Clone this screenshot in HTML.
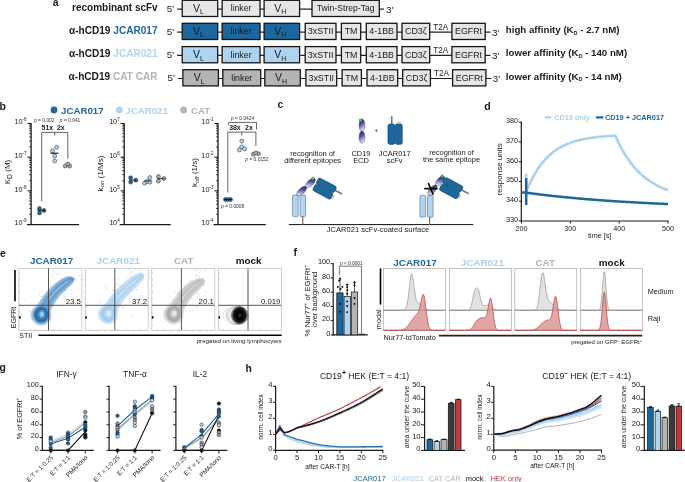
<!DOCTYPE html>
<html><head><meta charset="utf-8"><style>
html,body{margin:0;padding:0;background:#fff;overflow:hidden;}
svg{display:block;will-change:transform;filter:blur(0.3px);}
text{font-family:"Liberation Sans", sans-serif;}
</style></head><body>
<svg width="685" height="482" viewBox="0 0 685 482">
<defs>
<linearGradient id="pg" x1="0" y1="0" x2="0.35" y2="1"><stop offset="0" stop-color="#25276e"/><stop offset="0.45" stop-color="#4a4c98"/><stop offset="1" stop-color="#e6e6f4"/></linearGradient>
</defs>
<rect width="685" height="482" fill="#fff"/>
<text x="52.8" y="6.4" font-size="10.4" text-anchor="start" font-weight="bold" fill="#1a1a1a" >a</text>
<text x="157.7" y="10.6" font-size="10.0" text-anchor="end" font-weight="bold" fill="#1a1a1a" >recombinant scFv</text>
<text x="166.8" y="12" font-size="9.9" text-anchor="start" fill="#1a1a1a" >5'</text>
<line x1="177.2" y1="9.1" x2="384" y2="9.1" stroke="#222" stroke-width="1.2" />
<rect x="182.2" y="0.3" width="35.5" height="16.2" fill="#e6e6e6" stroke="#151515" stroke-width="1.3" rx="0" />
<text x="198.45" y="12" font-size="10.5" text-anchor="middle" fill="#1a1a1a">V<tspan font-size="7" dy="2.2">L</tspan></text>
<rect x="222.1" y="0.3" width="37.9" height="16.2" fill="#e6e6e6" stroke="#151515" stroke-width="1.3" rx="0" />
<text x="241.05" y="11.4" font-size="8.65" text-anchor="middle" fill="#1a1a1a" >linker</text>
<rect x="264.1" y="0.3" width="35.5" height="16.2" fill="#e6e6e6" stroke="#151515" stroke-width="1.3" rx="0" />
<text x="280.35" y="12" font-size="10.5" text-anchor="middle" fill="#1a1a1a">V<tspan font-size="7" dy="2.2">H</tspan></text>
<rect x="312" y="0.3" width="67.3" height="16.2" fill="#e6e6e6" stroke="#151515" stroke-width="1.3" rx="0" />
<text x="345.65" y="11.4" font-size="8.65" text-anchor="middle" fill="#1a1a1a" >Twin-Strep-Tag</text>
<text x="386" y="12.8" font-size="9.9" text-anchor="start" fill="#1a1a1a" >3'</text>
<text x="157.6" y="33.7" font-size="10.1" text-anchor="end" font-weight="bold" fill="#1a1a1a">α-hCD19 <tspan fill="#1b679e">JCAR017</tspan></text>
<text x="166.8" y="35" font-size="9.9" text-anchor="start" fill="#1a1a1a" >5'</text>
<line x1="177.2" y1="32.1" x2="490.5" y2="32.1" stroke="#222" stroke-width="1.2" />
<rect x="182.2" y="23.3" width="35.5" height="16.2" fill="#1b679e" stroke="#151515" stroke-width="1.3" rx="0" />
<text x="198.45" y="35" font-size="10.5" text-anchor="middle" fill="#1a1a1a">V<tspan font-size="7" dy="2.2">L</tspan></text>
<rect x="222.1" y="23.3" width="37.9" height="16.2" fill="#1b679e" stroke="#151515" stroke-width="1.3" rx="0" />
<text x="241.05" y="34.4" font-size="8.85" text-anchor="middle" fill="#1a1a1a" >linker</text>
<rect x="264.1" y="23.3" width="35.5" height="16.2" fill="#1b679e" stroke="#151515" stroke-width="1.3" rx="0" />
<text x="280.35" y="35" font-size="10.5" text-anchor="middle" fill="#1a1a1a">V<tspan font-size="7" dy="2.2">H</tspan></text>
<rect x="305.2" y="23.3" width="30.8" height="16.2" fill="#e6e6e6" stroke="#151515" stroke-width="1.3" rx="0" />
<text x="320.6" y="34.4" font-size="8.85" text-anchor="middle" fill="#1a1a1a" >3xSTII</text>
<rect x="341.4" y="23.3" width="19.3" height="16.2" fill="#e6e6e6" stroke="#151515" stroke-width="1.3" rx="0" />
<text x="351.05" y="34.4" font-size="8.85" text-anchor="middle" fill="#1a1a1a" >TM</text>
<rect x="366.3" y="23.3" width="30.7" height="16.2" fill="#e6e6e6" stroke="#151515" stroke-width="1.3" rx="0" />
<text x="381.65" y="34.4" font-size="8.85" text-anchor="middle" fill="#1a1a1a" >4-1BB</text>
<rect x="402" y="23.3" width="27.7" height="16.2" fill="#e6e6e6" stroke="#151515" stroke-width="1.3" rx="0" />
<text x="415.85" y="34.4" font-size="8.85" text-anchor="middle" fill="#1a1a1a" >CD3ζ</text>
<rect x="451.9" y="23.3" width="33.3" height="16.2" fill="#e6e6e6" stroke="#151515" stroke-width="1.3" rx="0" />
<text x="468.55" y="34.4" font-size="8.85" text-anchor="middle" fill="#1a1a1a" >EGFRt</text>
<text x="440.8" y="29.8" font-size="8.2" text-anchor="middle" fill="#1a1a1a" >T2A</text>
<text x="492" y="35.8" font-size="9.9" text-anchor="start" fill="#1a1a1a" >3'</text>
<text x="157.6" y="57" font-size="10.1" text-anchor="end" font-weight="bold" fill="#1a1a1a">α-hCD19 <tspan fill="#aed4ef">JCAR021</tspan></text>
<text x="166.8" y="58.3" font-size="9.9" text-anchor="start" fill="#1a1a1a" >5'</text>
<line x1="177.2" y1="55.4" x2="490.5" y2="55.4" stroke="#222" stroke-width="1.2" />
<rect x="182.2" y="46.6" width="35.5" height="16.2" fill="#aed4ef" stroke="#151515" stroke-width="1.3" rx="0" />
<text x="198.45" y="58.3" font-size="10.5" text-anchor="middle" fill="#1a1a1a">V<tspan font-size="7" dy="2.2">L</tspan></text>
<rect x="222.1" y="46.6" width="37.9" height="16.2" fill="#aed4ef" stroke="#151515" stroke-width="1.3" rx="0" />
<text x="241.05" y="57.7" font-size="8.85" text-anchor="middle" fill="#1a1a1a" >linker</text>
<rect x="264.1" y="46.6" width="35.5" height="16.2" fill="#aed4ef" stroke="#151515" stroke-width="1.3" rx="0" />
<text x="280.35" y="58.3" font-size="10.5" text-anchor="middle" fill="#1a1a1a">V<tspan font-size="7" dy="2.2">H</tspan></text>
<rect x="305.2" y="46.6" width="30.8" height="16.2" fill="#e6e6e6" stroke="#151515" stroke-width="1.3" rx="0" />
<text x="320.6" y="57.7" font-size="8.85" text-anchor="middle" fill="#1a1a1a" >3xSTII</text>
<rect x="341.4" y="46.6" width="19.3" height="16.2" fill="#e6e6e6" stroke="#151515" stroke-width="1.3" rx="0" />
<text x="351.05" y="57.7" font-size="8.85" text-anchor="middle" fill="#1a1a1a" >TM</text>
<rect x="366.3" y="46.6" width="30.7" height="16.2" fill="#e6e6e6" stroke="#151515" stroke-width="1.3" rx="0" />
<text x="381.65" y="57.7" font-size="8.85" text-anchor="middle" fill="#1a1a1a" >4-1BB</text>
<rect x="402" y="46.6" width="27.7" height="16.2" fill="#e6e6e6" stroke="#151515" stroke-width="1.3" rx="0" />
<text x="415.85" y="57.7" font-size="8.85" text-anchor="middle" fill="#1a1a1a" >CD3ζ</text>
<rect x="451.9" y="46.6" width="33.3" height="16.2" fill="#e6e6e6" stroke="#151515" stroke-width="1.3" rx="0" />
<text x="468.55" y="57.7" font-size="8.85" text-anchor="middle" fill="#1a1a1a" >EGFRt</text>
<text x="440.8" y="53.1" font-size="8.2" text-anchor="middle" fill="#1a1a1a" >T2A</text>
<text x="492" y="59.1" font-size="9.9" text-anchor="start" fill="#1a1a1a" >3'</text>
<text x="157.6" y="80.1" font-size="10.1" text-anchor="end" font-weight="bold" fill="#1a1a1a">α-hCD19 <tspan fill="#b4b4b4">CAT CAR</tspan></text>
<text x="167.5" y="81.4" font-size="9.9" text-anchor="start" fill="#1a1a1a" >5'</text>
<line x1="177.9" y1="78.5" x2="491.2" y2="78.5" stroke="#222" stroke-width="1.2" />
<rect x="182.9" y="69.7" width="35.5" height="16.2" fill="#b4b4b4" stroke="#151515" stroke-width="1.3" rx="0" />
<text x="199.15" y="81.4" font-size="10.5" text-anchor="middle" fill="#1a1a1a">V<tspan font-size="7" dy="2.2">L</tspan></text>
<rect x="222.8" y="69.7" width="37.9" height="16.2" fill="#b4b4b4" stroke="#151515" stroke-width="1.3" rx="0" />
<text x="241.75" y="80.8" font-size="8.85" text-anchor="middle" fill="#1a1a1a" >linker</text>
<rect x="264.8" y="69.7" width="35.5" height="16.2" fill="#b4b4b4" stroke="#151515" stroke-width="1.3" rx="0" />
<text x="281.05" y="81.4" font-size="10.5" text-anchor="middle" fill="#1a1a1a">V<tspan font-size="7" dy="2.2">H</tspan></text>
<rect x="305.9" y="69.7" width="30.8" height="16.2" fill="#e6e6e6" stroke="#151515" stroke-width="1.3" rx="0" />
<text x="321.3" y="80.8" font-size="8.85" text-anchor="middle" fill="#1a1a1a" >3xSTII</text>
<rect x="342.1" y="69.7" width="19.3" height="16.2" fill="#e6e6e6" stroke="#151515" stroke-width="1.3" rx="0" />
<text x="351.75" y="80.8" font-size="8.85" text-anchor="middle" fill="#1a1a1a" >TM</text>
<rect x="367" y="69.7" width="30.7" height="16.2" fill="#e6e6e6" stroke="#151515" stroke-width="1.3" rx="0" />
<text x="382.35" y="80.8" font-size="8.85" text-anchor="middle" fill="#1a1a1a" >4-1BB</text>
<rect x="402.7" y="69.7" width="27.7" height="16.2" fill="#e6e6e6" stroke="#151515" stroke-width="1.3" rx="0" />
<text x="416.55" y="80.8" font-size="8.85" text-anchor="middle" fill="#1a1a1a" >CD3ζ</text>
<rect x="452.6" y="69.7" width="33.3" height="16.2" fill="#e6e6e6" stroke="#151515" stroke-width="1.3" rx="0" />
<text x="469.25" y="80.8" font-size="8.85" text-anchor="middle" fill="#1a1a1a" >EGFRt</text>
<text x="441.5" y="76.2" font-size="8.2" text-anchor="middle" fill="#1a1a1a" >T2A</text>
<text x="492.7" y="82.2" font-size="9.9" text-anchor="start" fill="#1a1a1a" >3'</text>
<text x="505.8" y="33.1" font-size="9.7" font-weight="bold" fill="#1a1a1a">high affinity (K<tspan font-size="5.5" dy="1.8">D</tspan><tspan dy="-1.8"> - 2.7 nM)</tspan></text>
<text x="505.8" y="56.4" font-size="9.7" font-weight="bold" fill="#1a1a1a">lower affinity (K<tspan font-size="5.5" dy="1.8">D</tspan><tspan dy="-1.8"> - 140 nM)</tspan></text>
<text x="505.8" y="79.5" font-size="9.7" font-weight="bold" fill="#1a1a1a">lower affinity (K<tspan font-size="5.5" dy="1.8">D</tspan><tspan dy="-1.8"> - 14 nM)</tspan></text>
<text x="-0.6" y="109.9" font-size="10.5" text-anchor="start" font-weight="bold" fill="#1a1a1a" >b</text>
<circle cx="54" cy="110" r="3.4" fill="#1b679e" stroke="none" stroke-width="0.6"/>
<text x="61" y="113.8" font-size="9.7" text-anchor="start" font-weight="bold" fill="#1b679e" >JCAR017</text>
<circle cx="119.4" cy="110" r="3.4" fill="#aed4ef" stroke="none" stroke-width="0.6"/>
<text x="125.3" y="113.8" font-size="9.7" text-anchor="start" font-weight="bold" fill="#aed4ef" >JCAR021</text>
<circle cx="183.6" cy="110" r="3.4" fill="#b4b4b4" stroke="none" stroke-width="0.6"/>
<text x="191" y="113.8" font-size="9.7" text-anchor="start" font-weight="bold" fill="#b4b4b4" >CAT</text>
<line x1="31.1" y1="123" x2="31.1" y2="224.9" stroke="#1a1a1a" stroke-width="1.3" />
<line x1="27.5" y1="123.5" x2="31.1" y2="123.5" stroke="#1a1a1a" stroke-width="1.1" />
<text x="26.6" y="124.3" font-size="7.2" text-anchor="end" fill="#1a1a1a">10<tspan font-size="4.6" dy="-3">-6</tspan></text>
<line x1="27.5" y1="157.17" x2="31.1" y2="157.17" stroke="#1a1a1a" stroke-width="1.1" />
<text x="26.6" y="157.97" font-size="7.2" text-anchor="end" fill="#1a1a1a">10<tspan font-size="4.6" dy="-3">-7</tspan></text>
<line x1="27.5" y1="190.84" x2="31.1" y2="190.84" stroke="#1a1a1a" stroke-width="1.1" />
<text x="26.6" y="191.64" font-size="7.2" text-anchor="end" fill="#1a1a1a">10<tspan font-size="4.6" dy="-3">-8</tspan></text>
<line x1="27.5" y1="224.51" x2="31.1" y2="224.51" stroke="#1a1a1a" stroke-width="1.1" />
<text x="26.6" y="225.31" font-size="7.2" text-anchor="end" fill="#1a1a1a">10<tspan font-size="4.6" dy="-3">-9</tspan></text>
<line x1="29.1" y1="147.03" x2="31.1" y2="147.03" stroke="#1a1a1a" stroke-width="0.8" />
<line x1="29.1" y1="141.11" x2="31.1" y2="141.11" stroke="#1a1a1a" stroke-width="0.8" />
<line x1="29.1" y1="136.9" x2="31.1" y2="136.9" stroke="#1a1a1a" stroke-width="0.8" />
<line x1="29.1" y1="133.64" x2="31.1" y2="133.64" stroke="#1a1a1a" stroke-width="0.8" />
<line x1="29.1" y1="130.97" x2="31.1" y2="130.97" stroke="#1a1a1a" stroke-width="0.8" />
<line x1="29.1" y1="128.72" x2="31.1" y2="128.72" stroke="#1a1a1a" stroke-width="0.8" />
<line x1="29.1" y1="126.76" x2="31.1" y2="126.76" stroke="#1a1a1a" stroke-width="0.8" />
<line x1="29.1" y1="125.04" x2="31.1" y2="125.04" stroke="#1a1a1a" stroke-width="0.8" />
<line x1="29.1" y1="180.7" x2="31.1" y2="180.7" stroke="#1a1a1a" stroke-width="0.8" />
<line x1="29.1" y1="174.78" x2="31.1" y2="174.78" stroke="#1a1a1a" stroke-width="0.8" />
<line x1="29.1" y1="170.57" x2="31.1" y2="170.57" stroke="#1a1a1a" stroke-width="0.8" />
<line x1="29.1" y1="167.31" x2="31.1" y2="167.31" stroke="#1a1a1a" stroke-width="0.8" />
<line x1="29.1" y1="164.64" x2="31.1" y2="164.64" stroke="#1a1a1a" stroke-width="0.8" />
<line x1="29.1" y1="162.39" x2="31.1" y2="162.39" stroke="#1a1a1a" stroke-width="0.8" />
<line x1="29.1" y1="160.43" x2="31.1" y2="160.43" stroke="#1a1a1a" stroke-width="0.8" />
<line x1="29.1" y1="158.71" x2="31.1" y2="158.71" stroke="#1a1a1a" stroke-width="0.8" />
<line x1="29.1" y1="214.37" x2="31.1" y2="214.37" stroke="#1a1a1a" stroke-width="0.8" />
<line x1="29.1" y1="208.45" x2="31.1" y2="208.45" stroke="#1a1a1a" stroke-width="0.8" />
<line x1="29.1" y1="204.24" x2="31.1" y2="204.24" stroke="#1a1a1a" stroke-width="0.8" />
<line x1="29.1" y1="200.98" x2="31.1" y2="200.98" stroke="#1a1a1a" stroke-width="0.8" />
<line x1="29.1" y1="198.31" x2="31.1" y2="198.31" stroke="#1a1a1a" stroke-width="0.8" />
<line x1="29.1" y1="196.06" x2="31.1" y2="196.06" stroke="#1a1a1a" stroke-width="0.8" />
<line x1="29.1" y1="194.1" x2="31.1" y2="194.1" stroke="#1a1a1a" stroke-width="0.8" />
<line x1="29.1" y1="192.38" x2="31.1" y2="192.38" stroke="#1a1a1a" stroke-width="0.8" />
<line x1="26.9" y1="224.6" x2="79.1" y2="224.6" stroke="#1a1a1a" stroke-width="1.3" />
<text transform="translate(10.3,172) rotate(-90)" font-size="8" text-anchor="middle" fill="#1a1a1a">K<tspan font-size="6.8" dy="1.3">D</tspan><tspan dy="-1.3"> (M)</tspan></text>
<path d="M41.7,201.3 L41.7,132.4 L67.8,132.4 L67.8,158.5" fill="none" stroke="#555" stroke-width="0.9" />
<line x1="54.7" y1="132.4" x2="54.7" y2="135.5" stroke="#555" stroke-width="0.9" />
<text x="41.6" y="129.9" font-size="6.9" text-anchor="start" font-weight="bold" fill="#1a1a1a" >51x</text>
<text x="57" y="129.9" font-size="6.9" text-anchor="start" font-weight="bold" fill="#1a1a1a" >2x</text>
<text x="34" y="122.2" font-size="4.9" fill="#333"><tspan font-style="italic">p</tspan> = 0.002</text>
<text x="59.8" y="122.2" font-size="4.9" fill="#333"><tspan font-style="italic">p</tspan> = 0.041</text>
<circle cx="39.5" cy="208.5" r="2.0" fill="#1b679e" stroke="#333" stroke-width="0.55"/>
<circle cx="39.5" cy="212.9" r="2.0" fill="#1b679e" stroke="#333" stroke-width="0.55"/>
<circle cx="44" cy="210.4" r="2.0" fill="#1b679e" stroke="#333" stroke-width="0.55"/>
<line x1="37.5" y1="210.6" x2="45" y2="210.6" stroke="#111" stroke-width="0.9" />
<circle cx="56.6" cy="147.3" r="2.0" fill="#aed4ef" stroke="#333" stroke-width="0.55"/>
<circle cx="52.5" cy="151" r="2.0" fill="#aed4ef" stroke="#333" stroke-width="0.55"/>
<circle cx="54.7" cy="156" r="2.0" fill="#aed4ef" stroke="#333" stroke-width="0.55"/>
<circle cx="54.7" cy="161" r="2.0" fill="#aed4ef" stroke="#333" stroke-width="0.55"/>
<line x1="50.4" y1="153.2" x2="58.5" y2="153.2" stroke="#111" stroke-width="1.1" />
<circle cx="65.3" cy="166" r="2.0" fill="#aaa" stroke="#333" stroke-width="0.55"/>
<circle cx="69.7" cy="166" r="2.0" fill="#aaa" stroke="#333" stroke-width="0.55"/>
<circle cx="67.8" cy="164.1" r="2.0" fill="#aaa" stroke="#333" stroke-width="0.55"/>
<line x1="124.2" y1="123" x2="124.2" y2="224.9" stroke="#1a1a1a" stroke-width="1.3" />
<line x1="120.6" y1="123.5" x2="124.2" y2="123.5" stroke="#1a1a1a" stroke-width="1.1" />
<text x="119.7" y="124.3" font-size="7.2" text-anchor="end" fill="#1a1a1a">10<tspan font-size="4.6" dy="-3">7</tspan></text>
<line x1="120.6" y1="157.17" x2="124.2" y2="157.17" stroke="#1a1a1a" stroke-width="1.1" />
<text x="119.7" y="157.97" font-size="7.2" text-anchor="end" fill="#1a1a1a">10<tspan font-size="4.6" dy="-3">6</tspan></text>
<line x1="120.6" y1="190.84" x2="124.2" y2="190.84" stroke="#1a1a1a" stroke-width="1.1" />
<text x="119.7" y="191.64" font-size="7.2" text-anchor="end" fill="#1a1a1a">10<tspan font-size="4.6" dy="-3">5</tspan></text>
<line x1="120.6" y1="224.51" x2="124.2" y2="224.51" stroke="#1a1a1a" stroke-width="1.1" />
<text x="119.7" y="225.31" font-size="7.2" text-anchor="end" fill="#1a1a1a">10<tspan font-size="4.6" dy="-3">4</tspan></text>
<line x1="122.2" y1="147.03" x2="124.2" y2="147.03" stroke="#1a1a1a" stroke-width="0.8" />
<line x1="122.2" y1="141.11" x2="124.2" y2="141.11" stroke="#1a1a1a" stroke-width="0.8" />
<line x1="122.2" y1="136.9" x2="124.2" y2="136.9" stroke="#1a1a1a" stroke-width="0.8" />
<line x1="122.2" y1="133.64" x2="124.2" y2="133.64" stroke="#1a1a1a" stroke-width="0.8" />
<line x1="122.2" y1="130.97" x2="124.2" y2="130.97" stroke="#1a1a1a" stroke-width="0.8" />
<line x1="122.2" y1="128.72" x2="124.2" y2="128.72" stroke="#1a1a1a" stroke-width="0.8" />
<line x1="122.2" y1="126.76" x2="124.2" y2="126.76" stroke="#1a1a1a" stroke-width="0.8" />
<line x1="122.2" y1="125.04" x2="124.2" y2="125.04" stroke="#1a1a1a" stroke-width="0.8" />
<line x1="122.2" y1="180.7" x2="124.2" y2="180.7" stroke="#1a1a1a" stroke-width="0.8" />
<line x1="122.2" y1="174.78" x2="124.2" y2="174.78" stroke="#1a1a1a" stroke-width="0.8" />
<line x1="122.2" y1="170.57" x2="124.2" y2="170.57" stroke="#1a1a1a" stroke-width="0.8" />
<line x1="122.2" y1="167.31" x2="124.2" y2="167.31" stroke="#1a1a1a" stroke-width="0.8" />
<line x1="122.2" y1="164.64" x2="124.2" y2="164.64" stroke="#1a1a1a" stroke-width="0.8" />
<line x1="122.2" y1="162.39" x2="124.2" y2="162.39" stroke="#1a1a1a" stroke-width="0.8" />
<line x1="122.2" y1="160.43" x2="124.2" y2="160.43" stroke="#1a1a1a" stroke-width="0.8" />
<line x1="122.2" y1="158.71" x2="124.2" y2="158.71" stroke="#1a1a1a" stroke-width="0.8" />
<line x1="122.2" y1="214.37" x2="124.2" y2="214.37" stroke="#1a1a1a" stroke-width="0.8" />
<line x1="122.2" y1="208.45" x2="124.2" y2="208.45" stroke="#1a1a1a" stroke-width="0.8" />
<line x1="122.2" y1="204.24" x2="124.2" y2="204.24" stroke="#1a1a1a" stroke-width="0.8" />
<line x1="122.2" y1="200.98" x2="124.2" y2="200.98" stroke="#1a1a1a" stroke-width="0.8" />
<line x1="122.2" y1="198.31" x2="124.2" y2="198.31" stroke="#1a1a1a" stroke-width="0.8" />
<line x1="122.2" y1="196.06" x2="124.2" y2="196.06" stroke="#1a1a1a" stroke-width="0.8" />
<line x1="122.2" y1="194.1" x2="124.2" y2="194.1" stroke="#1a1a1a" stroke-width="0.8" />
<line x1="122.2" y1="192.38" x2="124.2" y2="192.38" stroke="#1a1a1a" stroke-width="0.8" />
<line x1="119.7" y1="224.6" x2="170.8" y2="224.6" stroke="#1a1a1a" stroke-width="1.3" />
<text transform="translate(102.5,173.5) rotate(-90)" font-size="8" text-anchor="middle" fill="#1a1a1a">k<tspan font-size="6.2" dy="1.5">on</tspan><tspan dy="-1.5"> (1/Ms)</tspan></text>
<circle cx="130.6" cy="177.8" r="2.0" fill="#1b679e" stroke="#333" stroke-width="0.55"/>
<circle cx="130.6" cy="182.1" r="2.0" fill="#1b679e" stroke="#333" stroke-width="0.55"/>
<circle cx="135.9" cy="180.2" r="2.0" fill="#1b679e" stroke="#333" stroke-width="0.55"/>
<line x1="129.5" y1="180" x2="136" y2="180" stroke="#111" stroke-width="0.8" />
<circle cx="144.6" cy="183.1" r="2.0" fill="#aed4ef" stroke="#333" stroke-width="0.55"/>
<circle cx="147.2" cy="181.3" r="2.0" fill="#aed4ef" stroke="#333" stroke-width="0.55"/>
<circle cx="149.9" cy="177.6" r="2.0" fill="#aed4ef" stroke="#333" stroke-width="0.55"/>
<circle cx="149.9" cy="182.1" r="2.0" fill="#aed4ef" stroke="#333" stroke-width="0.55"/>
<line x1="144" y1="181" x2="151" y2="181" stroke="#111" stroke-width="0.8" />
<circle cx="158.4" cy="176.6" r="2.0" fill="#aaa" stroke="#333" stroke-width="0.55"/>
<circle cx="158.4" cy="181" r="2.0" fill="#aaa" stroke="#333" stroke-width="0.55"/>
<circle cx="163.9" cy="178.5" r="2.0" fill="#aaa" stroke="#333" stroke-width="0.55"/>
<line x1="157.5" y1="178.7" x2="164.5" y2="178.7" stroke="#111" stroke-width="0.8" />
<line x1="218" y1="123" x2="218" y2="224.9" stroke="#1a1a1a" stroke-width="1.3" />
<line x1="214.4" y1="123.5" x2="218" y2="123.5" stroke="#1a1a1a" stroke-width="1.1" />
<text x="213.5" y="124.3" font-size="7.2" text-anchor="end" fill="#1a1a1a">10<tspan font-size="4.6" dy="-3">-1</tspan></text>
<line x1="214.4" y1="157.17" x2="218" y2="157.17" stroke="#1a1a1a" stroke-width="1.1" />
<text x="213.5" y="157.97" font-size="7.2" text-anchor="end" fill="#1a1a1a">10<tspan font-size="4.6" dy="-3">-2</tspan></text>
<line x1="214.4" y1="190.84" x2="218" y2="190.84" stroke="#1a1a1a" stroke-width="1.1" />
<text x="213.5" y="191.64" font-size="7.2" text-anchor="end" fill="#1a1a1a">10<tspan font-size="4.6" dy="-3">-3</tspan></text>
<line x1="214.4" y1="224.51" x2="218" y2="224.51" stroke="#1a1a1a" stroke-width="1.1" />
<text x="213.5" y="225.31" font-size="7.2" text-anchor="end" fill="#1a1a1a">10<tspan font-size="4.6" dy="-3">-4</tspan></text>
<line x1="216" y1="147.03" x2="218" y2="147.03" stroke="#1a1a1a" stroke-width="0.8" />
<line x1="216" y1="141.11" x2="218" y2="141.11" stroke="#1a1a1a" stroke-width="0.8" />
<line x1="216" y1="136.9" x2="218" y2="136.9" stroke="#1a1a1a" stroke-width="0.8" />
<line x1="216" y1="133.64" x2="218" y2="133.64" stroke="#1a1a1a" stroke-width="0.8" />
<line x1="216" y1="130.97" x2="218" y2="130.97" stroke="#1a1a1a" stroke-width="0.8" />
<line x1="216" y1="128.72" x2="218" y2="128.72" stroke="#1a1a1a" stroke-width="0.8" />
<line x1="216" y1="126.76" x2="218" y2="126.76" stroke="#1a1a1a" stroke-width="0.8" />
<line x1="216" y1="125.04" x2="218" y2="125.04" stroke="#1a1a1a" stroke-width="0.8" />
<line x1="216" y1="180.7" x2="218" y2="180.7" stroke="#1a1a1a" stroke-width="0.8" />
<line x1="216" y1="174.78" x2="218" y2="174.78" stroke="#1a1a1a" stroke-width="0.8" />
<line x1="216" y1="170.57" x2="218" y2="170.57" stroke="#1a1a1a" stroke-width="0.8" />
<line x1="216" y1="167.31" x2="218" y2="167.31" stroke="#1a1a1a" stroke-width="0.8" />
<line x1="216" y1="164.64" x2="218" y2="164.64" stroke="#1a1a1a" stroke-width="0.8" />
<line x1="216" y1="162.39" x2="218" y2="162.39" stroke="#1a1a1a" stroke-width="0.8" />
<line x1="216" y1="160.43" x2="218" y2="160.43" stroke="#1a1a1a" stroke-width="0.8" />
<line x1="216" y1="158.71" x2="218" y2="158.71" stroke="#1a1a1a" stroke-width="0.8" />
<line x1="216" y1="214.37" x2="218" y2="214.37" stroke="#1a1a1a" stroke-width="0.8" />
<line x1="216" y1="208.45" x2="218" y2="208.45" stroke="#1a1a1a" stroke-width="0.8" />
<line x1="216" y1="204.24" x2="218" y2="204.24" stroke="#1a1a1a" stroke-width="0.8" />
<line x1="216" y1="200.98" x2="218" y2="200.98" stroke="#1a1a1a" stroke-width="0.8" />
<line x1="216" y1="198.31" x2="218" y2="198.31" stroke="#1a1a1a" stroke-width="0.8" />
<line x1="216" y1="196.06" x2="218" y2="196.06" stroke="#1a1a1a" stroke-width="0.8" />
<line x1="216" y1="194.1" x2="218" y2="194.1" stroke="#1a1a1a" stroke-width="0.8" />
<line x1="216" y1="192.38" x2="218" y2="192.38" stroke="#1a1a1a" stroke-width="0.8" />
<line x1="213.5" y1="224.6" x2="265.8" y2="224.6" stroke="#1a1a1a" stroke-width="1.3" />
<text transform="translate(197.3,172.6) rotate(-90)" font-size="8" text-anchor="middle" fill="#1a1a1a">k<tspan font-size="6.2" dy="1.5">off</tspan><tspan dy="-1.5"> (1/s)</tspan></text>
<path d="M227.8,192.6 L227.8,132.1 L255.9,132.1 L255.9,146" fill="none" stroke="#555" stroke-width="0.9" />
<line x1="241.8" y1="132.1" x2="241.8" y2="135.5" stroke="#555" stroke-width="0.9" />
<path d="M228.5,124.8 L228.5,122.4 L256.5,122.4 L256.5,129.5" fill="none" stroke="#555" stroke-width="0.9" />
<text x="229.2" y="130.1" font-size="6.9" text-anchor="start" font-weight="bold" fill="#1a1a1a" >38x</text>
<text x="245.1" y="130.1" font-size="6.9" text-anchor="start" font-weight="bold" fill="#1a1a1a" >2x</text>
<text x="231" y="120" font-size="4.9" fill="#333"><tspan font-style="italic">p</tspan> = 0.0424</text>
<text x="245.3" y="161" font-size="4.9" fill="#333"><tspan font-style="italic">p</tspan> = 0.0152</text>
<text x="221" y="207.8" font-size="4.9" fill="#333"><tspan font-style="italic">p</tspan> = 0.0008</text>
<circle cx="241.8" cy="141.1" r="2.0" fill="#aed4ef" stroke="#333" stroke-width="0.55"/>
<circle cx="241.6" cy="146.9" r="2.0" fill="#aed4ef" stroke="#333" stroke-width="0.55"/>
<circle cx="239.4" cy="150" r="2.0" fill="#aed4ef" stroke="#333" stroke-width="0.55"/>
<circle cx="244.7" cy="148.9" r="2.0" fill="#aed4ef" stroke="#333" stroke-width="0.55"/>
<circle cx="253.4" cy="154.2" r="2.0" fill="#aaa" stroke="#333" stroke-width="0.55"/>
<circle cx="258.4" cy="153.8" r="2.0" fill="#aaa" stroke="#333" stroke-width="0.55"/>
<circle cx="255.9" cy="152.9" r="2.0" fill="#aaa" stroke="#333" stroke-width="0.55"/>
<circle cx="225.5" cy="199.5" r="2.0" fill="#1b679e" stroke="#333" stroke-width="0.55"/>
<circle cx="228" cy="199.5" r="2.0" fill="#1b679e" stroke="#333" stroke-width="0.55"/>
<circle cx="230.5" cy="199.5" r="2.0" fill="#1b679e" stroke="#333" stroke-width="0.55"/>
<line x1="224" y1="199.5" x2="232" y2="199.5" stroke="#111" stroke-width="0.8" />
<text x="277.4" y="107.9" font-size="10.3" text-anchor="start" font-weight="bold" fill="#1a1a1a" >c</text>
<g transform="translate(362,131.2) rotate(0) scale(1.0)"><ellipse cx="0" cy="-6" rx="2.9" ry="6.2" fill="url(#pg)" stroke="#2a2c6a" stroke-width="0.4"/><ellipse cx="0" cy="6" rx="2.9" ry="6.2" fill="url(#pg)" stroke="#2a2c6a" stroke-width="0.4"/><circle cx="-1.6" cy="-11" r="1.35" fill="#3ee03e" stroke="#1a7a1a" stroke-width="0.3"/></g>
<text x="376.3" y="132.3" font-size="6" text-anchor="middle" fill="#1a1a1a" >+</text>
<g transform="translate(395.1,134.2) rotate(0)"><line x1="-3.4" y1="-10" x2="-3.4" y2="-18" stroke="#7a7a7a" stroke-width="1.7"/><path d="M1.6,-10 A2,2 0 0 1 5.6,-10" fill="#f4f4f4" stroke="#666" stroke-width="0.4"/><rect x="-7.2" y="-10.2" width="7" height="20.4" rx="2" fill="#1b679e" stroke="#0b3350" stroke-width="0.5"/><rect x="0.2" y="-10.2" width="7" height="20.4" rx="2" fill="#1b679e" stroke="#0b3350" stroke-width="0.5"/></g>
<text x="312.6" y="156" font-size="7.45" text-anchor="middle" fill="#1a1a1a" >recognition of</text>
<text x="312.6" y="163.3" font-size="7.45" text-anchor="middle" fill="#1a1a1a" >different epitopes</text>
<text x="361" y="155.7" font-size="7.45" text-anchor="middle" fill="#1a1a1a" >CD19</text>
<text x="361" y="162.8" font-size="7.45" text-anchor="middle" fill="#1a1a1a" >ECD</text>
<text x="394.7" y="155.6" font-size="7.45" text-anchor="middle" fill="#1a1a1a" >JCAR017</text>
<text x="394.7" y="163.1" font-size="7.45" text-anchor="middle" fill="#1a1a1a" >scFv</text>
<text x="451.5" y="154.5" font-size="7.45" text-anchor="middle" fill="#1a1a1a" >recognition of</text>
<text x="451.5" y="161.6" font-size="7.45" text-anchor="middle" fill="#1a1a1a" >the same epitope</text>
<line x1="288.8" y1="224.6" x2="473.2" y2="224.6" stroke="#111" stroke-width="1" />
<text x="378" y="231.6" font-size="7.55" text-anchor="middle" fill="#1a1a1a" >JCAR021 scFv-coated surface</text>
<line x1="302.7" y1="215.6" x2="302.7" y2="224.6" stroke="#777" stroke-width="1.3" />
<rect x="292.4" y="195" width="5.8" height="21.6" fill="#aed4ef" stroke="#556" stroke-width="0.5" rx="1" />
<rect x="300" y="195" width="5.6" height="21.6" fill="#aed4ef" stroke="#556" stroke-width="0.5" rx="1" />
<g transform="translate(306,187) rotate(47) scale(1.0)"><ellipse cx="0" cy="-6" rx="2.9" ry="6.2" fill="url(#pg)" stroke="#2a2c6a" stroke-width="0.4"/><ellipse cx="0" cy="6" rx="2.9" ry="6.2" fill="url(#pg)" stroke="#2a2c6a" stroke-width="0.4"/><circle cx="-1.6" cy="-11" r="1.35" fill="#3ee03e" stroke="#1a7a1a" stroke-width="0.3"/></g>
<g transform="translate(324.6,188.6) rotate(118)"><line x1="-3.4" y1="-10" x2="-3.4" y2="-18" stroke="#7a7a7a" stroke-width="1.7"/><path d="M1.6,-10 A2,2 0 0 1 5.6,-10" fill="#f4f4f4" stroke="#666" stroke-width="0.4"/><rect x="-7.2" y="-10.2" width="7" height="20.4" rx="2" fill="#1b679e" stroke="#0b3350" stroke-width="0.5"/><rect x="0.2" y="-10.2" width="7" height="20.4" rx="2" fill="#1b679e" stroke="#0b3350" stroke-width="0.5"/></g>
<line x1="429.6" y1="216.2" x2="429.6" y2="224.6" stroke="#777" stroke-width="1.3" />
<rect x="419.9" y="195.4" width="5.8" height="21.8" fill="#aed4ef" stroke="#556" stroke-width="0.5" rx="1" />
<rect x="427.5" y="195.4" width="5.6" height="21.8" fill="#aed4ef" stroke="#556" stroke-width="0.5" rx="1" />
<g transform="translate(436.2,185.5) rotate(40) scale(1.0)"><ellipse cx="0" cy="-6" rx="2.9" ry="6.2" fill="url(#pg)" stroke="#2a2c6a" stroke-width="0.4"/><ellipse cx="0" cy="6" rx="2.9" ry="6.2" fill="url(#pg)" stroke="#2a2c6a" stroke-width="0.4"/><circle cx="-1.6" cy="-11" r="1.35" fill="#3ee03e" stroke="#1a7a1a" stroke-width="0.3"/></g>
<g transform="translate(451.2,188.2) rotate(118)"><line x1="-3.4" y1="-10" x2="-3.4" y2="-18" stroke="#7a7a7a" stroke-width="1.7"/><path d="M1.6,-10 A2,2 0 0 1 5.6,-10" fill="#f4f4f4" stroke="#666" stroke-width="0.4"/><rect x="-7.2" y="-10.2" width="7" height="20.4" rx="2" fill="#1b679e" stroke="#0b3350" stroke-width="0.5"/><rect x="0.2" y="-10.2" width="7" height="20.4" rx="2" fill="#1b679e" stroke="#0b3350" stroke-width="0.5"/></g>
<line x1="428.2" y1="183" x2="433.4" y2="194.7" stroke="#000" stroke-width="1.6" />
<line x1="424.2" y1="188.6" x2="437.6" y2="188.6" stroke="#000" stroke-width="1.6" />
<text x="484.3" y="110.1" font-size="10.5" text-anchor="start" font-weight="bold" fill="#1a1a1a" >d</text>
<line x1="521.3" y1="121.6" x2="521.3" y2="221.5" stroke="#1a1a1a" stroke-width="1.2" />
<line x1="520.7" y1="221" x2="668.6" y2="221" stroke="#1a1a1a" stroke-width="1.2" />
<line x1="518.8" y1="220.95" x2="521.3" y2="220.95" stroke="#1a1a1a" stroke-width="1" />
<text x="518.2" y="221.75" font-size="7.3" text-anchor="end" fill="#1a1a1a" >330</text>
<line x1="518.8" y1="201.2" x2="521.3" y2="201.2" stroke="#1a1a1a" stroke-width="1" />
<text x="518.2" y="202" font-size="7.3" text-anchor="end" fill="#1a1a1a" >340</text>
<line x1="518.8" y1="181.45" x2="521.3" y2="181.45" stroke="#1a1a1a" stroke-width="1" />
<text x="518.2" y="182.25" font-size="7.3" text-anchor="end" fill="#1a1a1a" >350</text>
<line x1="518.8" y1="161.7" x2="521.3" y2="161.7" stroke="#1a1a1a" stroke-width="1" />
<text x="518.2" y="162.5" font-size="7.3" text-anchor="end" fill="#1a1a1a" >360</text>
<line x1="518.8" y1="141.95" x2="521.3" y2="141.95" stroke="#1a1a1a" stroke-width="1" />
<text x="518.2" y="142.75" font-size="7.3" text-anchor="end" fill="#1a1a1a" >370</text>
<line x1="518.8" y1="122.2" x2="521.3" y2="122.2" stroke="#1a1a1a" stroke-width="1" />
<text x="518.2" y="123" font-size="7.3" text-anchor="end" fill="#1a1a1a" >380</text>
<line x1="521.5" y1="221" x2="521.5" y2="223.5" stroke="#1a1a1a" stroke-width="1" />
<text x="521.5" y="231" font-size="7.2" text-anchor="middle" fill="#1a1a1a" >200</text>
<line x1="570.33" y1="221" x2="570.33" y2="223.5" stroke="#1a1a1a" stroke-width="1" />
<text x="570.33" y="231" font-size="7.2" text-anchor="middle" fill="#1a1a1a" >300</text>
<line x1="619.16" y1="221" x2="619.16" y2="223.5" stroke="#1a1a1a" stroke-width="1" />
<text x="619.16" y="231" font-size="7.2" text-anchor="middle" fill="#1a1a1a" >400</text>
<line x1="667.99" y1="221" x2="667.99" y2="223.5" stroke="#1a1a1a" stroke-width="1" />
<text x="667.99" y="231" font-size="7.2" text-anchor="middle" fill="#1a1a1a" >500</text>
<text transform="translate(502.2,169.3) rotate(-90)" font-size="8.0" text-anchor="middle" fill="#1a1a1a">response units</text>
<text x="599.8" y="238" font-size="7.3" text-anchor="middle" fill="#1a1a1a" >time [s]</text>
<line x1="544.7" y1="117.4" x2="551.3" y2="117.4" stroke="#a9d1ee" stroke-width="2.2" />
<text x="554.2" y="119.8" font-size="7.3" text-anchor="start" font-weight="bold" fill="#a9d1ee" >CD19 only</text>
<line x1="595.9" y1="117.4" x2="603.4" y2="117.4" stroke="#1b679e" stroke-width="2.2" />
<text x="605" y="119.8" font-size="7.3" text-anchor="start" font-weight="bold" fill="#1b679e" >CD19 + JCAR017</text>
<path d="M526.38,191.32 L526.87,190.13 L527.36,188.96 L527.85,187.81 L528.34,186.68 L528.82,185.58 L529.31,184.51 L529.8,183.45 L530.29,182.42 L530.78,181.41 L531.27,180.42 L531.75,179.46 L532.24,178.51 L532.73,177.58 L533.22,176.67 L533.71,175.78 L534.2,174.91 L534.68,174.06 L535.17,173.23 L535.66,172.41 L536.15,171.61 L536.64,170.83 L537.13,170.06 L537.61,169.31 L538.1,168.58 L538.59,167.86 L539.08,167.16 L539.57,166.47 L540.06,165.79 L540.54,165.13 L541.03,164.49 L541.52,163.86 L542.01,163.24 L542.5,162.63 L542.99,162.04 L543.47,161.46 L543.96,160.89 L544.45,160.33 L544.94,159.79 L545.43,159.25 L545.91,158.73 L546.4,158.22 L546.89,157.72 L547.38,157.23 L547.87,156.75 L548.36,156.28 L548.84,155.82 L549.33,155.37 L549.82,154.93 L550.31,154.5 L550.8,154.08 L551.29,153.66 L551.77,153.26 L552.26,152.86 L552.75,152.47 L553.24,152.09 L553.73,151.72 L554.22,151.36 L554.7,151 L555.19,150.65 L555.68,150.31 L556.17,149.98 L556.66,149.65 L557.15,149.33 L557.63,149.02 L558.12,148.71 L558.61,148.41 L559.1,148.12 L559.59,147.83 L560.08,147.55 L560.56,147.27 L561.05,147 L561.54,146.74 L562.03,146.48 L562.52,146.23 L563.01,145.98 L563.49,145.74 L563.98,145.5 L564.47,145.26 L564.96,145.04 L565.45,144.81 L565.94,144.6 L566.42,144.38 L566.91,144.17 L567.4,143.97 L567.89,143.77 L568.38,143.57 L568.87,143.38 L569.35,143.19 L569.84,143.01 L570.33,142.83 L570.82,142.65 L571.31,142.48 L571.79,142.31 L572.28,142.14 L572.77,141.98 L573.26,141.82 L573.75,141.67 L574.24,141.51 L574.72,141.37 L575.21,141.22 L575.7,141.08 L576.19,140.94 L576.68,140.8 L577.17,140.67 L577.65,140.54 L578.14,140.41 L578.63,140.28 L579.12,140.16 L579.61,140.04 L580.1,139.92 L580.58,139.81 L581.07,139.69 L581.56,139.58 L582.05,139.47 L582.54,139.37 L583.03,139.27 L583.51,139.16 L584,139.06 L584.49,138.97 L584.98,138.87 L585.47,138.78 L585.96,138.69 L586.44,138.6 L586.93,138.51 L587.42,138.43 L587.91,138.34 L588.4,138.26 L588.89,138.18 L589.37,138.1 L589.86,138.02 L590.35,137.95 L590.84,137.87 L591.33,137.8 L591.82,137.73 L592.3,137.66 L592.79,137.59 L593.28,137.53 L593.77,137.46 L594.26,137.4 L594.75,137.34 L595.23,137.28 L595.72,137.22 L596.21,137.16 L596.7,137.1 L597.19,137.05 L597.67,136.99 L598.16,136.94 L598.65,136.89 L599.14,136.83 L599.63,136.78 L600.12,136.73 L600.6,136.69 L601.09,136.64 L601.58,136.59 L602.07,136.55 L602.56,136.5 L603.05,136.46 L603.53,136.42 L604.02,136.38 L604.51,136.34 L605,136.3 L605.49,136.26 L605.98,136.22 L606.46,136.18 L606.95,136.14 L607.44,136.11 L607.93,136.07 L608.42,136.04 L608.91,136.01 L609.39,135.97 L609.88,135.94 L610.37,135.91 L610.86,135.88 L611.35,135.85 L611.84,135.82 L612.32,135.79 L612.81,135.76 L613.3,135.73 L613.79,135.71 L614.28,135.68 L614.77,135.65 L615.25,135.63 L615.74,136.73 L616.23,137.82 L616.72,138.88 L617.21,139.93 L617.7,140.96 L618.18,141.98 L618.67,142.97 L619.16,143.95 L619.65,144.91 L620.14,145.86 L620.62,146.79 L621.11,147.7 L621.6,148.6 L622.09,149.48 L622.58,150.35 L623.07,151.2 L623.55,152.04 L624.04,152.86 L624.53,153.67 L625.02,154.47 L625.51,155.25 L626,156.02 L626.48,156.77 L626.97,157.51 L627.46,158.24 L627.95,158.96 L628.44,159.67 L628.93,160.36 L629.41,161.04 L629.9,161.71 L630.39,162.37 L630.88,163.02 L631.37,163.65 L631.86,164.28 L632.34,164.89 L632.83,165.49 L633.32,166.09 L633.81,166.67 L634.3,167.24 L634.79,167.81 L635.27,168.36 L635.76,168.91 L636.25,169.44 L636.74,169.97 L637.23,170.48 L637.72,170.99 L638.2,171.49 L638.69,171.98 L639.18,172.47 L639.67,172.94 L640.16,173.41 L640.65,173.86 L641.13,174.31 L641.62,174.76 L642.11,175.19 L642.6,175.62 L643.09,176.04 L643.58,176.45 L644.06,176.86 L644.55,177.26 L645.04,177.65 L645.53,178.04 L646.02,178.42 L646.5,178.79 L646.99,179.15 L647.48,179.51 L647.97,179.87 L648.46,180.22 L648.95,180.56 L649.43,180.89 L649.92,181.22 L650.41,181.55 L650.9,181.87 L651.39,182.18 L651.88,182.49 L652.36,182.79 L652.85,183.09 L653.34,183.38 L653.83,183.67 L654.32,183.95 L654.81,184.23 L655.29,184.5 L655.78,184.77 L656.27,185.04 L656.76,185.3 L657.25,185.55 L657.74,185.8 L658.22,186.05 L658.71,186.29 L659.2,186.53 L659.69,186.76 L660.18,186.99 L660.67,187.22 L661.15,187.44 L661.64,187.66 L662.13,187.87 L662.62,188.08 L663.11,188.29 L663.6,188.5 L664.08,188.7 L664.57,188.89 L665.06,189.09 L665.55,189.28 L666.04,189.46 L666.53,189.65 L667.01,189.83 L667.5,190 L667.99,190.18" fill="none" stroke="#a9d1ee" stroke-width="2.6" stroke-linejoin="round"/>
<line x1="526.19" y1="173.5" x2="526.19" y2="190" stroke="#a9d1ee" stroke-width="2.4" />
<path d="M521.5,192.51 L521.99,192.51 L522.48,192.51 L522.96,192.51 L523.45,192.51 L523.94,192.51 L524.43,192.51 L524.92,192.51 L525.41,192.51 L525.89,192.51 L526.38,192.71 L526.87,192.77 L527.36,192.84 L527.85,192.91 L528.34,192.97 L528.82,193.04 L529.31,193.1 L529.8,193.17 L530.29,193.23 L530.78,193.29 L531.27,193.36 L531.75,193.42 L532.24,193.48 L532.73,193.55 L533.22,193.61 L533.71,193.67 L534.2,193.74 L534.68,193.8 L535.17,193.86 L535.66,193.92 L536.15,193.98 L536.64,194.04 L537.13,194.1 L537.61,194.17 L538.1,194.23 L538.59,194.29 L539.08,194.35 L539.57,194.4 L540.06,194.46 L540.54,194.52 L541.03,194.58 L541.52,194.64 L542.01,194.7 L542.5,194.76 L542.99,194.82 L543.47,194.87 L543.96,194.93 L544.45,194.99 L544.94,195.05 L545.43,195.1 L545.91,195.16 L546.4,195.21 L546.89,195.27 L547.38,195.33 L547.87,195.38 L548.36,195.44 L548.84,195.49 L549.33,195.55 L549.82,195.6 L550.31,195.66 L550.8,195.71 L551.29,195.77 L551.77,195.82 L552.26,195.87 L552.75,195.93 L553.24,195.98 L553.73,196.03 L554.22,196.09 L554.7,196.14 L555.19,196.19 L555.68,196.24 L556.17,196.29 L556.66,196.35 L557.15,196.4 L557.63,196.45 L558.12,196.5 L558.61,196.55 L559.1,196.6 L559.59,196.65 L560.08,196.7 L560.56,196.75 L561.05,196.8 L561.54,196.85 L562.03,196.9 L562.52,196.95 L563.01,197 L563.49,197.05 L563.98,197.1 L564.47,197.15 L564.96,197.19 L565.45,197.24 L565.94,197.29 L566.42,197.34 L566.91,197.39 L567.4,197.43 L567.89,197.48 L568.38,197.53 L568.87,197.57 L569.35,197.62 L569.84,197.67 L570.33,197.71 L570.82,197.76 L571.31,197.81 L571.79,197.85 L572.28,197.9 L572.77,197.94 L573.26,197.99 L573.75,198.03 L574.24,198.08 L574.72,198.12 L575.21,198.17 L575.7,198.21 L576.19,198.25 L576.68,198.3 L577.17,198.34 L577.65,198.38 L578.14,198.43 L578.63,198.47 L579.12,198.51 L579.61,198.56 L580.1,198.6 L580.58,198.64 L581.07,198.68 L581.56,198.73 L582.05,198.77 L582.54,198.81 L583.03,198.85 L583.51,198.89 L584,198.93 L584.49,198.97 L584.98,199.02 L585.47,199.06 L585.96,199.1 L586.44,199.14 L586.93,199.18 L587.42,199.22 L587.91,199.26 L588.4,199.3 L588.89,199.34 L589.37,199.38 L589.86,199.42 L590.35,199.45 L590.84,199.49 L591.33,199.53 L591.82,199.57 L592.3,199.61 L592.79,199.65 L593.28,199.69 L593.77,199.72 L594.26,199.76 L594.75,199.8 L595.23,199.84 L595.72,199.87 L596.21,199.91 L596.7,199.95 L597.19,199.99 L597.67,200.02 L598.16,200.06 L598.65,200.1 L599.14,200.13 L599.63,200.17 L600.12,200.21 L600.6,200.24 L601.09,200.28 L601.58,200.31 L602.07,200.35 L602.56,200.38 L603.05,200.42 L603.53,200.45 L604.02,200.49 L604.51,200.52 L605,200.56 L605.49,200.59 L605.98,200.63 L606.46,200.66 L606.95,200.7 L607.44,200.73 L607.93,200.76 L608.42,200.8 L608.91,200.83 L609.39,200.86 L609.88,200.9 L610.37,200.93 L610.86,200.96 L611.35,201 L611.84,201.03 L612.32,201.06 L612.81,201.09 L613.3,201.13 L613.79,201.16 L614.28,201.19 L614.77,201.22 L615.25,201.25 L615.74,201.29 L616.23,201.32 L616.72,201.35 L617.21,201.38 L617.7,201.41 L618.18,201.44 L618.67,201.47 L619.16,201.5 L619.65,201.53 L620.14,201.57 L620.62,201.6 L621.11,201.63 L621.6,201.66 L622.09,201.69 L622.58,201.72 L623.07,201.75 L623.55,201.78 L624.04,201.81 L624.53,201.84 L625.02,201.86 L625.51,201.89 L626,201.92 L626.48,201.95 L626.97,201.98 L627.46,202.01 L627.95,202.04 L628.44,202.07 L628.93,202.1 L629.41,202.12 L629.9,202.15 L630.39,202.18 L630.88,202.21 L631.37,202.24 L631.86,202.26 L632.34,202.29 L632.83,202.32 L633.32,202.35 L633.81,202.37 L634.3,202.4 L634.79,202.43 L635.27,202.45 L635.76,202.48 L636.25,202.51 L636.74,202.53 L637.23,202.56 L637.72,202.59 L638.2,202.61 L638.69,202.64 L639.18,202.67 L639.67,202.69 L640.16,202.72 L640.65,202.74 L641.13,202.77 L641.62,202.79 L642.11,202.82 L642.6,202.85 L643.09,202.87 L643.58,202.9 L644.06,202.92 L644.55,202.95 L645.04,202.97 L645.53,203 L646.02,203.02 L646.5,203.05 L646.99,203.07 L647.48,203.09 L647.97,203.12 L648.46,203.14 L648.95,203.17 L649.43,203.19 L649.92,203.21 L650.41,203.24 L650.9,203.26 L651.39,203.29 L651.88,203.31 L652.36,203.33 L652.85,203.36 L653.34,203.38 L653.83,203.4 L654.32,203.42 L654.81,203.45 L655.29,203.47 L655.78,203.49 L656.27,203.52 L656.76,203.54 L657.25,203.56 L657.74,203.58 L658.22,203.61 L658.71,203.63 L659.2,203.65 L659.69,203.67 L660.18,203.69 L660.67,203.72 L661.15,203.74 L661.64,203.76 L662.13,203.78 L662.62,203.8 L663.11,203.82 L663.6,203.85 L664.08,203.87 L664.57,203.89 L665.06,203.91 L665.55,203.93 L666.04,203.95 L666.53,203.97 L667.01,203.99 L667.5,204.01 L667.99,204.03" fill="none" stroke="#1b679e" stroke-width="2.5" stroke-linejoin="round"/>
<line x1="526.19" y1="178.2" x2="526.19" y2="205" stroke="#1b679e" stroke-width="2.5" />
<text x="0" y="257.1" font-size="10.4" text-anchor="start" font-weight="bold" fill="#1a1a1a" >e</text>
<rect x="18.9" y="268.4" width="63" height="62" fill="#fff" stroke="#bbb" stroke-width="0.7" rx="0" />
<line x1="18.9" y1="272.4" x2="20.1" y2="272.4" stroke="#999" stroke-width="0.5" />
<line x1="18.9" y1="279" x2="20.1" y2="279" stroke="#999" stroke-width="0.5" />
<line x1="18.9" y1="285.6" x2="20.1" y2="285.6" stroke="#999" stroke-width="0.5" />
<line x1="18.9" y1="292.2" x2="20.1" y2="292.2" stroke="#999" stroke-width="0.5" />
<line x1="18.9" y1="298.8" x2="20.1" y2="298.8" stroke="#999" stroke-width="0.5" />
<line x1="18.9" y1="305.4" x2="20.1" y2="305.4" stroke="#999" stroke-width="0.5" />
<line x1="18.9" y1="312" x2="20.1" y2="312" stroke="#999" stroke-width="0.5" />
<line x1="18.9" y1="318.6" x2="20.1" y2="318.6" stroke="#999" stroke-width="0.5" />
<line x1="18.9" y1="325.2" x2="20.1" y2="325.2" stroke="#999" stroke-width="0.5" />
<line x1="23.9" y1="330.4" x2="23.9" y2="329.2" stroke="#999" stroke-width="0.5" />
<line x1="31.1" y1="330.4" x2="31.1" y2="329.2" stroke="#999" stroke-width="0.5" />
<line x1="38.3" y1="330.4" x2="38.3" y2="329.2" stroke="#999" stroke-width="0.5" />
<line x1="45.5" y1="330.4" x2="45.5" y2="329.2" stroke="#999" stroke-width="0.5" />
<line x1="52.7" y1="330.4" x2="52.7" y2="329.2" stroke="#999" stroke-width="0.5" />
<line x1="59.9" y1="330.4" x2="59.9" y2="329.2" stroke="#999" stroke-width="0.5" />
<line x1="67.1" y1="330.4" x2="67.1" y2="329.2" stroke="#999" stroke-width="0.5" />
<line x1="74.3" y1="330.4" x2="74.3" y2="329.2" stroke="#999" stroke-width="0.5" />
<rect x="85.2" y="268.4" width="63" height="62" fill="#fff" stroke="#bbb" stroke-width="0.7" rx="0" />
<line x1="85.2" y1="272.4" x2="86.4" y2="272.4" stroke="#999" stroke-width="0.5" />
<line x1="85.2" y1="279" x2="86.4" y2="279" stroke="#999" stroke-width="0.5" />
<line x1="85.2" y1="285.6" x2="86.4" y2="285.6" stroke="#999" stroke-width="0.5" />
<line x1="85.2" y1="292.2" x2="86.4" y2="292.2" stroke="#999" stroke-width="0.5" />
<line x1="85.2" y1="298.8" x2="86.4" y2="298.8" stroke="#999" stroke-width="0.5" />
<line x1="85.2" y1="305.4" x2="86.4" y2="305.4" stroke="#999" stroke-width="0.5" />
<line x1="85.2" y1="312" x2="86.4" y2="312" stroke="#999" stroke-width="0.5" />
<line x1="85.2" y1="318.6" x2="86.4" y2="318.6" stroke="#999" stroke-width="0.5" />
<line x1="85.2" y1="325.2" x2="86.4" y2="325.2" stroke="#999" stroke-width="0.5" />
<line x1="90.2" y1="330.4" x2="90.2" y2="329.2" stroke="#999" stroke-width="0.5" />
<line x1="97.4" y1="330.4" x2="97.4" y2="329.2" stroke="#999" stroke-width="0.5" />
<line x1="104.6" y1="330.4" x2="104.6" y2="329.2" stroke="#999" stroke-width="0.5" />
<line x1="111.8" y1="330.4" x2="111.8" y2="329.2" stroke="#999" stroke-width="0.5" />
<line x1="119" y1="330.4" x2="119" y2="329.2" stroke="#999" stroke-width="0.5" />
<line x1="126.2" y1="330.4" x2="126.2" y2="329.2" stroke="#999" stroke-width="0.5" />
<line x1="133.4" y1="330.4" x2="133.4" y2="329.2" stroke="#999" stroke-width="0.5" />
<line x1="140.6" y1="330.4" x2="140.6" y2="329.2" stroke="#999" stroke-width="0.5" />
<rect x="151.8" y="268.4" width="63" height="62" fill="#fff" stroke="#bbb" stroke-width="0.7" rx="0" />
<line x1="151.8" y1="272.4" x2="153" y2="272.4" stroke="#999" stroke-width="0.5" />
<line x1="151.8" y1="279" x2="153" y2="279" stroke="#999" stroke-width="0.5" />
<line x1="151.8" y1="285.6" x2="153" y2="285.6" stroke="#999" stroke-width="0.5" />
<line x1="151.8" y1="292.2" x2="153" y2="292.2" stroke="#999" stroke-width="0.5" />
<line x1="151.8" y1="298.8" x2="153" y2="298.8" stroke="#999" stroke-width="0.5" />
<line x1="151.8" y1="305.4" x2="153" y2="305.4" stroke="#999" stroke-width="0.5" />
<line x1="151.8" y1="312" x2="153" y2="312" stroke="#999" stroke-width="0.5" />
<line x1="151.8" y1="318.6" x2="153" y2="318.6" stroke="#999" stroke-width="0.5" />
<line x1="151.8" y1="325.2" x2="153" y2="325.2" stroke="#999" stroke-width="0.5" />
<line x1="156.8" y1="330.4" x2="156.8" y2="329.2" stroke="#999" stroke-width="0.5" />
<line x1="164" y1="330.4" x2="164" y2="329.2" stroke="#999" stroke-width="0.5" />
<line x1="171.2" y1="330.4" x2="171.2" y2="329.2" stroke="#999" stroke-width="0.5" />
<line x1="178.4" y1="330.4" x2="178.4" y2="329.2" stroke="#999" stroke-width="0.5" />
<line x1="185.6" y1="330.4" x2="185.6" y2="329.2" stroke="#999" stroke-width="0.5" />
<line x1="192.8" y1="330.4" x2="192.8" y2="329.2" stroke="#999" stroke-width="0.5" />
<line x1="200" y1="330.4" x2="200" y2="329.2" stroke="#999" stroke-width="0.5" />
<line x1="207.2" y1="330.4" x2="207.2" y2="329.2" stroke="#999" stroke-width="0.5" />
<rect x="218.4" y="268.4" width="63" height="62" fill="#fff" stroke="#bbb" stroke-width="0.7" rx="0" />
<line x1="218.4" y1="272.4" x2="219.6" y2="272.4" stroke="#999" stroke-width="0.5" />
<line x1="218.4" y1="279" x2="219.6" y2="279" stroke="#999" stroke-width="0.5" />
<line x1="218.4" y1="285.6" x2="219.6" y2="285.6" stroke="#999" stroke-width="0.5" />
<line x1="218.4" y1="292.2" x2="219.6" y2="292.2" stroke="#999" stroke-width="0.5" />
<line x1="218.4" y1="298.8" x2="219.6" y2="298.8" stroke="#999" stroke-width="0.5" />
<line x1="218.4" y1="305.4" x2="219.6" y2="305.4" stroke="#999" stroke-width="0.5" />
<line x1="218.4" y1="312" x2="219.6" y2="312" stroke="#999" stroke-width="0.5" />
<line x1="218.4" y1="318.6" x2="219.6" y2="318.6" stroke="#999" stroke-width="0.5" />
<line x1="218.4" y1="325.2" x2="219.6" y2="325.2" stroke="#999" stroke-width="0.5" />
<line x1="223.4" y1="330.4" x2="223.4" y2="329.2" stroke="#999" stroke-width="0.5" />
<line x1="230.6" y1="330.4" x2="230.6" y2="329.2" stroke="#999" stroke-width="0.5" />
<line x1="237.8" y1="330.4" x2="237.8" y2="329.2" stroke="#999" stroke-width="0.5" />
<line x1="245" y1="330.4" x2="245" y2="329.2" stroke="#999" stroke-width="0.5" />
<line x1="252.2" y1="330.4" x2="252.2" y2="329.2" stroke="#999" stroke-width="0.5" />
<line x1="259.4" y1="330.4" x2="259.4" y2="329.2" stroke="#999" stroke-width="0.5" />
<line x1="266.6" y1="330.4" x2="266.6" y2="329.2" stroke="#999" stroke-width="0.5" />
<line x1="273.8" y1="330.4" x2="273.8" y2="329.2" stroke="#999" stroke-width="0.5" />
<text x="51.6" y="264.3" font-size="9.9" text-anchor="middle" font-weight="bold" fill="#1b679e" >JCAR017</text>
<text x="118.3" y="264.3" font-size="9.9" text-anchor="middle" font-weight="bold" fill="#a9d1ee" >JCAR021</text>
<text x="183.75" y="264.3" font-size="9.9" text-anchor="middle" font-weight="bold" fill="#b4b4b4" >CAT</text>
<text x="248.55" y="264.3" font-size="9.9" text-anchor="middle" font-weight="bold" fill="#111" >mock</text>
<circle cx="37.68" cy="313.11" r="0.35" fill="#888" stroke="none" stroke-width="0.6"/>
<circle cx="70.07" cy="293.79" r="0.35" fill="#888" stroke="none" stroke-width="0.6"/>
<circle cx="40.28" cy="335.72" r="0.35" fill="#888" stroke="none" stroke-width="0.6"/>
<circle cx="28.34" cy="307.36" r="0.35" fill="#888" stroke="none" stroke-width="0.6"/>
<circle cx="61.16" cy="274.57" r="0.35" fill="#888" stroke="none" stroke-width="0.6"/>
<circle cx="56.61" cy="294.18" r="0.35" fill="#888" stroke="none" stroke-width="0.6"/>
<circle cx="48.84" cy="279.47" r="0.35" fill="#888" stroke="none" stroke-width="0.6"/>
<circle cx="25.39" cy="300.7" r="0.35" fill="#888" stroke="none" stroke-width="0.6"/>
<circle cx="52.45" cy="296.08" r="0.35" fill="#888" stroke="none" stroke-width="0.6"/>
<circle cx="63.76" cy="283.96" r="0.35" fill="#888" stroke="none" stroke-width="0.6"/>
<circle cx="50.61" cy="294.57" r="0.35" fill="#888" stroke="none" stroke-width="0.6"/>
<circle cx="75.29" cy="278.7" r="0.35" fill="#888" stroke="none" stroke-width="0.6"/>
<circle cx="72.07" cy="285.52" r="0.35" fill="#888" stroke="none" stroke-width="0.6"/>
<circle cx="29.35" cy="311.74" r="0.35" fill="#888" stroke="none" stroke-width="0.6"/>
<circle cx="50.51" cy="287.53" r="0.35" fill="#888" stroke="none" stroke-width="0.6"/>
<circle cx="42.3" cy="292.3" r="0.35" fill="#888" stroke="none" stroke-width="0.6"/>
<circle cx="51.29" cy="275.21" r="0.35" fill="#888" stroke="none" stroke-width="0.6"/>
<circle cx="82.62" cy="279.8" r="0.35" fill="#888" stroke="none" stroke-width="0.6"/>
<circle cx="65.75" cy="280.87" r="0.35" fill="#888" stroke="none" stroke-width="0.6"/>
<circle cx="58.33" cy="274.39" r="0.35" fill="#888" stroke="none" stroke-width="0.6"/>
<circle cx="66.49" cy="278.48" r="0.35" fill="#888" stroke="none" stroke-width="0.6"/>
<circle cx="65.44" cy="293.25" r="0.35" fill="#888" stroke="none" stroke-width="0.6"/>
<circle cx="79.79" cy="289.08" r="0.35" fill="#888" stroke="none" stroke-width="0.6"/>
<circle cx="71.64" cy="290.71" r="0.35" fill="#888" stroke="none" stroke-width="0.6"/>
<circle cx="58.76" cy="290.14" r="0.35" fill="#888" stroke="none" stroke-width="0.6"/>
<circle cx="59.49" cy="317.69" r="0.35" fill="#888" stroke="none" stroke-width="0.6"/>
<circle cx="69.47" cy="278.93" r="0.35" fill="#888" stroke="none" stroke-width="0.6"/>
<circle cx="80.64" cy="279.76" r="0.35" fill="#888" stroke="none" stroke-width="0.6"/>
<circle cx="42.64" cy="296.42" r="0.35" fill="#888" stroke="none" stroke-width="0.6"/>
<circle cx="32.44" cy="319.43" r="0.35" fill="#888" stroke="none" stroke-width="0.6"/>
<circle cx="65.87" cy="290.45" r="0.35" fill="#888" stroke="none" stroke-width="0.6"/>
<circle cx="75.56" cy="279.34" r="0.35" fill="#888" stroke="none" stroke-width="0.6"/>
<circle cx="60.6" cy="283.04" r="0.35" fill="#888" stroke="none" stroke-width="0.6"/>
<circle cx="44.75" cy="284.56" r="0.35" fill="#888" stroke="none" stroke-width="0.6"/>
<circle cx="68.45" cy="285.81" r="0.35" fill="#888" stroke="none" stroke-width="0.6"/>
<circle cx="52.85" cy="282.04" r="0.35" fill="#888" stroke="none" stroke-width="0.6"/>
<circle cx="56.13" cy="302.44" r="0.35" fill="#888" stroke="none" stroke-width="0.6"/>
<circle cx="66.99" cy="292.58" r="0.35" fill="#888" stroke="none" stroke-width="0.6"/>
<circle cx="64.04" cy="297.62" r="0.35" fill="#888" stroke="none" stroke-width="0.6"/>
<circle cx="70.76" cy="292.99" r="0.35" fill="#888" stroke="none" stroke-width="0.6"/>
<circle cx="54.83" cy="278.18" r="0.35" fill="#888" stroke="none" stroke-width="0.6"/>
<circle cx="48.59" cy="284.83" r="0.35" fill="#888" stroke="none" stroke-width="0.6"/>
<circle cx="37.65" cy="305.56" r="0.35" fill="#888" stroke="none" stroke-width="0.6"/>
<circle cx="63.59" cy="282.04" r="0.35" fill="#888" stroke="none" stroke-width="0.6"/>
<circle cx="52.11" cy="296.07" r="0.35" fill="#888" stroke="none" stroke-width="0.6"/>
<circle cx="39.67" cy="294.42" r="0.35" fill="#888" stroke="none" stroke-width="0.6"/>
<circle cx="49.61" cy="290.35" r="0.35" fill="#888" stroke="none" stroke-width="0.6"/>
<circle cx="40.2" cy="296.21" r="0.35" fill="#888" stroke="none" stroke-width="0.6"/>
<circle cx="51.3" cy="292.21" r="0.35" fill="#888" stroke="none" stroke-width="0.6"/>
<circle cx="38.72" cy="307.09" r="0.35" fill="#888" stroke="none" stroke-width="0.6"/>
<circle cx="59.31" cy="291.46" r="0.35" fill="#888" stroke="none" stroke-width="0.6"/>
<circle cx="34.79" cy="305.28" r="0.35" fill="#888" stroke="none" stroke-width="0.6"/>
<circle cx="64.36" cy="287" r="0.35" fill="#888" stroke="none" stroke-width="0.6"/>
<circle cx="45.63" cy="291.77" r="0.35" fill="#888" stroke="none" stroke-width="0.6"/>
<circle cx="38.61" cy="302.97" r="0.35" fill="#888" stroke="none" stroke-width="0.6"/>
<circle cx="53.59" cy="292.33" r="0.35" fill="#888" stroke="none" stroke-width="0.6"/>
<circle cx="48.31" cy="297.32" r="0.35" fill="#888" stroke="none" stroke-width="0.6"/>
<circle cx="51.82" cy="299.43" r="0.35" fill="#888" stroke="none" stroke-width="0.6"/>
<circle cx="47.28" cy="296.36" r="0.35" fill="#888" stroke="none" stroke-width="0.6"/>
<circle cx="38.34" cy="307.46" r="0.35" fill="#888" stroke="none" stroke-width="0.6"/>
<circle cx="61.05" cy="290.86" r="0.35" fill="#888" stroke="none" stroke-width="0.6"/>
<circle cx="51.96" cy="304.64" r="0.35" fill="#888" stroke="none" stroke-width="0.6"/>
<circle cx="55.25" cy="286.91" r="0.35" fill="#888" stroke="none" stroke-width="0.6"/>
<circle cx="72.58" cy="293.75" r="0.35" fill="#888" stroke="none" stroke-width="0.6"/>
<circle cx="56.38" cy="271.95" r="0.35" fill="#888" stroke="none" stroke-width="0.6"/>
<circle cx="50.47" cy="299.22" r="0.35" fill="#888" stroke="none" stroke-width="0.6"/>
<circle cx="40.24" cy="300.59" r="0.35" fill="#888" stroke="none" stroke-width="0.6"/>
<circle cx="63.15" cy="306.07" r="0.35" fill="#888" stroke="none" stroke-width="0.6"/>
<circle cx="79.13" cy="275.59" r="0.35" fill="#888" stroke="none" stroke-width="0.6"/>
<circle cx="56.87" cy="274.72" r="0.35" fill="#888" stroke="none" stroke-width="0.6"/>
<path d="M51,318.73 C51.21,316.92 50.35,312.83 50.92,310.25 C51.5,307.67 53.07,305.49 54.43,303.25 C55.8,301 57.39,298.8 59.13,296.77 C60.87,294.74 63.1,292.87 64.88,291.07 C66.67,289.27 68.49,287.38 69.85,285.98 C71.2,284.57 72.29,283.93 73.02,282.64 C73.75,281.35 74.74,279.25 74.24,278.23 C73.73,277.22 71.63,276.66 69.98,276.56 C68.33,276.46 66.5,276.73 64.35,277.62 C62.21,278.52 59.53,280.16 57.12,281.93 C54.7,283.69 52.13,285.92 49.87,288.23 C47.61,290.53 45.53,293.17 43.57,295.75 C41.6,298.34 40.07,301.26 38.08,303.75 C36.08,306.23 32.8,309.08 31.6,310.67 C30.41,312.27 31.01,312.42 30.89,313.32 C30.77,314.22 30.77,315.16 30.89,316.06 C31.01,316.96 31.25,317.87 31.59,318.71 C31.94,319.54 32.41,320.36 32.96,321.08 C33.51,321.8 34.18,322.47 34.9,323.02 C35.62,323.58 36.43,324.05 37.27,324.4 C38.11,324.74 39.02,324.99 39.92,325.11 C40.82,325.23 41.76,325.23 42.66,325.11 C43.56,324.99 44.47,324.75 45.31,324.41 C46.14,324.06 46.96,323.59 47.68,323.04 C48.4,322.49 49.07,321.82 49.62,321.1 C50.18,320.38 50.78,320.54 51,318.73Z" fill="#5b9ad0" stroke="#2a6aa8" stroke-width="0.3" fill-opacity="0.3" stroke-opacity="0.7"/>
<path d="M49.84,318.25 C50.09,316.5 49.45,312.42 50.1,309.84 C50.75,307.26 52.32,305.03 53.73,302.76 C55.13,300.49 56.75,298.26 58.52,296.21 C60.29,294.16 62.54,292.27 64.37,290.46 C66.19,288.66 68.06,286.78 69.46,285.39 C70.86,284.01 72.06,283.32 72.78,282.16 C73.5,281 74.23,279.3 73.8,278.45 C73.38,277.6 71.73,277.08 70.22,277.04 C68.71,277 66.84,277.29 64.74,278.21 C62.64,279.12 60.01,280.77 57.63,282.54 C55.26,284.3 52.71,286.51 50.48,288.79 C48.25,291.07 46.21,293.68 44.27,296.24 C42.34,298.8 40.82,301.68 38.9,304.16 C36.98,306.65 33.89,309.6 32.76,311.15 C31.63,312.7 32.24,312.69 32.13,313.48 C32.03,314.27 32.02,315.11 32.13,315.9 C32.23,316.69 32.45,317.49 32.75,318.23 C33.05,318.97 33.47,319.69 33.95,320.32 C34.44,320.96 35.03,321.55 35.66,322.03 C36.29,322.52 37.01,322.94 37.75,323.24 C38.49,323.55 39.29,323.76 40.08,323.87 C40.87,323.97 41.71,323.98 42.5,323.87 C43.29,323.77 44.09,323.55 44.83,323.25 C45.57,322.95 46.29,322.53 46.92,322.05 C47.56,321.56 48.15,320.97 48.63,320.34 C49.12,319.71 49.6,320 49.84,318.25Z" fill="#5b9ad0" stroke="#2a6aa8" stroke-width="0.3" fill-opacity="0.25" stroke-opacity="0.7"/>
<path d="M48.69,317.77 C48.96,316.08 48.56,312.01 49.28,309.42 C50,306.84 51.58,304.57 53.02,302.27 C54.46,299.97 56.1,297.72 57.91,295.65 C59.71,293.58 61.99,291.66 63.85,289.85 C65.71,288.05 67.63,286.17 69.08,284.81 C70.53,283.45 71.82,282.7 72.54,281.68 C73.25,280.65 73.71,279.36 73.37,278.67 C73.02,277.97 71.84,277.5 70.46,277.52 C69.09,277.55 67.17,277.85 65.12,278.79 C63.07,279.73 60.49,281.39 58.15,283.15 C55.81,284.91 53.29,287.09 51.09,289.35 C48.9,291.62 46.88,294.19 44.98,296.73 C43.09,299.27 41.56,302.09 39.72,304.58 C37.87,307.06 34.97,310.12 33.91,311.63 C32.85,313.14 33.46,312.96 33.37,313.65 C33.28,314.33 33.28,315.05 33.37,315.73 C33.46,316.42 33.64,317.11 33.91,317.75 C34.17,318.39 34.53,319.01 34.95,319.56 C35.37,320.11 35.88,320.62 36.42,321.04 C36.97,321.46 37.59,321.82 38.23,322.09 C38.87,322.35 39.56,322.54 40.25,322.63 C40.93,322.72 41.65,322.72 42.33,322.63 C43.02,322.54 43.71,322.36 44.35,322.09 C44.99,321.83 45.61,321.47 46.16,321.05 C46.71,320.63 47.22,320.12 47.64,319.58 C48.06,319.03 48.41,319.46 48.69,317.77Z" fill="#5b9ad0" stroke="#2a6aa8" stroke-width="0.3" fill-opacity="0.25" stroke-opacity="0.7"/>
<path d="M47.53,317.29 C47.83,315.66 47.66,311.59 48.46,309.01 C49.26,306.42 50.84,304.1 52.31,301.78 C53.78,299.46 55.46,297.17 57.3,295.08 C59.14,292.99 61.43,291.05 63.33,289.24 C65.23,287.43 67.2,285.57 68.69,284.22 C70.19,282.88 71.59,282.08 72.3,281.19 C73,280.3 73.2,279.41 72.93,278.88 C72.67,278.35 71.94,277.93 70.7,278.01 C69.47,278.09 67.51,278.42 65.51,279.38 C63.5,280.33 60.97,282 58.67,283.76 C56.37,285.51 53.86,287.67 51.7,289.92 C49.54,292.16 47.55,294.7 45.69,297.22 C43.83,299.73 42.31,302.51 40.54,304.99 C38.77,307.48 36.06,310.64 35.07,312.11 C34.08,313.58 34.69,313.23 34.61,313.81 C34.53,314.39 34.53,315 34.61,315.57 C34.68,316.15 34.84,316.74 35.06,317.28 C35.28,317.81 35.59,318.34 35.94,318.8 C36.29,319.27 36.72,319.7 37.18,320.05 C37.65,320.41 38.17,320.71 38.71,320.93 C39.25,321.16 39.83,321.31 40.41,321.39 C40.99,321.47 41.6,321.47 42.17,321.39 C42.75,321.32 43.34,321.16 43.88,320.94 C44.41,320.72 44.94,320.41 45.4,320.06 C45.87,319.71 46.3,319.28 46.65,318.82 C47.01,318.35 47.23,318.93 47.53,317.29Z" fill="#5b9ad0" stroke="#2a6aa8" stroke-width="0.3" fill-opacity="0.25" stroke-opacity="0.7"/>
<path d="M46.38,316.81 C46.71,315.23 46.77,311.18 47.64,308.59 C48.51,306 50.09,303.64 51.6,301.29 C53.11,298.95 54.82,296.63 56.69,294.52 C58.56,292.41 60.88,290.45 62.81,288.63 C64.75,286.82 66.77,284.96 68.31,283.64 C69.85,282.32 71.36,281.47 72.05,280.71 C72.75,279.95 72.68,279.47 72.5,279.1 C72.31,278.73 72.05,278.35 70.95,278.49 C69.84,278.63 67.85,278.98 65.89,279.96 C63.93,280.94 61.45,282.61 59.19,284.37 C56.92,286.12 54.44,288.26 52.31,290.48 C50.18,292.7 48.22,295.22 46.4,297.71 C44.57,300.19 43.06,302.93 41.36,305.41 C39.66,307.89 37.14,311.16 36.22,312.59 C35.3,314.02 35.91,313.51 35.85,313.98 C35.79,314.45 35.78,314.94 35.85,315.41 C35.91,315.88 36.04,316.36 36.22,316.8 C36.4,317.24 36.64,317.67 36.93,318.04 C37.22,318.42 37.57,318.77 37.95,319.06 C38.32,319.35 38.75,319.6 39.19,319.78 C39.63,319.96 40.11,320.09 40.58,320.15 C41.05,320.21 41.54,320.22 42.01,320.15 C42.48,320.09 42.96,319.96 43.4,319.78 C43.84,319.6 44.27,319.36 44.64,319.07 C45.02,318.78 45.37,318.43 45.66,318.05 C45.95,317.68 46.05,318.39 46.38,316.81Z" fill="#5b9ad0" stroke="#2a6aa8" stroke-width="0.3" fill-opacity="0.25" stroke-opacity="0.7"/>
<path d="M45.22,316.33 C45.58,314.81 45.87,310.76 46.82,308.17 C47.76,305.59 49.35,303.18 50.89,300.81 C52.44,298.44 54.18,296.09 56.08,293.96 C57.98,291.83 60.32,289.84 62.29,288.02 C64.27,286.21 66.34,284.35 67.92,283.05 C69.51,281.75 71.12,280.85 71.81,280.23 C72.5,279.6 72.17,279.53 72.06,279.32 C71.96,279.11 72.15,278.77 71.19,278.97 C70.22,279.18 68.19,279.55 66.28,280.55 C64.36,281.55 61.93,283.23 59.71,284.98 C57.48,286.72 55.02,288.84 52.92,291.04 C50.82,293.24 48.9,295.73 47.11,298.19 C45.32,300.66 43.8,303.35 42.18,305.83 C40.56,308.3 38.22,311.68 37.38,313.07 C36.53,314.45 37.14,313.78 37.09,314.14 C37.04,314.5 37.04,314.89 37.09,315.25 C37.13,315.61 37.23,315.98 37.37,316.32 C37.51,316.66 37.7,316.99 37.93,317.28 C38.15,317.57 38.42,317.85 38.71,318.07 C39,318.29 39.33,318.48 39.67,318.62 C40.01,318.77 40.38,318.86 40.74,318.91 C41.1,318.96 41.49,318.96 41.85,318.91 C42.21,318.87 42.58,318.77 42.92,318.63 C43.26,318.49 43.59,318.3 43.88,318.07 C44.17,317.85 44.45,317.58 44.67,317.29 C44.89,317 44.87,317.85 45.22,316.33Z" fill="#5b9ad0" stroke="#2a6aa8" stroke-width="0.3" fill-opacity="0.2" stroke-opacity="0.7"/>
<path d="M44.07,315.85 C44.46,314.39 44.98,310.35 46,307.76 C47.02,305.17 48.61,302.71 50.19,300.32 C51.76,297.92 53.54,295.55 55.47,293.4 C57.4,291.24 59.77,289.24 61.78,287.41 C63.79,285.59 66.56,283.48 67.54,282.47 C68.52,281.46 67.82,281.58 67.67,281.36 C67.52,281.14 67.9,280.43 66.66,281.13 C65.42,281.84 62.41,283.84 60.22,285.59 C58.03,287.33 55.6,289.42 53.53,291.6 C51.46,293.79 49.57,296.24 47.81,298.68 C46.06,301.12 44.55,303.76 43,306.24 C41.45,308.72 39.31,312.2 38.53,313.55 C37.75,314.89 38.36,314.05 38.33,314.3 C38.29,314.56 38.29,314.83 38.33,315.09 C38.36,315.34 38.43,315.61 38.53,315.84 C38.63,316.08 38.76,316.32 38.92,316.52 C39.08,316.73 39.27,316.92 39.47,317.08 C39.68,317.24 39.91,317.37 40.15,317.47 C40.39,317.57 40.65,317.64 40.9,317.67 C41.16,317.71 41.43,317.71 41.69,317.67 C41.94,317.64 42.21,317.57 42.44,317.47 C42.68,317.37 42.92,317.24 43.12,317.08 C43.33,316.92 43.52,316.73 43.68,316.53 C43.84,316.32 43.68,317.31 44.07,315.85Z" fill="#5b9ad0" stroke="#2a6aa8" stroke-width="0.3" fill-opacity="0.2" stroke-opacity="0.7"/>
<path d="M49,299.5 L54.5,292.5 L61,286.5 L67.1,281.8" fill="none" stroke="#ffffff" stroke-width="0.8" stroke-opacity="0.55" stroke-linecap="round" stroke-linejoin="round"/>
<ellipse cx="41.3" cy="314.7" rx="8.6" ry="9" fill="#3f86c2" fill-opacity="0.45"/>
<ellipse cx="41.3" cy="314.7" rx="7.0" ry="7.8" fill="#2368a3" fill-opacity="0.85"/>
<ellipse cx="41.6" cy="314.4" rx="4.6" ry="5.3" fill="#3f86c2" fill-opacity="0.9" stroke="#2368a3" stroke-width="0.4"/>
<ellipse cx="41.8" cy="314.2" rx="2.3" ry="2.9" fill="#9cc5e8" fill-opacity="0.9"/>
<circle cx="42" cy="314.1" r="0.6" fill="#fff" stroke="none" stroke-width="0.6"/>
<circle cx="132.2" cy="273.45" r="0.35" fill="#888" stroke="none" stroke-width="0.6"/>
<circle cx="149.99" cy="271.89" r="0.35" fill="#888" stroke="none" stroke-width="0.6"/>
<circle cx="122.85" cy="307.34" r="0.35" fill="#888" stroke="none" stroke-width="0.6"/>
<circle cx="141.17" cy="295.69" r="0.35" fill="#888" stroke="none" stroke-width="0.6"/>
<circle cx="113.9" cy="290.39" r="0.35" fill="#888" stroke="none" stroke-width="0.6"/>
<circle cx="127.48" cy="294.06" r="0.35" fill="#888" stroke="none" stroke-width="0.6"/>
<circle cx="117.26" cy="283.91" r="0.35" fill="#888" stroke="none" stroke-width="0.6"/>
<circle cx="125.04" cy="321.73" r="0.35" fill="#888" stroke="none" stroke-width="0.6"/>
<circle cx="135.05" cy="286.9" r="0.35" fill="#888" stroke="none" stroke-width="0.6"/>
<circle cx="138.81" cy="285.71" r="0.35" fill="#888" stroke="none" stroke-width="0.6"/>
<circle cx="137.45" cy="289.37" r="0.35" fill="#888" stroke="none" stroke-width="0.6"/>
<circle cx="135.67" cy="268.09" r="0.35" fill="#888" stroke="none" stroke-width="0.6"/>
<circle cx="107.04" cy="288.08" r="0.35" fill="#888" stroke="none" stroke-width="0.6"/>
<circle cx="136.16" cy="289.7" r="0.35" fill="#888" stroke="none" stroke-width="0.6"/>
<circle cx="122.83" cy="303.25" r="0.35" fill="#888" stroke="none" stroke-width="0.6"/>
<circle cx="99.67" cy="303.29" r="0.35" fill="#888" stroke="none" stroke-width="0.6"/>
<circle cx="98.45" cy="329.48" r="0.35" fill="#888" stroke="none" stroke-width="0.6"/>
<circle cx="100.79" cy="301.36" r="0.35" fill="#888" stroke="none" stroke-width="0.6"/>
<circle cx="113.36" cy="287.89" r="0.35" fill="#888" stroke="none" stroke-width="0.6"/>
<circle cx="132.21" cy="314.52" r="0.35" fill="#888" stroke="none" stroke-width="0.6"/>
<circle cx="147.3" cy="284.01" r="0.35" fill="#888" stroke="none" stroke-width="0.6"/>
<circle cx="126.5" cy="276.94" r="0.35" fill="#888" stroke="none" stroke-width="0.6"/>
<circle cx="111.82" cy="321.3" r="0.35" fill="#888" stroke="none" stroke-width="0.6"/>
<circle cx="140.1" cy="270.51" r="0.35" fill="#888" stroke="none" stroke-width="0.6"/>
<circle cx="131.35" cy="289.24" r="0.35" fill="#888" stroke="none" stroke-width="0.6"/>
<circle cx="119.84" cy="285.97" r="0.35" fill="#888" stroke="none" stroke-width="0.6"/>
<circle cx="116.41" cy="290.12" r="0.35" fill="#888" stroke="none" stroke-width="0.6"/>
<circle cx="141.85" cy="277.59" r="0.35" fill="#888" stroke="none" stroke-width="0.6"/>
<circle cx="100.23" cy="301.16" r="0.35" fill="#888" stroke="none" stroke-width="0.6"/>
<circle cx="145.91" cy="274.32" r="0.35" fill="#888" stroke="none" stroke-width="0.6"/>
<circle cx="121.44" cy="297.83" r="0.35" fill="#888" stroke="none" stroke-width="0.6"/>
<circle cx="116.64" cy="311" r="0.35" fill="#888" stroke="none" stroke-width="0.6"/>
<circle cx="139.35" cy="297.65" r="0.35" fill="#888" stroke="none" stroke-width="0.6"/>
<circle cx="86.54" cy="306.79" r="0.35" fill="#888" stroke="none" stroke-width="0.6"/>
<circle cx="112.83" cy="290.67" r="0.35" fill="#888" stroke="none" stroke-width="0.6"/>
<circle cx="127.05" cy="284.88" r="0.35" fill="#888" stroke="none" stroke-width="0.6"/>
<circle cx="131.03" cy="315.8" r="0.35" fill="#888" stroke="none" stroke-width="0.6"/>
<circle cx="133.37" cy="302.83" r="0.35" fill="#888" stroke="none" stroke-width="0.6"/>
<circle cx="122.09" cy="271.76" r="0.35" fill="#888" stroke="none" stroke-width="0.6"/>
<circle cx="128.7" cy="283.82" r="0.35" fill="#888" stroke="none" stroke-width="0.6"/>
<circle cx="105.93" cy="326.9" r="0.35" fill="#888" stroke="none" stroke-width="0.6"/>
<circle cx="131.75" cy="279.68" r="0.35" fill="#888" stroke="none" stroke-width="0.6"/>
<circle cx="131.35" cy="277.41" r="0.35" fill="#888" stroke="none" stroke-width="0.6"/>
<circle cx="129.83" cy="293.01" r="0.35" fill="#888" stroke="none" stroke-width="0.6"/>
<circle cx="114.46" cy="300.59" r="0.35" fill="#888" stroke="none" stroke-width="0.6"/>
<circle cx="131.06" cy="266.43" r="0.35" fill="#888" stroke="none" stroke-width="0.6"/>
<circle cx="131.27" cy="296.51" r="0.35" fill="#888" stroke="none" stroke-width="0.6"/>
<circle cx="125.71" cy="289.76" r="0.35" fill="#888" stroke="none" stroke-width="0.6"/>
<circle cx="120.49" cy="282.74" r="0.35" fill="#888" stroke="none" stroke-width="0.6"/>
<circle cx="131.95" cy="271.79" r="0.35" fill="#888" stroke="none" stroke-width="0.6"/>
<circle cx="115.64" cy="310.61" r="0.35" fill="#888" stroke="none" stroke-width="0.6"/>
<circle cx="117.43" cy="278.51" r="0.35" fill="#888" stroke="none" stroke-width="0.6"/>
<circle cx="105.79" cy="286.16" r="0.35" fill="#888" stroke="none" stroke-width="0.6"/>
<circle cx="121.18" cy="286.61" r="0.35" fill="#888" stroke="none" stroke-width="0.6"/>
<circle cx="101.04" cy="305.36" r="0.35" fill="#888" stroke="none" stroke-width="0.6"/>
<circle cx="139.17" cy="268.82" r="0.35" fill="#888" stroke="none" stroke-width="0.6"/>
<circle cx="116.73" cy="284.78" r="0.35" fill="#888" stroke="none" stroke-width="0.6"/>
<circle cx="140.96" cy="272.56" r="0.35" fill="#888" stroke="none" stroke-width="0.6"/>
<circle cx="148.58" cy="277.38" r="0.35" fill="#888" stroke="none" stroke-width="0.6"/>
<circle cx="130.29" cy="275.37" r="0.35" fill="#888" stroke="none" stroke-width="0.6"/>
<circle cx="131.44" cy="297.93" r="0.35" fill="#888" stroke="none" stroke-width="0.6"/>
<circle cx="119.81" cy="279.02" r="0.35" fill="#888" stroke="none" stroke-width="0.6"/>
<circle cx="133.84" cy="276.02" r="0.35" fill="#888" stroke="none" stroke-width="0.6"/>
<circle cx="115.29" cy="294.39" r="0.35" fill="#888" stroke="none" stroke-width="0.6"/>
<circle cx="119.21" cy="275.91" r="0.35" fill="#888" stroke="none" stroke-width="0.6"/>
<circle cx="135.12" cy="287.99" r="0.35" fill="#888" stroke="none" stroke-width="0.6"/>
<circle cx="123.61" cy="306.74" r="0.35" fill="#888" stroke="none" stroke-width="0.6"/>
<circle cx="142.43" cy="287.43" r="0.35" fill="#888" stroke="none" stroke-width="0.6"/>
<circle cx="129.98" cy="295.36" r="0.35" fill="#888" stroke="none" stroke-width="0.6"/>
<circle cx="116.68" cy="319.1" r="0.35" fill="#888" stroke="none" stroke-width="0.6"/>
<path d="M116.88,318.6 C117.35,316.72 117.31,312.17 118.23,309.46 C119.15,306.74 120.81,304.62 122.38,302.33 C123.95,300.04 125.72,297.88 127.67,295.7 C129.61,293.52 132.1,291.22 134.04,289.24 C135.98,287.26 137.76,285.53 139.3,283.82 C140.84,282.12 142.54,280.6 143.28,279.01 C144.02,277.43 144.43,275.26 143.73,274.33 C143.04,273.39 140.89,273.11 139.12,273.39 C137.35,273.66 135.23,274.78 133.1,275.98 C130.97,277.17 128.75,278.7 126.36,280.56 C123.96,282.41 121.12,284.78 118.73,287.1 C116.34,289.42 114.12,291.93 112.02,294.47 C109.93,297.01 108.32,299.86 106.17,302.34 C104.02,304.83 100.45,307.81 99.12,309.4 C97.8,310.98 98.42,311.01 98.23,311.85 C98.05,312.69 97.97,313.59 98.01,314.45 C98.05,315.31 98.21,316.2 98.47,317.02 C98.73,317.84 99.11,318.66 99.57,319.39 C100.04,320.11 100.62,320.8 101.26,321.38 C101.89,321.97 102.63,322.48 103.4,322.88 C104.16,323.27 105.01,323.58 105.85,323.77 C106.69,323.95 107.59,324.03 108.45,323.99 C109.31,323.95 110.2,323.79 111.02,323.53 C111.84,323.27 112.66,322.89 113.39,322.43 C114.11,321.96 114.8,321.38 115.38,320.74 C115.97,320.11 116.4,320.48 116.88,318.6Z" fill="#b3d7f3" stroke="#8cc0ea" stroke-width="0.3" fill-opacity="0.4" stroke-opacity="0.7"/>
<path d="M115.81,318.05 C116.31,316.23 116.47,311.7 117.45,309 C118.44,306.29 120.1,304.13 121.7,301.81 C123.3,299.5 125.1,297.32 127.08,295.13 C129.05,292.94 131.56,290.64 133.53,288.66 C135.49,286.68 137.3,284.95 138.87,283.27 C140.44,281.59 142.21,280.01 142.95,278.57 C143.7,277.13 143.92,275.41 143.33,274.62 C142.75,273.83 141.08,273.51 139.45,273.83 C137.81,274.15 135.63,275.31 133.53,276.53 C131.44,277.75 129.24,279.28 126.87,281.14 C124.51,283 121.69,285.36 119.32,287.67 C116.96,289.98 114.76,292.46 112.7,294.99 C110.64,297.51 109.03,300.31 106.95,302.8 C104.86,305.3 101.44,308.4 100.19,309.95 C98.93,311.5 99.57,311.37 99.41,312.11 C99.24,312.85 99.17,313.64 99.21,314.4 C99.24,315.16 99.38,315.94 99.61,316.66 C99.84,317.38 100.18,318.1 100.59,318.74 C100.99,319.38 101.5,319.99 102.07,320.5 C102.63,321.01 103.28,321.46 103.95,321.81 C104.62,322.16 105.37,322.43 106.11,322.59 C106.85,322.76 107.64,322.83 108.4,322.79 C109.16,322.76 109.94,322.62 110.66,322.39 C111.38,322.16 112.1,321.82 112.74,321.41 C113.38,321.01 113.99,320.5 114.5,319.93 C115.01,319.37 115.32,319.87 115.81,318.05Z" fill="#b3d7f3" stroke="#8cc0ea" stroke-width="0.3" fill-opacity="0.3" stroke-opacity="0.7"/>
<path d="M114.75,317.5 C115.26,315.73 115.63,311.24 116.68,308.54 C117.73,305.84 119.39,303.63 121.02,301.3 C122.66,298.97 124.49,296.77 126.48,294.56 C128.48,292.36 131.02,290.05 133.01,288.08 C135,286.1 136.83,284.38 138.43,282.72 C140.04,281.07 141.88,279.43 142.63,278.13 C143.38,276.83 143.41,275.56 142.94,274.92 C142.46,274.27 141.27,273.91 139.77,274.27 C138.28,274.63 136.03,275.83 133.97,277.08 C131.9,278.32 129.73,279.86 127.39,281.72 C125.05,283.58 122.25,285.94 119.92,288.24 C117.58,290.53 115.41,293 113.38,295.5 C111.34,298 109.74,300.76 107.72,303.26 C105.7,305.76 102.44,308.98 101.25,310.5 C100.06,312.02 100.72,311.73 100.58,312.37 C100.44,313.01 100.38,313.69 100.41,314.34 C100.44,315 100.56,315.67 100.76,316.3 C100.95,316.92 101.24,317.54 101.6,318.09 C101.95,318.65 102.39,319.17 102.87,319.61 C103.36,320.05 103.92,320.45 104.5,320.75 C105.08,321.05 105.73,321.28 106.37,321.42 C107.01,321.56 107.69,321.62 108.34,321.59 C109,321.56 109.67,321.44 110.3,321.24 C110.92,321.05 111.54,320.76 112.09,320.4 C112.65,320.05 113.17,319.61 113.61,319.13 C114.05,318.64 114.24,319.26 114.75,317.5Z" fill="#b3d7f3" stroke="#8cc0ea" stroke-width="0.3" fill-opacity="0.3" stroke-opacity="0.7"/>
<path d="M113.68,316.95 C114.21,315.24 114.79,310.78 115.9,308.08 C117.01,305.39 118.68,303.14 120.35,300.79 C122.01,298.44 123.87,296.21 125.89,293.99 C127.92,291.78 130.48,289.46 132.49,287.49 C134.51,285.52 136.36,283.81 138,282.17 C139.63,280.54 141.54,278.85 142.3,277.69 C143.06,276.53 142.91,275.71 142.54,275.21 C142.17,274.71 141.46,274.31 140.1,274.71 C138.74,275.12 136.43,276.36 134.4,277.63 C132.37,278.89 130.22,280.45 127.91,282.31 C125.59,284.17 122.82,286.52 120.51,288.81 C118.2,291.09 116.05,293.53 114.05,296.01 C112.05,298.5 110.45,301.21 108.5,303.72 C106.54,306.22 103.44,309.57 102.32,311.05 C101.19,312.54 101.87,312.09 101.75,312.62 C101.63,313.16 101.58,313.74 101.61,314.29 C101.63,314.84 101.73,315.41 101.9,315.93 C102.07,316.46 102.31,316.98 102.61,317.45 C102.91,317.91 103.28,318.35 103.68,318.73 C104.09,319.1 104.56,319.43 105.05,319.68 C105.54,319.94 106.09,320.13 106.62,320.25 C107.16,320.37 107.74,320.42 108.29,320.39 C108.84,320.37 109.41,320.27 109.93,320.1 C110.46,319.93 110.98,319.69 111.45,319.39 C111.91,319.09 112.35,318.72 112.73,318.32 C113.1,317.91 113.15,318.65 113.68,316.95Z" fill="#b3d7f3" stroke="#8cc0ea" stroke-width="0.3" fill-opacity="0.3" stroke-opacity="0.7"/>
<path d="M112.62,316.39 C113.16,314.75 113.95,310.31 115.13,307.63 C116.3,304.94 117.97,302.64 119.67,300.27 C121.37,297.91 123.25,295.65 125.3,293.43 C127.35,291.2 129.93,288.87 131.98,286.91 C134.02,284.94 135.9,283.24 137.56,281.63 C139.23,280.02 141.21,278.27 141.97,277.24 C142.74,276.22 142.4,275.85 142.14,275.5 C141.88,275.16 141.64,274.71 140.43,275.16 C139.21,275.6 136.84,276.88 134.84,278.17 C132.83,279.46 130.71,281.03 128.42,282.89 C126.13,284.76 123.38,287.1 121.1,289.37 C118.81,291.65 116.7,294.06 114.73,296.53 C112.76,298.99 111.16,301.66 109.27,304.17 C107.38,306.69 104.44,310.15 103.38,311.61 C102.33,313.06 103.02,312.44 102.92,312.88 C102.83,313.32 102.79,313.79 102.81,314.24 C102.83,314.68 102.91,315.14 103.04,315.57 C103.18,316 103.38,316.42 103.62,316.8 C103.86,317.18 104.16,317.54 104.49,317.84 C104.82,318.14 105.21,318.41 105.61,318.62 C106,318.82 106.44,318.98 106.88,319.08 C107.32,319.17 107.79,319.21 108.24,319.19 C108.68,319.17 109.14,319.09 109.57,318.96 C110,318.82 110.42,318.62 110.8,318.38 C111.18,318.14 111.54,317.84 111.84,317.51 C112.14,317.18 112.07,318.04 112.62,316.39Z" fill="#b3d7f3" stroke="#8cc0ea" stroke-width="0.3" fill-opacity="0.3" stroke-opacity="0.7"/>
<path d="M111.55,315.84 C112.12,314.25 113.11,309.85 114.35,307.17 C115.59,304.49 117.27,302.15 118.99,299.76 C120.72,297.37 122.63,295.1 124.71,292.86 C126.79,290.62 129.39,288.29 131.46,286.32 C133.53,284.36 135.43,282.66 137.13,281.08 C138.83,279.49 140.88,277.68 141.65,276.8 C142.41,275.92 141.89,276 141.74,275.8 C141.59,275.6 141.83,275.11 140.75,275.6 C139.68,276.08 137.24,277.41 135.27,278.72 C133.3,280.04 131.2,281.61 128.94,283.48 C126.68,285.35 123.94,287.68 121.69,289.94 C119.43,292.2 117.35,294.59 115.41,297.04 C113.47,299.49 111.87,302.11 110.05,304.63 C108.22,307.15 105.44,310.74 104.45,312.16 C103.46,313.58 104.17,312.8 104.09,313.14 C104.02,313.48 103.99,313.84 104,314.18 C104.02,314.53 104.08,314.88 104.19,315.21 C104.29,315.54 104.44,315.86 104.63,316.15 C104.82,316.45 105.05,316.72 105.3,316.95 C105.56,317.19 105.85,317.39 106.16,317.55 C106.47,317.71 106.8,317.83 107.14,317.91 C107.48,317.98 107.84,318.01 108.18,318 C108.53,317.98 108.88,317.92 109.21,317.81 C109.54,317.71 109.86,317.56 110.15,317.37 C110.45,317.18 110.72,316.95 110.95,316.7 C111.19,316.44 110.98,317.43 111.55,315.84Z" fill="#b3d7f3" stroke="#8cc0ea" stroke-width="0.3" fill-opacity="0.25" stroke-opacity="0.7"/>
<path d="M110.49,315.29 C111.07,313.76 112.27,309.39 113.58,306.71 C114.88,304.04 116.56,301.65 118.32,299.25 C120.07,296.84 122.02,294.54 124.12,292.29 C126.23,290.04 128.85,287.7 130.94,285.74 C133.04,283.78 135.73,281.58 136.7,280.53 C137.66,279.48 136.92,279.65 136.75,279.44 C136.59,279.23 136.92,278.5 135.7,279.27 C134.49,280.04 131.7,282.19 129.46,284.06 C127.22,285.93 124.51,288.26 122.28,290.51 C120.05,292.76 117.99,295.12 116.08,297.55 C114.18,299.98 112.58,302.56 110.82,305.09 C109.06,307.61 106.44,311.33 105.51,312.71 C104.59,314.1 105.32,313.16 105.27,313.4 C105.21,313.63 105.19,313.89 105.2,314.13 C105.21,314.37 105.26,314.62 105.33,314.85 C105.4,315.08 105.51,315.3 105.64,315.51 C105.77,315.71 105.93,315.9 106.11,316.07 C106.29,316.23 106.5,316.37 106.71,316.49 C106.93,316.6 107.16,316.68 107.4,316.73 C107.63,316.79 107.89,316.81 108.13,316.8 C108.37,316.79 108.62,316.74 108.85,316.67 C109.08,316.6 109.3,316.49 109.51,316.36 C109.71,316.23 109.9,316.07 110.07,315.89 C110.23,315.71 109.9,316.82 110.49,315.29Z" fill="#b3d7f3" stroke="#8cc0ea" stroke-width="0.3" fill-opacity="0.25" stroke-opacity="0.7"/>
<path d="M117.2,298.4 L123.2,291.4 L130.2,284.9 L136.2,279.9" fill="none" stroke="#ffffff" stroke-width="0.8" stroke-opacity="0.55" stroke-linecap="round" stroke-linejoin="round"/>
<ellipse cx="108" cy="314" rx="8.6" ry="9" fill="#b5d8f3" fill-opacity="0.45"/>
<ellipse cx="108" cy="314" rx="7.0" ry="7.8" fill="#9ccaee" fill-opacity="0.85"/>
<ellipse cx="108.3" cy="313.7" rx="4.6" ry="5.3" fill="#b5d8f3" fill-opacity="0.9" stroke="#9ccaee" stroke-width="0.4"/>
<ellipse cx="108.5" cy="313.5" rx="2.3" ry="2.9" fill="#e2f0fb" fill-opacity="0.9"/>
<circle cx="108.7" cy="313.4" r="0.6" fill="#fff" stroke="none" stroke-width="0.6"/>
<circle cx="177.35" cy="292.76" r="0.35" fill="#888" stroke="none" stroke-width="0.6"/>
<circle cx="164.69" cy="322.56" r="0.35" fill="#888" stroke="none" stroke-width="0.6"/>
<circle cx="190.34" cy="314.85" r="0.35" fill="#888" stroke="none" stroke-width="0.6"/>
<circle cx="191.01" cy="298.64" r="0.35" fill="#888" stroke="none" stroke-width="0.6"/>
<circle cx="196.27" cy="306.41" r="0.35" fill="#888" stroke="none" stroke-width="0.6"/>
<circle cx="192.52" cy="299.03" r="0.35" fill="#888" stroke="none" stroke-width="0.6"/>
<circle cx="199.95" cy="288.57" r="0.35" fill="#888" stroke="none" stroke-width="0.6"/>
<circle cx="169.56" cy="332.28" r="0.35" fill="#888" stroke="none" stroke-width="0.6"/>
<circle cx="173.77" cy="315.98" r="0.35" fill="#888" stroke="none" stroke-width="0.6"/>
<circle cx="190.88" cy="280.66" r="0.35" fill="#888" stroke="none" stroke-width="0.6"/>
<circle cx="182.38" cy="285.29" r="0.35" fill="#888" stroke="none" stroke-width="0.6"/>
<circle cx="177.57" cy="319.35" r="0.35" fill="#888" stroke="none" stroke-width="0.6"/>
<circle cx="189.28" cy="296.33" r="0.35" fill="#888" stroke="none" stroke-width="0.6"/>
<circle cx="186.78" cy="300.17" r="0.35" fill="#888" stroke="none" stroke-width="0.6"/>
<circle cx="197.11" cy="297.66" r="0.35" fill="#888" stroke="none" stroke-width="0.6"/>
<circle cx="198.03" cy="281.91" r="0.35" fill="#888" stroke="none" stroke-width="0.6"/>
<circle cx="203.13" cy="285.02" r="0.35" fill="#888" stroke="none" stroke-width="0.6"/>
<circle cx="177.22" cy="293.95" r="0.35" fill="#888" stroke="none" stroke-width="0.6"/>
<circle cx="192.39" cy="310.38" r="0.35" fill="#888" stroke="none" stroke-width="0.6"/>
<circle cx="180.6" cy="281.32" r="0.35" fill="#888" stroke="none" stroke-width="0.6"/>
<circle cx="196.18" cy="275.91" r="0.35" fill="#888" stroke="none" stroke-width="0.6"/>
<circle cx="178.57" cy="292.91" r="0.35" fill="#888" stroke="none" stroke-width="0.6"/>
<circle cx="184.27" cy="286.05" r="0.35" fill="#888" stroke="none" stroke-width="0.6"/>
<circle cx="190.8" cy="281.38" r="0.35" fill="#888" stroke="none" stroke-width="0.6"/>
<circle cx="199.59" cy="272.67" r="0.35" fill="#888" stroke="none" stroke-width="0.6"/>
<circle cx="175.63" cy="291.4" r="0.35" fill="#888" stroke="none" stroke-width="0.6"/>
<circle cx="181.56" cy="325.96" r="0.35" fill="#888" stroke="none" stroke-width="0.6"/>
<circle cx="177.55" cy="299.65" r="0.35" fill="#888" stroke="none" stroke-width="0.6"/>
<circle cx="167.83" cy="315.1" r="0.35" fill="#888" stroke="none" stroke-width="0.6"/>
<circle cx="193.42" cy="285.08" r="0.35" fill="#888" stroke="none" stroke-width="0.6"/>
<circle cx="195.58" cy="276.62" r="0.35" fill="#888" stroke="none" stroke-width="0.6"/>
<circle cx="192.1" cy="287.23" r="0.35" fill="#888" stroke="none" stroke-width="0.6"/>
<circle cx="198.93" cy="293.59" r="0.35" fill="#888" stroke="none" stroke-width="0.6"/>
<circle cx="178.6" cy="317.15" r="0.35" fill="#888" stroke="none" stroke-width="0.6"/>
<circle cx="169.28" cy="296.63" r="0.35" fill="#888" stroke="none" stroke-width="0.6"/>
<circle cx="174.95" cy="304.9" r="0.35" fill="#888" stroke="none" stroke-width="0.6"/>
<circle cx="195.5" cy="293.82" r="0.35" fill="#888" stroke="none" stroke-width="0.6"/>
<circle cx="185.41" cy="279.51" r="0.35" fill="#888" stroke="none" stroke-width="0.6"/>
<circle cx="197.92" cy="283.67" r="0.35" fill="#888" stroke="none" stroke-width="0.6"/>
<circle cx="200.6" cy="270.84" r="0.35" fill="#888" stroke="none" stroke-width="0.6"/>
<circle cx="192.57" cy="303.06" r="0.35" fill="#888" stroke="none" stroke-width="0.6"/>
<circle cx="197.58" cy="291" r="0.35" fill="#888" stroke="none" stroke-width="0.6"/>
<circle cx="174.55" cy="311.04" r="0.35" fill="#888" stroke="none" stroke-width="0.6"/>
<circle cx="179.46" cy="317.79" r="0.35" fill="#888" stroke="none" stroke-width="0.6"/>
<circle cx="189.46" cy="311.22" r="0.35" fill="#888" stroke="none" stroke-width="0.6"/>
<circle cx="205.15" cy="291.88" r="0.35" fill="#888" stroke="none" stroke-width="0.6"/>
<circle cx="173.23" cy="310.2" r="0.35" fill="#888" stroke="none" stroke-width="0.6"/>
<circle cx="197.72" cy="307.11" r="0.35" fill="#888" stroke="none" stroke-width="0.6"/>
<circle cx="196.31" cy="299.73" r="0.35" fill="#888" stroke="none" stroke-width="0.6"/>
<circle cx="174.96" cy="322.12" r="0.35" fill="#888" stroke="none" stroke-width="0.6"/>
<circle cx="204.73" cy="285.03" r="0.35" fill="#888" stroke="none" stroke-width="0.6"/>
<circle cx="206.6" cy="290" r="0.35" fill="#888" stroke="none" stroke-width="0.6"/>
<circle cx="182.81" cy="290.05" r="0.35" fill="#888" stroke="none" stroke-width="0.6"/>
<circle cx="196.94" cy="269.38" r="0.35" fill="#888" stroke="none" stroke-width="0.6"/>
<circle cx="185.68" cy="311.22" r="0.35" fill="#888" stroke="none" stroke-width="0.6"/>
<circle cx="197.98" cy="274.22" r="0.35" fill="#888" stroke="none" stroke-width="0.6"/>
<circle cx="185.57" cy="290.78" r="0.35" fill="#888" stroke="none" stroke-width="0.6"/>
<circle cx="205.92" cy="269.44" r="0.35" fill="#888" stroke="none" stroke-width="0.6"/>
<circle cx="199.3" cy="297.46" r="0.35" fill="#888" stroke="none" stroke-width="0.6"/>
<circle cx="197.47" cy="293.64" r="0.35" fill="#888" stroke="none" stroke-width="0.6"/>
<circle cx="173.6" cy="324.78" r="0.35" fill="#888" stroke="none" stroke-width="0.6"/>
<circle cx="178.7" cy="291.98" r="0.35" fill="#888" stroke="none" stroke-width="0.6"/>
<circle cx="214.01" cy="278.36" r="0.35" fill="#888" stroke="none" stroke-width="0.6"/>
<circle cx="184.48" cy="306.15" r="0.35" fill="#888" stroke="none" stroke-width="0.6"/>
<circle cx="172.42" cy="298.52" r="0.35" fill="#888" stroke="none" stroke-width="0.6"/>
<circle cx="186.65" cy="284.55" r="0.35" fill="#888" stroke="none" stroke-width="0.6"/>
<circle cx="205.11" cy="295.33" r="0.35" fill="#888" stroke="none" stroke-width="0.6"/>
<circle cx="195.84" cy="271.84" r="0.35" fill="#888" stroke="none" stroke-width="0.6"/>
<circle cx="199.89" cy="295.16" r="0.35" fill="#888" stroke="none" stroke-width="0.6"/>
<circle cx="199.3" cy="276.29" r="0.35" fill="#888" stroke="none" stroke-width="0.6"/>
<path d="M182.48,318.6 C183,316.74 183.21,312.17 184.13,309.54 C185.04,306.92 186.61,305 187.94,302.87 C189.27,300.74 190.66,298.58 192.1,296.78 C193.54,294.98 195.16,293.52 196.58,292.06 C197.99,290.61 199.38,289.33 200.57,288.06 C201.76,286.79 203.05,285.85 203.71,284.45 C204.37,283.06 205.18,280.7 204.55,279.68 C203.91,278.67 201.48,278.34 199.89,278.35 C198.31,278.36 196.84,279.01 195.03,279.74 C193.22,280.47 191.11,281.36 189.02,282.74 C186.94,284.12 184.56,285.99 182.5,288.02 C180.44,290.05 178.49,292.56 176.66,294.93 C174.82,297.3 173.46,299.84 171.47,302.26 C169.49,304.67 166,307.8 164.72,309.4 C163.45,311 164.02,311.01 163.83,311.85 C163.65,312.69 163.57,313.59 163.61,314.45 C163.65,315.31 163.81,316.2 164.07,317.02 C164.33,317.84 164.71,318.66 165.17,319.39 C165.64,320.11 166.22,320.8 166.86,321.38 C167.49,321.97 168.23,322.48 169,322.88 C169.76,323.27 170.61,323.58 171.45,323.77 C172.29,323.95 173.19,324.03 174.05,323.99 C174.91,323.95 175.8,323.79 176.62,323.53 C177.44,323.27 178.26,322.89 178.99,322.43 C179.71,321.96 180.4,321.38 180.98,320.74 C181.57,320.11 181.95,320.47 182.48,318.6Z" fill="#c4c4c4" stroke="#a8a8a8" stroke-width="0.3" fill-opacity="0.4" stroke-opacity="0.7"/>
<path d="M181.41,318.05 C181.95,316.24 182.35,311.7 183.32,309.08 C184.29,306.46 185.86,304.5 187.22,302.36 C188.57,300.21 190,298.03 191.47,296.21 C192.95,294.39 194.62,292.9 196.07,291.44 C197.52,289.99 198.96,288.72 200.19,287.48 C201.41,286.23 202.76,285.23 203.41,283.98 C204.07,282.72 204.66,280.81 204.12,279.95 C203.58,279.09 201.64,278.76 200.19,278.82 C198.74,278.88 197.19,279.57 195.41,280.32 C193.64,281.08 191.58,281.98 189.53,283.36 C187.48,284.74 185.15,286.58 183.13,288.59 C181.1,290.6 179.19,293.09 177.38,295.44 C175.58,297.8 174.21,300.3 172.28,302.72 C170.35,305.14 167,308.38 165.79,309.95 C164.58,311.51 165.17,311.37 165.01,312.11 C164.84,312.85 164.77,313.64 164.81,314.4 C164.84,315.16 164.98,315.94 165.21,316.66 C165.44,317.38 165.78,318.1 166.19,318.74 C166.59,319.38 167.1,319.99 167.67,320.5 C168.23,321.01 168.88,321.46 169.55,321.81 C170.22,322.16 170.97,322.43 171.71,322.59 C172.45,322.76 173.24,322.83 174,322.79 C174.76,322.76 175.54,322.62 176.26,322.39 C176.98,322.16 177.7,321.82 178.34,321.41 C178.98,321.01 179.59,320.5 180.1,319.93 C180.61,319.37 180.88,319.86 181.41,318.05Z" fill="#c4c4c4" stroke="#a8a8a8" stroke-width="0.3" fill-opacity="0.32" stroke-opacity="0.7"/>
<path d="M180.35,317.5 C180.9,315.75 181.49,311.22 182.51,308.62 C183.54,306.01 185.1,304.01 186.49,301.85 C187.88,299.68 189.33,297.47 190.84,295.64 C192.36,293.8 194.08,292.28 195.57,290.82 C197.06,289.36 198.54,288.11 199.8,286.9 C201.05,285.68 202.47,284.62 203.11,283.5 C203.76,282.39 204.13,280.92 203.69,280.22 C203.25,279.52 201.8,279.18 200.49,279.3 C199.17,279.41 197.55,280.12 195.8,280.9 C194.06,281.69 192.04,282.6 190.03,283.98 C188.02,285.36 185.74,287.17 183.76,289.16 C181.77,291.16 179.89,293.62 178.11,295.95 C176.33,298.29 174.96,300.76 173.09,303.18 C171.21,305.61 168,308.97 166.85,310.5 C165.7,312.03 166.32,311.73 166.18,312.37 C166.04,313.01 165.98,313.69 166.01,314.34 C166.04,315 166.16,315.67 166.36,316.3 C166.55,316.92 166.84,317.54 167.2,318.09 C167.55,318.65 167.99,319.17 168.47,319.61 C168.96,320.05 169.52,320.45 170.1,320.75 C170.68,321.05 171.33,321.28 171.97,321.42 C172.61,321.56 173.29,321.62 173.94,321.59 C174.6,321.56 175.27,321.44 175.9,321.24 C176.52,321.05 177.14,320.76 177.69,320.4 C178.25,320.05 178.77,319.61 179.21,319.13 C179.65,318.64 179.8,319.25 180.35,317.5Z" fill="#c4c4c4" stroke="#a8a8a8" stroke-width="0.3" fill-opacity="0.32" stroke-opacity="0.7"/>
<path d="M179.28,316.95 C179.85,315.25 180.63,310.75 181.71,308.15 C182.79,305.55 184.34,303.52 185.76,301.33 C187.18,299.15 188.67,296.92 190.22,295.06 C191.77,293.21 193.53,291.66 195.07,290.2 C196.6,288.74 198.12,287.51 199.41,286.31 C200.7,285.12 202.17,284 202.82,283.03 C203.46,282.06 203.6,281.03 203.27,280.48 C202.93,279.94 201.96,279.6 200.78,279.77 C199.6,279.94 197.9,280.68 196.19,281.49 C194.48,282.29 192.5,283.23 190.53,284.6 C188.57,285.98 186.33,287.76 184.38,289.74 C182.43,291.71 180.59,294.15 178.84,296.47 C177.09,298.78 175.71,301.22 173.89,303.65 C172.07,306.08 169.01,309.56 167.92,311.05 C166.83,312.55 167.47,312.09 167.35,312.62 C167.23,313.16 167.18,313.74 167.21,314.29 C167.23,314.84 167.33,315.41 167.5,315.93 C167.67,316.46 167.91,316.98 168.21,317.45 C168.51,317.91 168.88,318.35 169.28,318.73 C169.69,319.1 170.16,319.43 170.65,319.68 C171.14,319.94 171.69,320.13 172.22,320.25 C172.76,320.37 173.34,320.42 173.89,320.39 C174.44,320.37 175.01,320.27 175.53,320.1 C176.06,319.93 176.58,319.69 177.05,319.39 C177.51,319.09 177.95,318.72 178.33,318.32 C178.7,317.91 178.72,318.64 179.28,316.95Z" fill="#c4c4c4" stroke="#a8a8a8" stroke-width="0.3" fill-opacity="0.32" stroke-opacity="0.7"/>
<path d="M178.22,316.39 C178.79,314.76 179.77,310.28 180.9,307.69 C182.04,305.09 183.58,303.02 185.03,300.82 C186.48,298.62 188,296.36 189.59,294.49 C191.18,292.62 192.99,291.04 194.56,289.58 C196.13,288.12 197.69,286.9 199.02,285.73 C200.35,284.56 201.88,283.38 202.52,282.55 C203.16,281.72 203.08,281.14 202.84,280.75 C202.6,280.37 202.12,280.03 201.08,280.25 C200.04,280.47 198.25,281.24 196.58,282.07 C194.91,282.9 192.97,283.85 191.04,285.22 C189.11,286.6 186.92,288.35 185.01,290.31 C183.1,292.27 181.29,294.68 179.57,296.98 C177.85,299.28 176.46,301.67 174.7,304.11 C172.93,306.55 170.01,310.14 168.98,311.61 C167.95,313.07 168.62,312.44 168.52,312.88 C168.43,313.32 168.39,313.79 168.41,314.24 C168.43,314.68 168.51,315.14 168.64,315.57 C168.78,316 168.98,316.42 169.22,316.8 C169.46,317.18 169.76,317.54 170.09,317.84 C170.42,318.14 170.81,318.41 171.21,318.62 C171.6,318.82 172.04,318.98 172.48,319.08 C172.92,319.17 173.39,319.21 173.84,319.19 C174.28,319.17 174.74,319.09 175.17,318.96 C175.6,318.82 176.02,318.62 176.4,318.38 C176.78,318.14 177.14,317.84 177.44,317.51 C177.74,317.18 177.64,318.03 178.22,316.39Z" fill="#c4c4c4" stroke="#a8a8a8" stroke-width="0.3" fill-opacity="0.32" stroke-opacity="0.7"/>
<path d="M177.15,315.84 C177.74,314.26 178.9,309.81 180.1,307.22 C181.29,304.63 182.83,302.53 184.3,300.31 C185.78,298.09 187.34,295.81 188.96,293.92 C190.59,292.02 192.45,290.42 194.06,288.95 C195.67,287.49 197.27,286.29 198.63,285.15 C199.99,284 201.59,282.77 202.22,282.08 C202.85,281.39 202.55,281.24 202.41,281.02 C202.27,280.79 202.28,280.45 201.38,280.72 C200.47,280.99 198.61,281.8 196.97,282.65 C195.33,283.51 193.43,284.47 191.54,285.85 C189.65,287.22 187.51,288.94 185.64,290.88 C183.76,292.82 181.99,295.21 180.3,297.49 C178.61,299.77 177.21,302.13 175.5,304.58 C173.8,307.02 171.02,310.73 170.05,312.16 C169.08,313.59 169.77,312.8 169.69,313.14 C169.62,313.48 169.59,313.84 169.6,314.18 C169.62,314.53 169.68,314.88 169.79,315.21 C169.89,315.54 170.04,315.86 170.23,316.15 C170.42,316.45 170.65,316.72 170.9,316.95 C171.16,317.19 171.45,317.39 171.76,317.55 C172.07,317.71 172.4,317.83 172.74,317.91 C173.08,317.98 173.44,318.01 173.78,318 C174.13,317.98 174.48,317.92 174.81,317.81 C175.14,317.71 175.46,317.56 175.75,317.37 C176.05,317.18 176.32,316.95 176.55,316.7 C176.79,316.44 176.56,317.42 177.15,315.84Z" fill="#c4c4c4" stroke="#a8a8a8" stroke-width="0.3" fill-opacity="0.28" stroke-opacity="0.7"/>
<path d="M176.09,315.29 C176.69,313.77 178.04,309.34 179.29,306.76 C180.54,304.18 182.07,302.03 183.58,299.8 C185.08,297.56 186.67,295.25 188.33,293.34 C190,291.43 191.9,289.8 193.56,288.33 C195.21,286.87 197.44,285.37 198.24,284.57 C199.05,283.76 198.54,283.71 198.39,283.49 C198.24,283.27 198.41,282.74 197.36,283.23 C196.3,283.73 193.89,285.1 192.04,286.47 C190.2,287.84 188.1,289.53 186.27,291.46 C184.43,293.38 182.68,295.74 181.02,298 C179.36,300.27 177.96,302.59 176.31,305.04 C174.66,307.49 172.02,311.32 171.11,312.71 C170.21,314.1 170.92,313.16 170.87,313.4 C170.81,313.63 170.79,313.89 170.8,314.13 C170.81,314.37 170.86,314.62 170.93,314.85 C171,315.08 171.11,315.3 171.24,315.51 C171.37,315.71 171.53,315.9 171.71,316.07 C171.89,316.23 172.1,316.37 172.31,316.49 C172.53,316.6 172.76,316.68 173,316.73 C173.23,316.79 173.49,316.81 173.73,316.8 C173.97,316.79 174.22,316.74 174.45,316.67 C174.68,316.6 174.9,316.49 175.11,316.36 C175.31,316.23 175.5,316.07 175.67,315.89 C175.83,315.71 175.48,316.81 176.09,315.29Z" fill="#c4c4c4" stroke="#a8a8a8" stroke-width="0.3" fill-opacity="0.28" stroke-opacity="0.7"/>
<path d="M182.3,298.9 L187.3,292.4 L192.8,287.4 L197.8,283.9" fill="none" stroke="#ffffff" stroke-width="0.8" stroke-opacity="0.55" stroke-linecap="round" stroke-linejoin="round"/>
<ellipse cx="173.6" cy="314" rx="8.6" ry="9" fill="#c0c0c0" fill-opacity="0.45"/>
<ellipse cx="173.6" cy="314" rx="7.0" ry="7.8" fill="#a6a6a6" fill-opacity="0.85"/>
<ellipse cx="173.9" cy="313.7" rx="4.6" ry="5.3" fill="#c0c0c0" fill-opacity="0.9" stroke="#a6a6a6" stroke-width="0.4"/>
<ellipse cx="174.1" cy="313.5" rx="2.3" ry="2.9" fill="#e8e8e8" fill-opacity="0.9"/>
<circle cx="174.3" cy="313.4" r="0.6" fill="#fff" stroke="none" stroke-width="0.6"/>
<ellipse cx="235.9" cy="315.7" rx="13.2" ry="8.6" fill="#000" fill-opacity="0.03" stroke="#000" stroke-width="0.3" stroke-opacity="0.3"/>
<ellipse cx="237.4" cy="315.5" rx="10.8" ry="9.2" fill="#000" fill-opacity="0.06" stroke="#000" stroke-width="0.35" stroke-opacity="0.5"/>
<ellipse cx="239.4" cy="315.2" rx="8.3" ry="9.2" fill="#111" fill-opacity="0.55"/>
<ellipse cx="239.6" cy="315.2" rx="6.8" ry="7.8" fill="#000" fill-opacity="0.8"/>
<ellipse cx="239.7" cy="315.2" rx="4.5" ry="5.5" fill="#000" fill-opacity="0.9"/>
<ellipse cx="239.8" cy="315.2" rx="1.6" ry="2" fill="#333" fill-opacity="0.9"/>
<line x1="48.5" y1="268.4" x2="48.5" y2="330.4" stroke="#444" stroke-width="0.9" />
<line x1="18.9" y1="305.3" x2="81.9" y2="305.3" stroke="#444" stroke-width="0.9" />
<ellipse cx="19.8" cy="317.4" rx="0.9" ry="1.4" fill="#111"/>
<text x="80.9" y="304" font-size="7.8" text-anchor="end" fill="#1a1a1a" >23.5</text>
<line x1="114.8" y1="268.4" x2="114.8" y2="330.4" stroke="#444" stroke-width="0.9" />
<line x1="85.2" y1="305.3" x2="148.2" y2="305.3" stroke="#444" stroke-width="0.9" />
<ellipse cx="86.1" cy="317.4" rx="0.9" ry="1.4" fill="#111"/>
<text x="147.2" y="304" font-size="7.8" text-anchor="end" fill="#1a1a1a" >37.2</text>
<line x1="181.4" y1="268.4" x2="181.4" y2="330.4" stroke="#444" stroke-width="0.9" />
<line x1="151.8" y1="305.3" x2="214.8" y2="305.3" stroke="#444" stroke-width="0.9" />
<ellipse cx="152.7" cy="317.4" rx="0.9" ry="1.4" fill="#111"/>
<text x="213.8" y="304" font-size="7.8" text-anchor="end" fill="#1a1a1a" >20.1</text>
<line x1="248" y1="268.4" x2="248" y2="330.4" stroke="#444" stroke-width="0.9" />
<line x1="218.4" y1="305.3" x2="281.4" y2="305.3" stroke="#444" stroke-width="0.9" />
<ellipse cx="219.3" cy="317.4" rx="0.9" ry="1.4" fill="#111"/>
<text x="280.4" y="304" font-size="7.8" text-anchor="end" fill="#1a1a1a" >0.019</text>
<line x1="15" y1="270" x2="15" y2="301.2" stroke="#000" stroke-width="1.6" />
<text transform="translate(15.8,317.5) rotate(-90)" font-size="7" text-anchor="middle" fill="#1a1a1a">EGFRt</text>
<text x="19.3" y="337.7" font-size="7" text-anchor="start" fill="#1a1a1a" >STII</text>
<line x1="38.4" y1="335.3" x2="281.6" y2="335.3" stroke="#000" stroke-width="1.6" />
<text x="281.6" y="342.9" font-size="6.2" text-anchor="end" fill="#1a1a1a" >pregated on living lymphocytes</text>
<text x="293.6" y="256.4" font-size="10.4" text-anchor="start" font-weight="bold" fill="#1a1a1a" >f</text>
<line x1="333.2" y1="263.3" x2="333.2" y2="335.4" stroke="#1a1a1a" stroke-width="1.2" />
<line x1="332.6" y1="334.9" x2="367.8" y2="334.9" stroke="#1a1a1a" stroke-width="1.2" />
<line x1="330.6" y1="334.9" x2="333.2" y2="334.9" stroke="#1a1a1a" stroke-width="1" />
<text x="330.2" y="335.7" font-size="7.3" text-anchor="end" fill="#1a1a1a" >0</text>
<line x1="330.6" y1="320.65" x2="333.2" y2="320.65" stroke="#1a1a1a" stroke-width="1" />
<text x="330.2" y="321.45" font-size="7.3" text-anchor="end" fill="#1a1a1a" >20</text>
<line x1="330.6" y1="306.4" x2="333.2" y2="306.4" stroke="#1a1a1a" stroke-width="1" />
<text x="330.2" y="307.2" font-size="7.3" text-anchor="end" fill="#1a1a1a" >40</text>
<line x1="330.6" y1="292.15" x2="333.2" y2="292.15" stroke="#1a1a1a" stroke-width="1" />
<text x="330.2" y="292.95" font-size="7.3" text-anchor="end" fill="#1a1a1a" >60</text>
<line x1="330.6" y1="277.9" x2="333.2" y2="277.9" stroke="#1a1a1a" stroke-width="1" />
<text x="330.2" y="278.7" font-size="7.3" text-anchor="end" fill="#1a1a1a" >80</text>
<line x1="330.6" y1="263.65" x2="333.2" y2="263.65" stroke="#1a1a1a" stroke-width="1" />
<text x="330.2" y="264.45" font-size="7.3" text-anchor="end" fill="#1a1a1a" >100</text>
<text transform="translate(309.7,300.5) rotate(-90)" font-size="7.85" text-anchor="middle" fill="#1a1a1a">% Nur77<tspan font-size="5.6" dy="-2.8">+</tspan><tspan dy="2.8"> of EGFRt</tspan><tspan font-size="5.6" dy="-2.8">+</tspan></text>
<text transform="translate(316.9,299.5) rotate(-90)" font-size="7.45" text-anchor="middle" fill="#1a1a1a">over background</text>
<line x1="339.95" y1="292.9" x2="339.95" y2="279.8" stroke="#111" stroke-width="0.7" />
<line x1="338.55" y1="279.8" x2="341.35" y2="279.8" stroke="#111" stroke-width="0.7" />
<rect x="336.8" y="292.9" width="6.3" height="42" fill="#1b679e" stroke="#111" stroke-width="0.7" rx="0" />
<line x1="347.25" y1="296.6" x2="347.25" y2="284.4" stroke="#111" stroke-width="0.7" />
<line x1="345.85" y1="284.4" x2="348.65" y2="284.4" stroke="#111" stroke-width="0.7" />
<rect x="344.1" y="296.6" width="6.3" height="38.3" fill="#aed4ef" stroke="#111" stroke-width="0.7" rx="0" />
<line x1="354.5" y1="292" x2="354.5" y2="282.7" stroke="#111" stroke-width="0.7" />
<line x1="353.1" y1="282.7" x2="355.9" y2="282.7" stroke="#111" stroke-width="0.7" />
<rect x="351.3" y="292" width="6.4" height="42.9" fill="#b4b4b4" stroke="#111" stroke-width="0.7" rx="0" />
<circle cx="340" cy="278.4" r="0.95" fill="#000" stroke="none" stroke-width="0.6"/>
<circle cx="339.2" cy="280.6" r="0.95" fill="#000" stroke="none" stroke-width="0.6"/>
<circle cx="337.8" cy="286.9" r="0.95" fill="#000" stroke="none" stroke-width="0.6"/>
<circle cx="342.4" cy="286.9" r="0.95" fill="#000" stroke="none" stroke-width="0.6"/>
<circle cx="340.6" cy="289" r="0.95" fill="#000" stroke="none" stroke-width="0.6"/>
<circle cx="340" cy="303.9" r="0.95" fill="#000" stroke="none" stroke-width="0.6"/>
<circle cx="340" cy="311.6" r="0.95" fill="#000" stroke="none" stroke-width="0.6"/>
<circle cx="347.2" cy="284.7" r="0.95" fill="#000" stroke="none" stroke-width="0.6"/>
<circle cx="347.2" cy="287.3" r="0.95" fill="#000" stroke="none" stroke-width="0.6"/>
<circle cx="347.2" cy="290.3" r="0.95" fill="#000" stroke="none" stroke-width="0.6"/>
<circle cx="347.2" cy="293.7" r="0.95" fill="#000" stroke="none" stroke-width="0.6"/>
<circle cx="347.2" cy="301.4" r="0.95" fill="#000" stroke="none" stroke-width="0.6"/>
<circle cx="347.2" cy="306" r="0.95" fill="#000" stroke="none" stroke-width="0.6"/>
<circle cx="347.2" cy="312.1" r="0.95" fill="#000" stroke="none" stroke-width="0.6"/>
<circle cx="354.5" cy="282.3" r="0.95" fill="#000" stroke="none" stroke-width="0.6"/>
<circle cx="354.5" cy="285.2" r="0.95" fill="#000" stroke="none" stroke-width="0.6"/>
<circle cx="354.5" cy="298" r="0.95" fill="#000" stroke="none" stroke-width="0.6"/>
<circle cx="354.5" cy="303.9" r="0.95" fill="#000" stroke="none" stroke-width="0.6"/>
<line x1="358.9" y1="334.2" x2="364.5" y2="334.2" stroke="#111" stroke-width="1" />
<path d="M339.4,275 L339.4,266.2 L361.5,266.2 L361.5,333" fill="none" stroke="#555" stroke-width="0.8" />
<text x="339.9" y="264.5" font-size="4.8" text-anchor="start" fill="#333" >p &lt; 0.0001</text>
<rect x="383.5" y="268.4" width="62" height="61.9" fill="#fff" stroke="#aaa" stroke-width="0.7" rx="0" />
<path d="M383.5,310.3 L383.5,310.3 L384,310.3 L384.5,310.3 L385,310.3 L385.5,310.3 L386,310.3 L386.5,310.3 L387,310.3 L387.5,310.3 L388,310.3 L388.5,310.3 L389,310.3 L389.5,310.3 L390,310.3 L390.5,310.3 L391,310.3 L391.5,310.3 L392,310.3 L392.5,310.3 L393,310.3 L393.5,310.3 L394,310.3 L394.5,310.3 L395,310.3 L395.5,310.3 L396,310.3 L396.5,310.3 L397,310.3 L397.5,310.3 L398,310.3 L398.5,310.3 L399,310.3 L399.5,310.3 L400,310.3 L400.5,310.3 L401,310.3 L401.5,310.29 L402,310.29 L402.5,310.27 L403,310.24 L403.5,310.18 L404,310.06 L404.5,309.84 L405,309.48 L405.5,308.87 L406,307.93 L406.5,306.54 L407,304.57 L407.5,301.94 L408,298.63 L408.5,294.68 L409,290.27 L409.5,285.7 L410,281.36 L410.5,277.66 L411,275.01 L411.5,273.71 L412,273.88 L412.5,275.47 L413,278.24 L413.5,281.82 L414,285.79 L414.5,289.74 L415,293.34 L415.5,296.39 L416,298.78 L416.5,300.54 L417,301.74 L417.5,302.51 L418,302.99 L418.5,303.28 L419,303.49 L419.5,303.69 L420,303.92 L420.5,304.2 L421,304.55 L421.5,304.95 L422,305.39 L422.5,305.87 L423,306.36 L423.5,306.85 L424,307.32 L424.5,307.77 L425,308.19 L425.5,308.56 L426,308.89 L426.5,309.18 L427,309.42 L427.5,309.62 L428,309.78 L428.5,309.91 L429,310.01 L429.5,310.09 L430,310.15 L430.5,310.2 L431,310.23 L431.5,310.25 L432,310.27 L432.5,310.28 L433,310.29 L433.5,310.29 L434,310.29 L434.5,310.3 L435,310.3 L435.5,310.3 L436,310.3 L436.5,310.3 L437,310.3 L437.5,310.3 L438,310.3 L438.5,310.3 L439,310.3 L439.5,310.3 L440,310.3 L440.5,310.3 L441,310.3 L441.5,310.3 L442,310.3 L442.5,310.3 L443,310.3 L443.5,310.3 L444,310.3 L444.5,310.3 L445,310.3 L445.5,310.3 L445.5,310.3 Z" fill="#e2e2e2" stroke="#888" stroke-width="0.6" />
<line x1="383.5" y1="310.3" x2="445.5" y2="310.3" stroke="#888" stroke-width="0.7" />
<path d="M383.5,330.3 L383.5,330.3 L384,330.3 L384.5,330.3 L385,330.3 L385.5,330.3 L386,330.3 L386.5,330.3 L387,330.3 L387.5,330.3 L388,330.3 L388.5,330.3 L389,330.3 L389.5,330.3 L390,330.3 L390.5,330.3 L391,330.3 L391.5,330.3 L392,330.3 L392.5,330.3 L393,330.3 L393.5,330.3 L394,330.3 L394.5,330.3 L395,330.3 L395.5,330.29 L396,330.29 L396.5,330.29 L397,330.28 L397.5,330.27 L398,330.26 L398.5,330.24 L399,330.22 L399.5,330.19 L400,330.15 L400.5,330.1 L401,330.03 L401.5,329.95 L402,329.84 L402.5,329.7 L403,329.54 L403.5,329.34 L404,329.11 L404.5,328.83 L405,328.51 L405.5,328.15 L406,327.74 L406.5,327.29 L407,326.79 L407.5,326.25 L408,325.67 L408.5,325.06 L409,324.41 L409.5,323.74 L410,323.05 L410.5,322.33 L411,321.61 L411.5,320.88 L412,320.14 L412.5,319.4 L413,318.68 L413.5,317.97 L414,317.29 L414.5,316.64 L415,316.04 L415.5,315.48 L416,314.96 L416.5,314.46 L417,313.95 L417.5,313.36 L418,312.64 L418.5,311.68 L419,310.41 L419.5,308.76 L420,306.73 L420.5,304.36 L421,301.78 L421.5,299.21 L422,296.92 L422.5,295.2 L423,294.32 L423.5,294.48 L424,295.75 L424.5,298.09 L425,301.3 L425.5,305.12 L426,309.23 L426.5,313.31 L427,317.11 L427.5,320.43 L428,323.19 L428.5,325.37 L429,327 L429.5,328.17 L430,328.97 L430.5,329.5 L431,329.83 L431.5,330.03 L432,330.15 L432.5,330.22 L433,330.26 L433.5,330.28 L434,330.29 L434.5,330.29 L435,330.3 L435.5,330.3 L436,330.3 L436.5,330.3 L437,330.3 L437.5,330.3 L438,330.3 L438.5,330.3 L439,330.3 L439.5,330.3 L440,330.3 L440.5,330.3 L441,330.3 L441.5,330.3 L442,330.3 L442.5,330.3 L443,330.3 L443.5,330.3 L444,330.3 L444.5,330.3 L445,330.3 L445.5,330.3 L445.5,330.3 Z" fill="#dc9898" stroke="#c03a3a" stroke-width="0.7" fill-opacity="0.85"/>
<line x1="386.5" y1="330.3" x2="386.5" y2="329.3" stroke="#777" stroke-width="0.5" />
<line x1="391.5" y1="330.3" x2="391.5" y2="329.3" stroke="#777" stroke-width="0.5" />
<line x1="396.5" y1="330.3" x2="396.5" y2="329.3" stroke="#777" stroke-width="0.5" />
<line x1="401.5" y1="330.3" x2="401.5" y2="329.3" stroke="#777" stroke-width="0.5" />
<line x1="406.5" y1="330.3" x2="406.5" y2="329.3" stroke="#777" stroke-width="0.5" />
<line x1="411.5" y1="330.3" x2="411.5" y2="329.3" stroke="#777" stroke-width="0.5" />
<line x1="416.5" y1="330.3" x2="416.5" y2="329.3" stroke="#777" stroke-width="0.5" />
<line x1="421.5" y1="330.3" x2="421.5" y2="329.3" stroke="#777" stroke-width="0.5" />
<line x1="426.5" y1="330.3" x2="426.5" y2="329.3" stroke="#777" stroke-width="0.5" />
<line x1="431.5" y1="330.3" x2="431.5" y2="329.3" stroke="#777" stroke-width="0.5" />
<line x1="436.5" y1="330.3" x2="436.5" y2="329.3" stroke="#777" stroke-width="0.5" />
<line x1="441.5" y1="330.3" x2="441.5" y2="329.3" stroke="#777" stroke-width="0.5" />
<text x="415" y="266.3" font-size="9.9" text-anchor="middle" font-weight="bold" fill="#1b679e" >JCAR017</text>
<rect x="449.3" y="268.4" width="62" height="61.9" fill="#fff" stroke="#aaa" stroke-width="0.7" rx="0" />
<path d="M449.3,310.3 L449.3,310.3 L449.8,310.3 L450.3,310.3 L450.8,310.3 L451.3,310.3 L451.8,310.3 L452.3,310.3 L452.8,310.3 L453.3,310.3 L453.8,310.3 L454.3,310.3 L454.8,310.3 L455.3,310.3 L455.8,310.3 L456.3,310.3 L456.8,310.3 L457.3,310.3 L457.8,310.3 L458.3,310.3 L458.8,310.3 L459.3,310.3 L459.8,310.3 L460.3,310.3 L460.8,310.3 L461.3,310.3 L461.8,310.3 L462.3,310.3 L462.8,310.3 L463.3,310.3 L463.8,310.3 L464.3,310.3 L464.8,310.3 L465.3,310.3 L465.8,310.3 L466.3,310.3 L466.8,310.29 L467.3,310.28 L467.8,310.25 L468.3,310.18 L468.8,310.03 L469.3,309.76 L469.8,309.28 L470.3,308.49 L470.8,307.3 L471.3,305.64 L471.8,303.54 L472.3,301.09 L472.8,298.48 L473.3,295.93 L473.8,293.65 L474.3,291.77 L474.8,290.3 L475.3,289.2 L475.8,288.41 L476.3,287.88 L476.8,287.64 L477.3,287.78 L477.8,288.38 L478.3,289.48 L478.8,291.05 L479.3,293.01 L479.8,295.2 L480.3,297.45 L480.8,299.58 L481.3,301.46 L481.8,303.01 L482.3,304.19 L482.8,305.01 L483.3,305.52 L483.8,305.78 L484.3,305.84 L484.8,305.78 L485.3,305.65 L485.8,305.51 L486.3,305.39 L486.8,305.3 L487.3,305.28 L487.8,305.33 L488.3,305.45 L488.8,305.64 L489.3,305.89 L489.8,306.19 L490.3,306.53 L490.8,306.89 L491.3,307.27 L491.8,307.64 L492.3,308.01 L492.8,308.36 L493.3,308.68 L493.8,308.96 L494.3,309.22 L494.8,309.44 L495.3,309.62 L495.8,309.78 L496.3,309.9 L496.8,310 L497.3,310.08 L497.8,310.14 L498.3,310.19 L498.8,310.22 L499.3,310.24 L499.8,310.26 L500.3,310.27 L500.8,310.28 L501.3,310.29 L501.8,310.29 L502.3,310.3 L502.8,310.3 L503.3,310.3 L503.8,310.3 L504.3,310.3 L504.8,310.3 L505.3,310.3 L505.8,310.3 L506.3,310.3 L506.8,310.3 L507.3,310.3 L507.8,310.3 L508.3,310.3 L508.8,310.3 L509.3,310.3 L509.8,310.3 L510.3,310.3 L510.8,310.3 L511.3,310.3 L511.3,310.3 Z" fill="#e2e2e2" stroke="#888" stroke-width="0.6" />
<line x1="449.3" y1="310.3" x2="511.3" y2="310.3" stroke="#888" stroke-width="0.7" />
<path d="M449.3,330.3 L449.3,330.3 L449.8,330.3 L450.3,330.3 L450.8,330.3 L451.3,330.3 L451.8,330.3 L452.3,330.3 L452.8,330.3 L453.3,330.3 L453.8,330.3 L454.3,330.3 L454.8,330.3 L455.3,330.3 L455.8,330.3 L456.3,330.3 L456.8,330.3 L457.3,330.3 L457.8,330.3 L458.3,330.3 L458.8,330.3 L459.3,330.3 L459.8,330.3 L460.3,330.3 L460.8,330.3 L461.3,330.3 L461.8,330.3 L462.3,330.3 L462.8,330.3 L463.3,330.3 L463.8,330.3 L464.3,330.29 L464.8,330.29 L465.3,330.28 L465.8,330.26 L466.3,330.24 L466.8,330.21 L467.3,330.16 L467.8,330.1 L468.3,330 L468.8,329.87 L469.3,329.7 L469.8,329.48 L470.3,329.19 L470.8,328.84 L471.3,328.4 L471.8,327.89 L472.3,327.29 L472.8,326.62 L473.3,325.89 L473.8,325.1 L474.3,324.28 L474.8,323.45 L475.3,322.63 L475.8,321.85 L476.3,321.13 L476.8,320.48 L477.3,319.92 L477.8,319.44 L478.3,319.05 L478.8,318.73 L479.3,318.47 L479.8,318.26 L480.3,318.09 L480.8,317.94 L481.3,317.83 L481.8,317.73 L482.3,317.67 L482.8,317.64 L483.3,317.63 L483.8,317.64 L484.3,317.61 L484.8,317.5 L485.3,317.21 L485.8,316.63 L486.3,315.65 L486.8,314.16 L487.3,312.14 L487.8,309.61 L488.3,306.75 L488.8,303.81 L489.3,301.15 L489.8,299.15 L490.3,298.16 L490.8,298.39 L491.3,299.89 L491.8,302.54 L492.3,306.04 L492.8,310.03 L493.3,314.12 L493.8,317.95 L494.3,321.3 L494.8,324.03 L495.3,326.12 L495.8,327.64 L496.3,328.68 L496.8,329.36 L497.3,329.77 L497.8,330.02 L498.3,330.15 L498.8,330.23 L499.3,330.26 L499.8,330.28 L500.3,330.29 L500.8,330.3 L501.3,330.3 L501.8,330.3 L502.3,330.3 L502.8,330.3 L503.3,330.3 L503.8,330.3 L504.3,330.3 L504.8,330.3 L505.3,330.3 L505.8,330.3 L506.3,330.3 L506.8,330.3 L507.3,330.3 L507.8,330.3 L508.3,330.3 L508.8,330.3 L509.3,330.3 L509.8,330.3 L510.3,330.3 L510.8,330.3 L511.3,330.3 L511.3,330.3 Z" fill="#dc9898" stroke="#c03a3a" stroke-width="0.7" fill-opacity="0.85"/>
<line x1="452.3" y1="330.3" x2="452.3" y2="329.3" stroke="#777" stroke-width="0.5" />
<line x1="457.3" y1="330.3" x2="457.3" y2="329.3" stroke="#777" stroke-width="0.5" />
<line x1="462.3" y1="330.3" x2="462.3" y2="329.3" stroke="#777" stroke-width="0.5" />
<line x1="467.3" y1="330.3" x2="467.3" y2="329.3" stroke="#777" stroke-width="0.5" />
<line x1="472.3" y1="330.3" x2="472.3" y2="329.3" stroke="#777" stroke-width="0.5" />
<line x1="477.3" y1="330.3" x2="477.3" y2="329.3" stroke="#777" stroke-width="0.5" />
<line x1="482.3" y1="330.3" x2="482.3" y2="329.3" stroke="#777" stroke-width="0.5" />
<line x1="487.3" y1="330.3" x2="487.3" y2="329.3" stroke="#777" stroke-width="0.5" />
<line x1="492.3" y1="330.3" x2="492.3" y2="329.3" stroke="#777" stroke-width="0.5" />
<line x1="497.3" y1="330.3" x2="497.3" y2="329.3" stroke="#777" stroke-width="0.5" />
<line x1="502.3" y1="330.3" x2="502.3" y2="329.3" stroke="#777" stroke-width="0.5" />
<line x1="507.3" y1="330.3" x2="507.3" y2="329.3" stroke="#777" stroke-width="0.5" />
<text x="482.35" y="266.3" font-size="9.9" text-anchor="middle" font-weight="bold" fill="#a9d1ee" >JCAR021</text>
<rect x="514.8" y="268.4" width="62" height="61.9" fill="#fff" stroke="#aaa" stroke-width="0.7" rx="0" />
<path d="M514.8,310.3 L514.8,310.3 L515.3,310.3 L515.8,310.3 L516.3,310.3 L516.8,310.3 L517.3,310.3 L517.8,310.3 L518.3,310.3 L518.8,310.3 L519.3,310.3 L519.8,310.3 L520.3,310.3 L520.8,310.3 L521.3,310.3 L521.8,310.3 L522.3,310.3 L522.8,310.3 L523.3,310.3 L523.8,310.3 L524.3,310.3 L524.8,310.3 L525.3,310.3 L525.8,310.3 L526.3,310.3 L526.8,310.3 L527.3,310.3 L527.8,310.3 L528.3,310.3 L528.8,310.3 L529.3,310.3 L529.8,310.3 L530.3,310.3 L530.8,310.3 L531.3,310.3 L531.8,310.29 L532.3,310.29 L532.8,310.27 L533.3,310.25 L533.8,310.21 L534.3,310.13 L534.8,309.99 L535.3,309.74 L535.8,309.35 L536.3,308.71 L536.8,307.76 L537.3,306.37 L537.8,304.45 L538.3,301.92 L538.8,298.75 L539.3,294.98 L539.8,290.75 L540.3,286.29 L540.8,281.95 L541.3,278.08 L541.8,275.05 L542.3,273.17 L542.8,272.59 L543.3,273.36 L543.8,275.32 L544.3,278.21 L544.8,281.68 L545.3,285.38 L545.8,288.96 L546.3,292.19 L546.8,294.91 L547.3,297.07 L547.8,298.71 L548.3,299.89 L548.8,300.73 L549.3,301.34 L549.8,301.8 L550.3,302.19 L550.8,302.57 L551.3,302.97 L551.8,303.4 L552.3,303.88 L552.8,304.38 L553.3,304.91 L553.8,305.45 L554.3,305.98 L554.8,306.51 L555.3,307.01 L555.8,307.48 L556.3,307.91 L556.8,308.31 L557.3,308.65 L557.8,308.96 L558.3,309.22 L558.8,309.44 L559.3,309.62 L559.8,309.77 L560.3,309.9 L560.8,309.99 L561.3,310.07 L561.8,310.13 L562.3,310.18 L562.8,310.21 L563.3,310.24 L563.8,310.26 L564.3,310.27 L564.8,310.28 L565.3,310.29 L565.8,310.29 L566.3,310.29 L566.8,310.3 L567.3,310.3 L567.8,310.3 L568.3,310.3 L568.8,310.3 L569.3,310.3 L569.8,310.3 L570.3,310.3 L570.8,310.3 L571.3,310.3 L571.8,310.3 L572.3,310.3 L572.8,310.3 L573.3,310.3 L573.8,310.3 L574.3,310.3 L574.8,310.3 L575.3,310.3 L575.8,310.3 L576.3,310.3 L576.8,310.3 L576.8,310.3 Z" fill="#e2e2e2" stroke="#888" stroke-width="0.6" />
<line x1="514.8" y1="310.3" x2="576.8" y2="310.3" stroke="#888" stroke-width="0.7" />
<path d="M514.8,330.3 L514.8,330.3 L515.3,330.3 L515.8,330.3 L516.3,330.3 L516.8,330.3 L517.3,330.3 L517.8,330.3 L518.3,330.3 L518.8,330.3 L519.3,330.3 L519.8,330.3 L520.3,330.3 L520.8,330.3 L521.3,330.3 L521.8,330.3 L522.3,330.3 L522.8,330.3 L523.3,330.3 L523.8,330.3 L524.3,330.3 L524.8,330.3 L525.3,330.3 L525.8,330.3 L526.3,330.3 L526.8,330.3 L527.3,330.29 L527.8,330.29 L528.3,330.29 L528.8,330.28 L529.3,330.27 L529.8,330.25 L530.3,330.23 L530.8,330.21 L531.3,330.17 L531.8,330.12 L532.3,330.05 L532.8,329.97 L533.3,329.86 L533.8,329.72 L534.3,329.56 L534.8,329.36 L535.3,329.13 L535.8,328.86 L536.3,328.56 L536.8,328.21 L537.3,327.83 L537.8,327.42 L538.3,326.98 L538.8,326.52 L539.3,326.04 L539.8,325.55 L540.3,325.06 L540.8,324.57 L541.3,324.09 L541.8,323.62 L542.3,323.16 L542.8,322.72 L543.3,322.31 L543.8,321.92 L544.3,321.55 L544.8,321.22 L545.3,320.92 L545.8,320.66 L546.3,320.45 L546.8,320.28 L547.3,320.16 L547.8,320.08 L548.3,320.02 L548.8,319.94 L549.3,319.78 L549.8,319.47 L550.3,318.9 L550.8,317.97 L551.3,316.57 L551.8,314.64 L552.3,312.16 L552.8,309.21 L553.3,305.97 L553.8,302.74 L554.3,299.86 L554.8,297.68 L555.3,296.54 L555.8,296.63 L556.3,298 L556.8,300.53 L557.3,303.96 L557.8,307.94 L558.3,312.09 L558.8,316.08 L559.3,319.64 L559.8,322.64 L560.3,325.02 L560.8,326.8 L561.3,328.07 L561.8,328.94 L562.3,329.49 L562.8,329.84 L563.3,330.04 L563.8,330.16 L564.3,330.23 L564.8,330.26 L565.3,330.28 L565.8,330.29 L566.3,330.29 L566.8,330.3 L567.3,330.3 L567.8,330.3 L568.3,330.3 L568.8,330.3 L569.3,330.3 L569.8,330.3 L570.3,330.3 L570.8,330.3 L571.3,330.3 L571.8,330.3 L572.3,330.3 L572.8,330.3 L573.3,330.3 L573.8,330.3 L574.3,330.3 L574.8,330.3 L575.3,330.3 L575.8,330.3 L576.3,330.3 L576.8,330.3 L576.8,330.3 Z" fill="#dc9898" stroke="#c03a3a" stroke-width="0.7" fill-opacity="0.85"/>
<line x1="517.8" y1="330.3" x2="517.8" y2="329.3" stroke="#777" stroke-width="0.5" />
<line x1="522.8" y1="330.3" x2="522.8" y2="329.3" stroke="#777" stroke-width="0.5" />
<line x1="527.8" y1="330.3" x2="527.8" y2="329.3" stroke="#777" stroke-width="0.5" />
<line x1="532.8" y1="330.3" x2="532.8" y2="329.3" stroke="#777" stroke-width="0.5" />
<line x1="537.8" y1="330.3" x2="537.8" y2="329.3" stroke="#777" stroke-width="0.5" />
<line x1="542.8" y1="330.3" x2="542.8" y2="329.3" stroke="#777" stroke-width="0.5" />
<line x1="547.8" y1="330.3" x2="547.8" y2="329.3" stroke="#777" stroke-width="0.5" />
<line x1="552.8" y1="330.3" x2="552.8" y2="329.3" stroke="#777" stroke-width="0.5" />
<line x1="557.8" y1="330.3" x2="557.8" y2="329.3" stroke="#777" stroke-width="0.5" />
<line x1="562.8" y1="330.3" x2="562.8" y2="329.3" stroke="#777" stroke-width="0.5" />
<line x1="567.8" y1="330.3" x2="567.8" y2="329.3" stroke="#777" stroke-width="0.5" />
<line x1="572.8" y1="330.3" x2="572.8" y2="329.3" stroke="#777" stroke-width="0.5" />
<text x="545.2" y="266.3" font-size="9.9" text-anchor="middle" font-weight="bold" fill="#b4b4b4" >CAT</text>
<rect x="580.4" y="268.4" width="62" height="61.9" fill="#fff" stroke="#aaa" stroke-width="0.7" rx="0" />
<path d="M580.4,310.3 L580.4,310.3 L580.9,310.3 L581.4,310.3 L581.9,310.3 L582.4,310.3 L582.9,310.3 L583.4,310.3 L583.9,310.3 L584.4,310.3 L584.9,310.3 L585.4,310.3 L585.9,310.3 L586.4,310.3 L586.9,310.3 L587.4,310.3 L587.9,310.3 L588.4,310.3 L588.9,310.3 L589.4,310.3 L589.9,310.3 L590.4,310.3 L590.9,310.3 L591.4,310.3 L591.9,310.3 L592.4,310.3 L592.9,310.3 L593.4,310.3 L593.9,310.3 L594.4,310.3 L594.9,310.3 L595.4,310.3 L595.9,310.3 L596.4,310.3 L596.9,310.3 L597.4,310.29 L597.9,310.27 L598.4,310.21 L598.9,310.05 L599.4,309.7 L599.9,308.95 L600.4,307.53 L600.9,305.09 L601.4,301.31 L601.9,296.09 L602.4,289.68 L602.9,282.87 L603.4,276.83 L603.9,272.85 L604.4,271.87 L604.9,274.12 L605.4,279.07 L605.9,285.58 L606.4,292.35 L606.9,298.35 L607.4,303 L607.9,306.21 L608.4,308.2 L608.9,309.31 L609.4,309.87 L609.9,310.13 L610.4,310.24 L610.9,310.28 L611.4,310.29 L611.9,310.3 L612.4,310.3 L612.9,310.3 L613.4,310.3 L613.9,310.3 L614.4,310.3 L614.9,310.3 L615.4,310.3 L615.9,310.3 L616.4,310.3 L616.9,310.3 L617.4,310.3 L617.9,310.3 L618.4,310.3 L618.9,310.3 L619.4,310.3 L619.9,310.3 L620.4,310.3 L620.9,310.3 L621.4,310.3 L621.9,310.3 L622.4,310.3 L622.9,310.3 L623.4,310.3 L623.9,310.3 L624.4,310.3 L624.9,310.3 L625.4,310.3 L625.9,310.3 L626.4,310.3 L626.9,310.3 L627.4,310.3 L627.9,310.3 L628.4,310.3 L628.9,310.3 L629.4,310.3 L629.9,310.3 L630.4,310.3 L630.9,310.3 L631.4,310.3 L631.9,310.3 L632.4,310.3 L632.9,310.3 L633.4,310.3 L633.9,310.3 L634.4,310.3 L634.9,310.3 L635.4,310.3 L635.9,310.3 L636.4,310.3 L636.9,310.3 L637.4,310.3 L637.9,310.3 L638.4,310.3 L638.9,310.3 L639.4,310.3 L639.9,310.3 L640.4,310.3 L640.9,310.3 L641.4,310.3 L641.9,310.3 L642.4,310.3 L642.4,310.3 Z" fill="#e2e2e2" stroke="#888" stroke-width="0.6" />
<line x1="580.4" y1="310.3" x2="642.4" y2="310.3" stroke="#888" stroke-width="0.7" />
<path d="M580.4,330.3 L580.4,330.3 L580.9,330.3 L581.4,330.3 L581.9,330.3 L582.4,330.3 L582.9,330.3 L583.4,330.3 L583.9,330.3 L584.4,330.3 L584.9,330.3 L585.4,330.3 L585.9,330.3 L586.4,330.3 L586.9,330.3 L587.4,330.3 L587.9,330.3 L588.4,330.3 L588.9,330.3 L589.4,330.3 L589.9,330.3 L590.4,330.3 L590.9,330.3 L591.4,330.3 L591.9,330.3 L592.4,330.3 L592.9,330.3 L593.4,330.3 L593.9,330.3 L594.4,330.3 L594.9,330.3 L595.4,330.3 L595.9,330.3 L596.4,330.29 L596.9,330.28 L597.4,330.25 L597.9,330.17 L598.4,329.99 L598.9,329.62 L599.4,328.92 L599.9,327.66 L600.4,325.62 L600.9,322.54 L601.4,318.29 L601.9,312.96 L602.4,306.95 L602.9,300.95 L603.4,295.89 L603.9,292.64 L604.4,291.85 L604.9,293.67 L605.4,297.74 L605.9,303.29 L606.4,309.4 L606.9,315.2 L607.4,320.13 L607.9,323.9 L608.4,326.55 L608.9,328.25 L609.4,329.25 L609.9,329.8 L610.4,330.08 L610.9,330.21 L611.4,330.26 L611.9,330.29 L612.4,330.3 L612.9,330.3 L613.4,330.3 L613.9,330.3 L614.4,330.3 L614.9,330.3 L615.4,330.3 L615.9,330.3 L616.4,330.3 L616.9,330.3 L617.4,330.3 L617.9,330.3 L618.4,330.3 L618.9,330.3 L619.4,330.3 L619.9,330.3 L620.4,330.3 L620.9,330.3 L621.4,330.3 L621.9,330.3 L622.4,330.3 L622.9,330.3 L623.4,330.3 L623.9,330.3 L624.4,330.3 L624.9,330.3 L625.4,330.3 L625.9,330.3 L626.4,330.3 L626.9,330.3 L627.4,330.3 L627.9,330.3 L628.4,330.3 L628.9,330.3 L629.4,330.3 L629.9,330.3 L630.4,330.3 L630.9,330.3 L631.4,330.3 L631.9,330.3 L632.4,330.3 L632.9,330.3 L633.4,330.3 L633.9,330.3 L634.4,330.3 L634.9,330.3 L635.4,330.3 L635.9,330.3 L636.4,330.3 L636.9,330.3 L637.4,330.3 L637.9,330.3 L638.4,330.3 L638.9,330.3 L639.4,330.3 L639.9,330.3 L640.4,330.3 L640.9,330.3 L641.4,330.3 L641.9,330.3 L642.4,330.3 L642.4,330.3 Z" fill="#dc9898" stroke="#c03a3a" stroke-width="0.7" fill-opacity="0.85"/>
<line x1="583.4" y1="330.3" x2="583.4" y2="329.3" stroke="#777" stroke-width="0.5" />
<line x1="588.4" y1="330.3" x2="588.4" y2="329.3" stroke="#777" stroke-width="0.5" />
<line x1="593.4" y1="330.3" x2="593.4" y2="329.3" stroke="#777" stroke-width="0.5" />
<line x1="598.4" y1="330.3" x2="598.4" y2="329.3" stroke="#777" stroke-width="0.5" />
<line x1="603.4" y1="330.3" x2="603.4" y2="329.3" stroke="#777" stroke-width="0.5" />
<line x1="608.4" y1="330.3" x2="608.4" y2="329.3" stroke="#777" stroke-width="0.5" />
<line x1="613.4" y1="330.3" x2="613.4" y2="329.3" stroke="#777" stroke-width="0.5" />
<line x1="618.4" y1="330.3" x2="618.4" y2="329.3" stroke="#777" stroke-width="0.5" />
<line x1="623.4" y1="330.3" x2="623.4" y2="329.3" stroke="#777" stroke-width="0.5" />
<line x1="628.4" y1="330.3" x2="628.4" y2="329.3" stroke="#777" stroke-width="0.5" />
<line x1="633.4" y1="330.3" x2="633.4" y2="329.3" stroke="#777" stroke-width="0.5" />
<line x1="638.4" y1="330.3" x2="638.4" y2="329.3" stroke="#777" stroke-width="0.5" />
<text x="611.75" y="266.3" font-size="9.9" text-anchor="middle" font-weight="bold" fill="#111" >mock</text>
<line x1="380.5" y1="268.4" x2="380.5" y2="304.6" stroke="#000" stroke-width="1.6" />
<text transform="translate(381,319.2) rotate(-90)" font-size="7.3" text-anchor="middle" fill="#1a1a1a">modal</text>
<text x="383.5" y="339.6" font-size="7.3" text-anchor="start" fill="#1a1a1a" >Nur77-tdTomato</text>
<line x1="438.9" y1="335.6" x2="642.2" y2="335.6" stroke="#222" stroke-width="1.6" />
<text x="642" y="344.3" font-size="6" text-anchor="end" fill="#1a1a1a">pregated on GFP<tspan font-size="4" dy="-2.5">+</tspan><tspan dy="2.5"> EGFRt</tspan><tspan font-size="4" dy="-2.5">+</tspan></text>
<text x="647.7" y="294.1" font-size="7.3" text-anchor="start" fill="#1a1a1a" >Medium</text>
<text x="647.7" y="321.2" font-size="7.3" text-anchor="start" fill="#1a1a1a" >Raji</text>
<text x="-0.5" y="371.3" font-size="10.4" text-anchor="start" font-weight="bold" fill="#1a1a1a" >g</text>
<line x1="42.3" y1="385.8" x2="42.3" y2="451" stroke="#1a1a1a" stroke-width="1.2" />
<line x1="41.8" y1="450.4" x2="93.8" y2="450.4" stroke="#1a1a1a" stroke-width="1.2" />
<line x1="39.7" y1="450.4" x2="42.3" y2="450.4" stroke="#1a1a1a" stroke-width="1" />
<text x="38.9" y="451.2" font-size="7.3" text-anchor="end" fill="#1a1a1a" >0</text>
<line x1="39.7" y1="437.58" x2="42.3" y2="437.58" stroke="#1a1a1a" stroke-width="1" />
<text x="38.9" y="438.38" font-size="7.3" text-anchor="end" fill="#1a1a1a" >20</text>
<line x1="39.7" y1="424.76" x2="42.3" y2="424.76" stroke="#1a1a1a" stroke-width="1" />
<text x="38.9" y="425.56" font-size="7.3" text-anchor="end" fill="#1a1a1a" >40</text>
<line x1="39.7" y1="411.94" x2="42.3" y2="411.94" stroke="#1a1a1a" stroke-width="1" />
<text x="38.9" y="412.74" font-size="7.3" text-anchor="end" fill="#1a1a1a" >60</text>
<line x1="39.7" y1="399.12" x2="42.3" y2="399.12" stroke="#1a1a1a" stroke-width="1" />
<text x="38.9" y="399.92" font-size="7.3" text-anchor="end" fill="#1a1a1a" >80</text>
<line x1="39.7" y1="386.3" x2="42.3" y2="386.3" stroke="#1a1a1a" stroke-width="1" />
<text x="38.9" y="387.1" font-size="7.3" text-anchor="end" fill="#1a1a1a" >100</text>
<line x1="50.7" y1="450.4" x2="50.7" y2="453.4" stroke="#1a1a1a" stroke-width="1" />
<text transform="translate(53.4,458) rotate(-45)" font-size="6.3" text-anchor="end" fill="#1a1a1a">E:T = 1:0.25</text>
<line x1="68" y1="450.4" x2="68" y2="453.4" stroke="#1a1a1a" stroke-width="1" />
<text transform="translate(70.7,458) rotate(-45)" font-size="6.3" text-anchor="end" fill="#1a1a1a">E:T = 1:1</text>
<line x1="85.3" y1="450.4" x2="85.3" y2="453.4" stroke="#1a1a1a" stroke-width="1" />
<text transform="translate(88,458) rotate(-45)" font-size="6.3" text-anchor="end" fill="#1a1a1a">PMA/Iono</text>
<text x="66.5" y="377.4" font-size="8.4" text-anchor="middle" fill="#1a1a1a" >IFN-γ</text>
<path d="M50.7,441.43 L68,434.38 L85.3,420.91" fill="none" stroke="#aed4ef" stroke-width="1.1" />
<path d="M50.7,442.71 L68,436.3 L85.3,422.84" fill="none" stroke="#9a9a9a" stroke-width="1.1" />
<path d="M50.7,443.99 L68,438.22 L85.3,427.32" fill="none" stroke="#1b679e" stroke-width="1.1" />
<path d="M50.7,450.4 L68,450.4 L85.3,431.81" fill="none" stroke="#111" stroke-width="1.1" />
<circle cx="50.7" cy="437.58" r="1.75" fill="#1b679e" stroke="#222" stroke-width="0.5"/>
<circle cx="50.7" cy="439.5" r="1.75" fill="#1b679e" stroke="#222" stroke-width="0.5"/>
<circle cx="50.7" cy="441.43" r="1.75" fill="#aed4ef" stroke="#222" stroke-width="0.5"/>
<circle cx="50.7" cy="443.99" r="1.75" fill="#1b679e" stroke="#222" stroke-width="0.5"/>
<circle cx="50.7" cy="447.84" r="1.75" fill="#1b679e" stroke="#222" stroke-width="0.5"/>
<circle cx="50.7" cy="450.4" r="1.75" fill="#111" stroke="#222" stroke-width="0.5"/>
<circle cx="68" cy="432.45" r="1.75" fill="#aed4ef" stroke="#222" stroke-width="0.5"/>
<circle cx="68" cy="433.73" r="1.75" fill="#1b679e" stroke="#222" stroke-width="0.5"/>
<circle cx="68" cy="435.02" r="1.75" fill="#1b679e" stroke="#222" stroke-width="0.5"/>
<circle cx="68" cy="436.94" r="1.75" fill="#1b679e" stroke="#222" stroke-width="0.5"/>
<circle cx="68" cy="438.86" r="1.75" fill="#1b679e" stroke="#222" stroke-width="0.5"/>
<circle cx="68" cy="439.5" r="1.75" fill="#1b679e" stroke="#222" stroke-width="0.5"/>
<circle cx="68" cy="443.35" r="1.75" fill="#1b679e" stroke="#222" stroke-width="0.5"/>
<circle cx="68" cy="450.4" r="1.75" fill="#111" stroke="#222" stroke-width="0.5"/>
<circle cx="85.3" cy="411.94" r="1.75" fill="#999" stroke="#222" stroke-width="0.5"/>
<circle cx="85.3" cy="416.43" r="1.75" fill="#aed4ef" stroke="#222" stroke-width="0.5"/>
<circle cx="85.3" cy="417.71" r="1.75" fill="#aed4ef" stroke="#222" stroke-width="0.5"/>
<circle cx="85.3" cy="422.2" r="1.75" fill="#111" stroke="#222" stroke-width="0.5"/>
<circle cx="85.3" cy="424.76" r="1.75" fill="#1b679e" stroke="#222" stroke-width="0.5"/>
<circle cx="85.3" cy="426.68" r="1.75" fill="#1b679e" stroke="#222" stroke-width="0.5"/>
<circle cx="85.3" cy="428.61" r="1.75" fill="#1b679e" stroke="#222" stroke-width="0.5"/>
<circle cx="85.3" cy="430.53" r="1.75" fill="#111" stroke="#222" stroke-width="0.5"/>
<circle cx="85.3" cy="434.38" r="1.75" fill="#111" stroke="#222" stroke-width="0.5"/>
<circle cx="85.3" cy="436.3" r="1.75" fill="#111" stroke="#222" stroke-width="0.5"/>
<circle cx="85.3" cy="437.58" r="1.75" fill="#111" stroke="#222" stroke-width="0.5"/>
<line x1="109.1" y1="385.8" x2="109.1" y2="451" stroke="#1a1a1a" stroke-width="1.2" />
<line x1="108.6" y1="450.4" x2="160.6" y2="450.4" stroke="#1a1a1a" stroke-width="1.2" />
<line x1="106.5" y1="450.4" x2="109.1" y2="450.4" stroke="#1a1a1a" stroke-width="1" />
<line x1="106.5" y1="437.58" x2="109.1" y2="437.58" stroke="#1a1a1a" stroke-width="1" />
<line x1="106.5" y1="424.76" x2="109.1" y2="424.76" stroke="#1a1a1a" stroke-width="1" />
<line x1="106.5" y1="411.94" x2="109.1" y2="411.94" stroke="#1a1a1a" stroke-width="1" />
<line x1="106.5" y1="399.12" x2="109.1" y2="399.12" stroke="#1a1a1a" stroke-width="1" />
<line x1="106.5" y1="386.3" x2="109.1" y2="386.3" stroke="#1a1a1a" stroke-width="1" />
<line x1="117.5" y1="450.4" x2="117.5" y2="453.4" stroke="#1a1a1a" stroke-width="1" />
<text transform="translate(120.2,458) rotate(-45)" font-size="6.3" text-anchor="end" fill="#1a1a1a">E:T = 1:0.25</text>
<line x1="134.8" y1="450.4" x2="134.8" y2="453.4" stroke="#1a1a1a" stroke-width="1" />
<text transform="translate(137.5,458) rotate(-45)" font-size="6.3" text-anchor="end" fill="#1a1a1a">E:T = 1:1</text>
<line x1="152.1" y1="450.4" x2="152.1" y2="453.4" stroke="#1a1a1a" stroke-width="1" />
<text transform="translate(154.8,458) rotate(-45)" font-size="6.3" text-anchor="end" fill="#1a1a1a">PMA/Iono</text>
<text x="135" y="377.4" font-size="8.4" text-anchor="middle" fill="#1a1a1a" >TNF-α</text>
<path d="M117.5,430.53 L134.8,415.14 L152.1,401.68" fill="none" stroke="#aed4ef" stroke-width="1.1" />
<path d="M117.5,429.25 L134.8,413.86 L152.1,399.76" fill="none" stroke="#9a9a9a" stroke-width="1.1" />
<path d="M117.5,426.04 L134.8,410.02 L152.1,396.56" fill="none" stroke="#1b679e" stroke-width="1.1" />
<path d="M117.5,450.4 L134.8,450.4 L152.1,413.22" fill="none" stroke="#111" stroke-width="1.1" />
<circle cx="117.5" cy="415.79" r="1.75" fill="#1b679e" stroke="#222" stroke-width="0.5"/>
<circle cx="117.5" cy="423.48" r="1.75" fill="#999" stroke="#222" stroke-width="0.5"/>
<circle cx="117.5" cy="426.04" r="1.75" fill="#1b679e" stroke="#222" stroke-width="0.5"/>
<circle cx="117.5" cy="427.96" r="1.75" fill="#aed4ef" stroke="#222" stroke-width="0.5"/>
<circle cx="117.5" cy="429.89" r="1.75" fill="#999" stroke="#222" stroke-width="0.5"/>
<circle cx="117.5" cy="432.45" r="1.75" fill="#1b679e" stroke="#222" stroke-width="0.5"/>
<circle cx="117.5" cy="434.38" r="1.75" fill="#1b679e" stroke="#222" stroke-width="0.5"/>
<circle cx="117.5" cy="436.62" r="1.75" fill="#aed4ef" stroke="#222" stroke-width="0.5"/>
<circle cx="117.5" cy="450.4" r="1.75" fill="#111" stroke="#222" stroke-width="0.5"/>
<circle cx="134.8" cy="401.68" r="1.75" fill="#aed4ef" stroke="#222" stroke-width="0.5"/>
<circle cx="134.8" cy="406.17" r="1.75" fill="#1b679e" stroke="#222" stroke-width="0.5"/>
<circle cx="134.8" cy="408.09" r="1.75" fill="#1b679e" stroke="#222" stroke-width="0.5"/>
<circle cx="134.8" cy="410.02" r="1.75" fill="#999" stroke="#222" stroke-width="0.5"/>
<circle cx="134.8" cy="412.58" r="1.75" fill="#aed4ef" stroke="#222" stroke-width="0.5"/>
<circle cx="134.8" cy="414.5" r="1.75" fill="#1b679e" stroke="#222" stroke-width="0.5"/>
<circle cx="134.8" cy="417.71" r="1.75" fill="#999" stroke="#222" stroke-width="0.5"/>
<circle cx="134.8" cy="420.27" r="1.75" fill="#999" stroke="#222" stroke-width="0.5"/>
<circle cx="134.8" cy="422.84" r="1.75" fill="#aed4ef" stroke="#222" stroke-width="0.5"/>
<circle cx="134.8" cy="426.04" r="1.75" fill="#aed4ef" stroke="#222" stroke-width="0.5"/>
<circle cx="134.8" cy="450.4" r="1.75" fill="#111" stroke="#222" stroke-width="0.5"/>
<circle cx="152.1" cy="395.91" r="1.75" fill="#1b679e" stroke="#222" stroke-width="0.5"/>
<circle cx="152.1" cy="397.2" r="1.75" fill="#1b679e" stroke="#222" stroke-width="0.5"/>
<circle cx="152.1" cy="398.48" r="1.75" fill="#1b679e" stroke="#222" stroke-width="0.5"/>
<circle cx="152.1" cy="400.4" r="1.75" fill="#aed4ef" stroke="#222" stroke-width="0.5"/>
<circle cx="152.1" cy="406.17" r="1.75" fill="#aed4ef" stroke="#222" stroke-width="0.5"/>
<circle cx="152.1" cy="408.73" r="1.75" fill="#999" stroke="#222" stroke-width="0.5"/>
<circle cx="152.1" cy="410.66" r="1.75" fill="#999" stroke="#222" stroke-width="0.5"/>
<circle cx="152.1" cy="413.22" r="1.75" fill="#111" stroke="#222" stroke-width="0.5"/>
<line x1="175.9" y1="385.8" x2="175.9" y2="451" stroke="#1a1a1a" stroke-width="1.2" />
<line x1="175.4" y1="450.4" x2="227.4" y2="450.4" stroke="#1a1a1a" stroke-width="1.2" />
<line x1="173.3" y1="450.4" x2="175.9" y2="450.4" stroke="#1a1a1a" stroke-width="1" />
<line x1="173.3" y1="437.58" x2="175.9" y2="437.58" stroke="#1a1a1a" stroke-width="1" />
<line x1="173.3" y1="424.76" x2="175.9" y2="424.76" stroke="#1a1a1a" stroke-width="1" />
<line x1="173.3" y1="411.94" x2="175.9" y2="411.94" stroke="#1a1a1a" stroke-width="1" />
<line x1="173.3" y1="399.12" x2="175.9" y2="399.12" stroke="#1a1a1a" stroke-width="1" />
<line x1="173.3" y1="386.3" x2="175.9" y2="386.3" stroke="#1a1a1a" stroke-width="1" />
<line x1="184.3" y1="450.4" x2="184.3" y2="453.4" stroke="#1a1a1a" stroke-width="1" />
<text transform="translate(187,458) rotate(-45)" font-size="6.3" text-anchor="end" fill="#1a1a1a">E:T = 1:0.25</text>
<line x1="201.6" y1="450.4" x2="201.6" y2="453.4" stroke="#1a1a1a" stroke-width="1" />
<text transform="translate(204.3,458) rotate(-45)" font-size="6.3" text-anchor="end" fill="#1a1a1a">E:T = 1:1</text>
<line x1="218.9" y1="450.4" x2="218.9" y2="453.4" stroke="#1a1a1a" stroke-width="1" />
<text transform="translate(221.6,458) rotate(-45)" font-size="6.3" text-anchor="end" fill="#1a1a1a">PMA/Iono</text>
<text x="200" y="377.4" font-size="8.4" text-anchor="middle" fill="#1a1a1a" >IL-2</text>
<path d="M184.3,448.48 L201.6,438.86 L218.9,419.63" fill="none" stroke="#aed4ef" stroke-width="1.1" />
<path d="M184.3,448.16 L201.6,437.58 L218.9,418.35" fill="none" stroke="#9a9a9a" stroke-width="1.1" />
<path d="M184.3,447.84 L201.6,434.38 L218.9,413.86" fill="none" stroke="#1b679e" stroke-width="1.1" />
<path d="M184.3,450.4 L201.6,450.4 L218.9,415.14" fill="none" stroke="#111" stroke-width="1.1" />
<circle cx="184.3" cy="447.19" r="1.75" fill="#1b679e" stroke="#222" stroke-width="0.5"/>
<circle cx="184.3" cy="448.48" r="1.75" fill="#1b679e" stroke="#222" stroke-width="0.5"/>
<circle cx="184.3" cy="449.12" r="1.75" fill="#aed4ef" stroke="#222" stroke-width="0.5"/>
<circle cx="184.3" cy="450.4" r="1.75" fill="#111" stroke="#222" stroke-width="0.5"/>
<circle cx="201.6" cy="424.76" r="1.75" fill="#aed4ef" stroke="#222" stroke-width="0.5"/>
<circle cx="201.6" cy="429.89" r="1.75" fill="#1b679e" stroke="#222" stroke-width="0.5"/>
<circle cx="201.6" cy="431.17" r="1.75" fill="#1b679e" stroke="#222" stroke-width="0.5"/>
<circle cx="201.6" cy="435.66" r="1.75" fill="#1b679e" stroke="#222" stroke-width="0.5"/>
<circle cx="201.6" cy="437.58" r="1.75" fill="#aed4ef" stroke="#222" stroke-width="0.5"/>
<circle cx="201.6" cy="442.71" r="1.75" fill="#999" stroke="#222" stroke-width="0.5"/>
<circle cx="201.6" cy="444.63" r="1.75" fill="#999" stroke="#222" stroke-width="0.5"/>
<circle cx="201.6" cy="447.19" r="1.75" fill="#aed4ef" stroke="#222" stroke-width="0.5"/>
<circle cx="201.6" cy="450.4" r="1.75" fill="#111" stroke="#222" stroke-width="0.5"/>
<circle cx="218.9" cy="403.61" r="1.75" fill="#111" stroke="#222" stroke-width="0.5"/>
<circle cx="218.9" cy="409.38" r="1.75" fill="#1b679e" stroke="#222" stroke-width="0.5"/>
<circle cx="218.9" cy="411.3" r="1.75" fill="#1b679e" stroke="#222" stroke-width="0.5"/>
<circle cx="218.9" cy="413.22" r="1.75" fill="#1b679e" stroke="#222" stroke-width="0.5"/>
<circle cx="218.9" cy="416.43" r="1.75" fill="#1b679e" stroke="#222" stroke-width="0.5"/>
<circle cx="218.9" cy="422.84" r="1.75" fill="#999" stroke="#222" stroke-width="0.5"/>
<circle cx="218.9" cy="425.4" r="1.75" fill="#aed4ef" stroke="#222" stroke-width="0.5"/>
<circle cx="218.9" cy="430.53" r="1.75" fill="#111" stroke="#222" stroke-width="0.5"/>
<circle cx="218.9" cy="432.45" r="1.75" fill="#999" stroke="#222" stroke-width="0.5"/>
<circle cx="218.9" cy="435.02" r="1.75" fill="#999" stroke="#222" stroke-width="0.5"/>
<text transform="translate(21.8,418.5) rotate(-90)" font-size="7.3" text-anchor="middle" fill="#1a1a1a">% of EGFRt<tspan font-size="4.6" dy="-2.6">+</tspan></text>
<text x="245.4" y="371.9" font-size="10.4" text-anchor="start" font-weight="bold" fill="#1a1a1a" >h</text>
<line x1="275.6" y1="385.8" x2="275.6" y2="450.9" stroke="#1a1a1a" stroke-width="1.2" />
<line x1="275.1" y1="450.3" x2="383.35" y2="450.3" stroke="#1a1a1a" stroke-width="1.2" />
<line x1="273" y1="450.3" x2="275.6" y2="450.3" stroke="#1a1a1a" stroke-width="1" />
<text x="272.6" y="451.3" font-size="7.6" text-anchor="end" fill="#1a1a1a" >0</text>
<line x1="273" y1="434.3" x2="275.6" y2="434.3" stroke="#1a1a1a" stroke-width="1" />
<text x="272.6" y="435.3" font-size="7.6" text-anchor="end" fill="#1a1a1a" >1</text>
<line x1="273" y1="418.3" x2="275.6" y2="418.3" stroke="#1a1a1a" stroke-width="1" />
<text x="272.6" y="419.3" font-size="7.6" text-anchor="end" fill="#1a1a1a" >2</text>
<line x1="273" y1="402.3" x2="275.6" y2="402.3" stroke="#1a1a1a" stroke-width="1" />
<text x="272.6" y="403.3" font-size="7.6" text-anchor="end" fill="#1a1a1a" >3</text>
<line x1="273" y1="386.3" x2="275.6" y2="386.3" stroke="#1a1a1a" stroke-width="1" />
<text x="272.6" y="387.3" font-size="7.6" text-anchor="end" fill="#1a1a1a" >4</text>
<line x1="275.6" y1="450.3" x2="275.6" y2="453.1" stroke="#1a1a1a" stroke-width="1" />
<text x="275.6" y="460" font-size="7.6" text-anchor="middle" fill="#1a1a1a" >0</text>
<line x1="297.05" y1="450.3" x2="297.05" y2="453.1" stroke="#1a1a1a" stroke-width="1" />
<text x="297.05" y="460" font-size="7.6" text-anchor="middle" fill="#1a1a1a" >5</text>
<line x1="318.5" y1="450.3" x2="318.5" y2="453.1" stroke="#1a1a1a" stroke-width="1" />
<text x="318.5" y="460" font-size="7.6" text-anchor="middle" fill="#1a1a1a" >10</text>
<line x1="339.95" y1="450.3" x2="339.95" y2="453.1" stroke="#1a1a1a" stroke-width="1" />
<text x="339.95" y="460" font-size="7.6" text-anchor="middle" fill="#1a1a1a" >15</text>
<line x1="361.4" y1="450.3" x2="361.4" y2="453.1" stroke="#1a1a1a" stroke-width="1" />
<text x="361.4" y="460" font-size="7.6" text-anchor="middle" fill="#1a1a1a" >20</text>
<line x1="382.85" y1="450.3" x2="382.85" y2="453.1" stroke="#1a1a1a" stroke-width="1" />
<text x="382.85" y="460" font-size="7.6" text-anchor="middle" fill="#1a1a1a" >25</text>
<line x1="493.8" y1="385.9" x2="493.8" y2="450.8" stroke="#1a1a1a" stroke-width="1.2" />
<line x1="493.3" y1="450.2" x2="602.05" y2="450.2" stroke="#1a1a1a" stroke-width="1.2" />
<line x1="491.2" y1="450.2" x2="493.8" y2="450.2" stroke="#1a1a1a" stroke-width="1" />
<text x="490.8" y="451.2" font-size="7.6" text-anchor="end" fill="#1a1a1a" >0</text>
<line x1="491.2" y1="434.25" x2="493.8" y2="434.25" stroke="#1a1a1a" stroke-width="1" />
<text x="490.8" y="435.25" font-size="7.6" text-anchor="end" fill="#1a1a1a" >1</text>
<line x1="491.2" y1="418.3" x2="493.8" y2="418.3" stroke="#1a1a1a" stroke-width="1" />
<text x="490.8" y="419.3" font-size="7.6" text-anchor="end" fill="#1a1a1a" >2</text>
<line x1="491.2" y1="402.35" x2="493.8" y2="402.35" stroke="#1a1a1a" stroke-width="1" />
<text x="490.8" y="403.35" font-size="7.6" text-anchor="end" fill="#1a1a1a" >3</text>
<line x1="491.2" y1="386.4" x2="493.8" y2="386.4" stroke="#1a1a1a" stroke-width="1" />
<text x="490.8" y="387.4" font-size="7.6" text-anchor="end" fill="#1a1a1a" >4</text>
<line x1="493.8" y1="450.2" x2="493.8" y2="453" stroke="#1a1a1a" stroke-width="1" />
<text x="493.8" y="460" font-size="7.6" text-anchor="middle" fill="#1a1a1a" >0</text>
<line x1="515.35" y1="450.2" x2="515.35" y2="453" stroke="#1a1a1a" stroke-width="1" />
<text x="515.35" y="460" font-size="7.6" text-anchor="middle" fill="#1a1a1a" >5</text>
<line x1="536.9" y1="450.2" x2="536.9" y2="453" stroke="#1a1a1a" stroke-width="1" />
<text x="536.9" y="460" font-size="7.6" text-anchor="middle" fill="#1a1a1a" >10</text>
<line x1="558.45" y1="450.2" x2="558.45" y2="453" stroke="#1a1a1a" stroke-width="1" />
<text x="558.45" y="460" font-size="7.6" text-anchor="middle" fill="#1a1a1a" >15</text>
<line x1="580" y1="450.2" x2="580" y2="453" stroke="#1a1a1a" stroke-width="1" />
<text x="580" y="460" font-size="7.6" text-anchor="middle" fill="#1a1a1a" >20</text>
<line x1="601.55" y1="450.2" x2="601.55" y2="453" stroke="#1a1a1a" stroke-width="1" />
<text x="601.55" y="460" font-size="7.6" text-anchor="middle" fill="#1a1a1a" >25</text>
<path d="M275.6,434.3 L276.67,432.7 L277.75,431.1 L278.82,429.5 L279.89,427.9 L280.96,429.9 L282.04,431.9 L283.11,433.9 L284.18,435.9 L285.25,436.48 L286.33,437.04 L287.4,437.6 L288.47,438.13 L289.54,438.66 L290.62,439.17 L291.69,439.67 L292.76,440.15 L293.83,440.63 L294.91,441.09 L295.98,441.54 L297.05,441.98 L298.12,442.24 L299.2,442.5 L300.27,442.75 L301.34,443.01 L302.41,443.25 L303.49,443.5 L304.56,443.74 L305.63,443.98 L306.7,444.21 L307.78,444.44 L308.85,444.66 L309.92,444.88 L310.99,445.08 L312.07,445.28 L313.14,445.48 L314.21,445.66 L315.28,445.83 L316.36,446 L317.43,446.15 L318.5,446.3 L319.57,446.43 L320.65,446.56 L321.72,446.67 L322.79,446.78 L323.86,446.87 L324.94,446.96 L326.01,447.04 L327.08,447.11 L328.15,447.17 L329.23,447.23 L330.3,447.28 L331.37,447.33 L332.44,447.37 L333.52,447.41 L334.59,447.44 L335.66,447.48 L336.73,447.5 L337.81,447.53 L338.88,447.56 L339.95,447.58 L341.02,447.6 L342.1,447.61 L343.17,447.62 L344.24,447.62 L345.31,447.61 L346.38,447.6 L347.46,447.58 L348.53,447.56 L349.6,447.54 L350.68,447.51 L351.75,447.48 L352.82,447.45 L353.89,447.42 L354.97,447.39 L356.04,447.37 L357.11,447.34 L358.18,447.31 L359.25,447.29 L360.33,447.27 L361.4,447.26 L362.47,447.25 L363.55,447.24 L364.62,447.23 L365.69,447.22 L366.76,447.21 L367.84,447.2 L368.91,447.19 L369.98,447.18 L371.05,447.18 L372.12,447.17 L373.2,447.16 L374.27,447.16 L375.34,447.15 L376.42,447.14 L377.49,447.14 L378.56,447.13 L379.63,447.12 L380.71,447.12 L381.78,447.11 L382.85,447.1" fill="none" stroke="#aaa" stroke-width="0.8" stroke-linejoin="round" />
<path d="M275.6,434.3 L276.67,432.5 L277.75,430.7 L278.82,428.9 L279.89,427.1 L280.96,429.1 L282.04,431.1 L283.11,433.1 L284.18,435.1 L285.25,435.65 L286.33,436.18 L287.4,436.69 L288.47,437.17 L289.54,437.64 L290.62,438.1 L291.69,438.54 L292.76,438.98 L293.83,439.41 L294.91,439.84 L295.98,440.27 L297.05,440.7 L298.12,440.96 L299.2,441.23 L300.27,441.49 L301.34,441.76 L302.41,442.03 L303.49,442.3 L304.56,442.57 L305.63,442.83 L306.7,443.09 L307.78,443.35 L308.85,443.6 L309.92,443.85 L310.99,444.09 L312.07,444.32 L313.14,444.54 L314.21,444.76 L315.28,444.96 L316.36,445.15 L317.43,445.33 L318.5,445.5 L319.57,445.65 L320.65,445.8 L321.72,445.93 L322.79,446.05 L323.86,446.16 L324.94,446.27 L326.01,446.36 L327.08,446.45 L328.15,446.53 L329.23,446.6 L330.3,446.67 L331.37,446.73 L332.44,446.79 L333.52,446.84 L334.59,446.89 L335.66,446.93 L336.73,446.98 L337.81,447.02 L338.88,447.06 L339.95,447.1 L341.02,447.14 L342.1,447.17 L343.17,447.19 L344.24,447.21 L345.31,447.22 L346.38,447.23 L347.46,447.23 L348.53,447.23 L349.6,447.23 L350.68,447.22 L351.75,447.21 L352.82,447.2 L353.89,447.19 L354.97,447.17 L356.04,447.16 L357.11,447.15 L358.18,447.13 L359.25,447.12 L360.33,447.11 L361.4,447.1 L362.47,447.09 L363.55,447.08 L364.62,447.07 L365.69,447.06 L366.76,447.04 L367.84,447.03 L368.91,447.01 L369.98,447 L371.05,446.98 L372.12,446.96 L373.2,446.94 L374.27,446.92 L375.34,446.9 L376.42,446.89 L377.49,446.87 L378.56,446.85 L379.63,446.83 L380.71,446.81 L381.78,446.8 L382.85,446.78" fill="none" stroke="#9ccaec" stroke-width="1.0" stroke-linejoin="round" />
<path d="M275.6,433.5 L276.67,431.61 L277.75,429.72 L278.82,427.83 L279.89,425.94 L280.96,428.04 L282.04,430.14 L283.11,432.24 L284.18,434.34 L285.25,434.92 L286.33,435.48 L287.4,436.01 L288.47,436.52 L289.54,437.01 L290.62,437.49 L291.69,437.96 L292.76,438.42 L293.83,438.87 L294.91,439.32 L295.98,439.77 L297.05,440.22 L298.12,440.49 L299.2,440.77 L300.27,441.05 L301.34,441.34 L302.41,441.62 L303.49,441.9 L304.56,442.18 L305.63,442.46 L306.7,442.73 L307.78,443 L308.85,443.27 L309.92,443.53 L310.99,443.78 L312.07,444.02 L313.14,444.26 L314.21,444.48 L315.28,444.69 L316.36,444.9 L317.43,445.08 L318.5,445.26 L319.57,445.42 L320.65,445.57 L321.72,445.71 L322.79,445.84 L323.86,445.96 L324.94,446.06 L326.01,446.16 L327.08,446.25 L328.15,446.34 L329.23,446.42 L330.3,446.49 L331.37,446.55 L332.44,446.61 L333.52,446.67 L334.59,446.72 L335.66,446.77 L336.73,446.81 L337.81,446.86 L338.88,446.9 L339.95,446.94 L341.02,446.98 L342.1,447.01 L343.17,447.03 L344.24,447.05 L345.31,447.07 L346.38,447.07 L347.46,447.08 L348.53,447.08 L349.6,447.07 L350.68,447.07 L351.75,447.06 L352.82,447.04 L353.89,447.03 L354.97,447.02 L356.04,447 L357.11,446.99 L358.18,446.97 L359.25,446.96 L360.33,446.95 L361.4,446.94 L362.47,446.93 L363.55,446.92 L364.62,446.91 L365.69,446.89 L366.76,446.88 L367.84,446.86 L368.91,446.85 L369.98,446.83 L371.05,446.81 L372.12,446.79 L373.2,446.77 L374.27,446.75 L375.34,446.73 L376.42,446.72 L377.49,446.7 L378.56,446.68 L379.63,446.66 L380.71,446.64 L381.78,446.62 L382.85,446.6" fill="none" stroke="#b9dbf3" stroke-width="0.8" stroke-linejoin="round" />
<path d="M275.6,434.3 L276.67,432.1 L277.75,429.9 L278.82,427.7 L279.89,425.5 L280.96,427.7 L282.04,429.9 L283.11,432.1 L284.18,434.3 L285.25,434.85 L286.33,435.35 L287.4,435.8 L288.47,436.23 L289.54,436.62 L290.62,437 L291.69,437.37 L292.76,437.73 L293.83,438.09 L294.91,438.46 L295.98,438.85 L297.05,439.26 L298.12,439.52 L299.2,439.79 L300.27,440.06 L301.34,440.34 L302.41,440.63 L303.49,440.92 L304.56,441.21 L305.63,441.49 L306.7,441.78 L307.78,442.07 L308.85,442.35 L309.92,442.63 L310.99,442.9 L312.07,443.17 L313.14,443.43 L314.21,443.67 L315.28,443.91 L316.36,444.13 L317.43,444.34 L318.5,444.54 L319.57,444.72 L320.65,444.9 L321.72,445.06 L322.79,445.22 L323.86,445.37 L324.94,445.51 L326.01,445.64 L327.08,445.76 L328.15,445.88 L329.23,445.99 L330.3,446.09 L331.37,446.19 L332.44,446.28 L333.52,446.37 L334.59,446.45 L335.66,446.52 L336.73,446.59 L337.81,446.66 L338.88,446.72 L339.95,446.78 L341.02,446.83 L342.1,446.87 L343.17,446.9 L344.24,446.93 L345.31,446.94 L346.38,446.95 L347.46,446.96 L348.53,446.96 L349.6,446.95 L350.68,446.94 L351.75,446.93 L352.82,446.91 L353.89,446.89 L354.97,446.87 L356.04,446.86 L357.11,446.84 L358.18,446.82 L359.25,446.8 L360.33,446.79 L361.4,446.78 L362.47,446.77 L363.55,446.76 L364.62,446.75 L365.69,446.74 L366.76,446.72 L367.84,446.71 L368.91,446.69 L369.98,446.68 L371.05,446.66 L372.12,446.64 L373.2,446.62 L374.27,446.6 L375.34,446.58 L376.42,446.57 L377.49,446.55 L378.56,446.53 L379.63,446.51 L380.71,446.49 L381.78,446.48 L382.85,446.46" fill="none" stroke="#2a74b0" stroke-width="1.3" stroke-linejoin="round" />
<path d="M275.6,434.78 L276.67,433.23 L277.75,431.68 L278.82,430.12 L279.89,428.57 L280.96,429.7 L282.04,430.82 L283.11,431.95 L284.18,433.07 L285.25,433.01 L286.33,432.84 L287.4,432.58 L288.47,432.25 L289.54,431.84 L290.62,431.39 L291.69,430.91 L292.76,430.4 L293.83,429.88 L294.91,429.37 L295.98,428.88 L297.05,428.42 L298.12,428.15 L299.2,427.89 L300.27,427.63 L301.34,427.36 L302.41,427.1 L303.49,426.83 L304.56,426.56 L305.63,426.28 L306.7,426 L307.78,425.72 L308.85,425.43 L309.92,425.14 L310.99,424.84 L312.07,424.53 L313.14,424.22 L314.21,423.9 L315.28,423.57 L316.36,423.23 L317.43,422.88 L318.5,422.52 L319.57,422.15 L320.65,421.77 L321.72,421.38 L322.79,420.98 L323.86,420.58 L324.94,420.16 L326.01,419.74 L327.08,419.31 L328.15,418.88 L329.23,418.44 L330.3,417.99 L331.37,417.54 L332.44,417.08 L333.52,416.63 L334.59,416.16 L335.66,415.7 L336.73,415.23 L337.81,414.77 L338.88,414.3 L339.95,413.83 L341.02,413.36 L342.1,412.89 L343.17,412.42 L344.24,411.95 L345.31,411.47 L346.38,411 L347.46,410.52 L348.53,410.03 L349.6,409.55 L350.68,409.06 L351.75,408.56 L352.82,408.05 L353.89,407.54 L354.97,407.03 L356.04,406.5 L357.11,405.97 L358.18,405.43 L359.25,404.87 L360.33,404.31 L361.4,403.74 L362.47,403.15 L363.55,402.56 L364.62,401.94 L365.69,401.32 L366.76,400.69 L367.84,400.05 L368.91,399.4 L369.98,398.74 L371.05,398.07 L372.12,397.41 L373.2,396.73 L374.27,396.06 L375.34,395.38 L376.42,394.71 L377.49,394.03 L378.56,393.36 L379.63,392.69 L380.71,392.02 L381.78,391.36 L382.85,390.7" fill="none" stroke="#777" stroke-width="0.8" stroke-linejoin="round" />
<path d="M275.6,434.54 L276.67,432.96 L277.75,431.39 L278.82,429.81 L279.89,428.24 L280.96,429.38 L282.04,430.52 L283.11,431.66 L284.18,432.81 L285.25,432.74 L286.33,432.57 L287.4,432.31 L288.47,431.97 L289.54,431.56 L290.62,431.1 L291.69,430.61 L292.76,430.09 L293.83,429.57 L294.91,429.05 L295.98,428.55 L297.05,428.08 L298.12,427.81 L299.2,427.54 L300.27,427.28 L301.34,427.01 L302.41,426.74 L303.49,426.46 L304.56,426.19 L305.63,425.91 L306.7,425.63 L307.78,425.34 L308.85,425.05 L309.92,424.75 L310.99,424.45 L312.07,424.13 L313.14,423.82 L314.21,423.49 L315.28,423.15 L316.36,422.81 L317.43,422.45 L318.5,422.09 L319.57,421.71 L320.65,421.33 L321.72,420.93 L322.79,420.53 L323.86,420.12 L324.94,419.7 L326.01,419.27 L327.08,418.83 L328.15,418.39 L329.23,417.94 L330.3,417.49 L331.37,417.03 L332.44,416.57 L333.52,416.11 L334.59,415.64 L335.66,415.17 L336.73,414.69 L337.81,414.22 L338.88,413.74 L339.95,413.26 L341.02,412.79 L342.1,412.31 L343.17,411.83 L344.24,411.35 L345.31,410.87 L346.38,410.39 L347.46,409.9 L348.53,409.41 L349.6,408.92 L350.68,408.42 L351.75,407.91 L352.82,407.4 L353.89,406.88 L354.97,406.36 L356.04,405.82 L357.11,405.28 L358.18,404.73 L359.25,404.17 L360.33,403.6 L361.4,403.02 L362.47,402.43 L363.55,401.82 L364.62,401.2 L365.69,400.56 L366.76,399.92 L367.84,399.27 L368.91,398.61 L369.98,397.94 L371.05,397.27 L372.12,396.59 L373.2,395.91 L374.27,395.22 L375.34,394.53 L376.42,393.85 L377.49,393.16 L378.56,392.48 L379.63,391.8 L380.71,391.12 L381.78,390.45 L382.85,389.78" fill="none" stroke="#444" stroke-width="0.9" stroke-linejoin="round" />
<path d="M275.6,434.3 L276.67,433.3 L277.75,432.3 L278.82,431.3 L279.89,430.3 L280.96,430.82 L282.04,431.34 L283.11,431.86 L284.18,432.38 L285.25,432.24 L286.33,432.03 L287.4,431.78 L288.47,431.47 L289.54,431.11 L290.62,430.71 L291.69,430.27 L292.76,429.79 L293.83,429.28 L294.91,428.74 L295.98,428.17 L297.05,427.58 L298.12,427.21 L299.2,426.81 L300.27,426.4 L301.34,425.96 L302.41,425.51 L303.49,425.04 L304.56,424.56 L305.63,424.07 L306.7,423.57 L307.78,423.06 L308.85,422.55 L309.92,422.03 L310.99,421.51 L312.07,420.99 L313.14,420.47 L314.21,419.96 L315.28,419.45 L316.36,418.95 L317.43,418.46 L318.5,417.98 L319.57,417.51 L320.65,417.05 L321.72,416.59 L322.79,416.13 L323.86,415.68 L324.94,415.23 L326.01,414.78 L327.08,414.33 L328.15,413.88 L329.23,413.43 L330.3,412.98 L331.37,412.52 L332.44,412.07 L333.52,411.6 L334.59,411.14 L335.66,410.66 L336.73,410.18 L337.81,409.7 L338.88,409.2 L339.95,408.7 L341.02,408.19 L342.1,407.67 L343.17,407.15 L344.24,406.62 L345.31,406.09 L346.38,405.55 L347.46,405.01 L348.53,404.46 L349.6,403.91 L350.68,403.36 L351.75,402.8 L352.82,402.24 L353.89,401.68 L354.97,401.11 L356.04,400.54 L357.11,399.97 L358.18,399.39 L359.25,398.82 L360.33,398.24 L361.4,397.66 L362.47,397.08 L363.55,396.49 L364.62,395.9 L365.69,395.3 L366.76,394.7 L367.84,394.09 L368.91,393.49 L369.98,392.88 L371.05,392.26 L372.12,391.65 L373.2,391.03 L374.27,390.42 L375.34,389.8 L376.42,389.18 L377.49,388.57 L378.56,387.95 L379.63,387.33 L380.71,386.72" fill="none" stroke="#c0393b" stroke-width="1.1" stroke-linejoin="round" />
<path d="M275.6,434.3 L276.67,432.7 L277.75,431.1 L278.82,429.5 L279.89,427.9 L280.96,429.06 L282.04,430.22 L283.11,431.38 L284.18,432.54 L285.25,432.47 L286.33,432.3 L287.4,432.03 L288.47,431.69 L289.54,431.27 L290.62,430.81 L291.69,430.31 L292.76,429.78 L293.83,429.25 L294.91,428.72 L295.98,428.21 L297.05,427.74 L298.12,427.47 L299.2,427.2 L300.27,426.92 L301.34,426.65 L302.41,426.38 L303.49,426.1 L304.56,425.82 L305.63,425.54 L306.7,425.25 L307.78,424.96 L308.85,424.66 L309.92,424.36 L310.99,424.05 L312.07,423.74 L313.14,423.41 L314.21,423.08 L315.28,422.74 L316.36,422.39 L317.43,422.03 L318.5,421.66 L319.57,421.28 L320.65,420.89 L321.72,420.49 L322.79,420.08 L323.86,419.66 L324.94,419.23 L326.01,418.79 L327.08,418.35 L328.15,417.9 L329.23,417.45 L330.3,416.99 L331.37,416.53 L332.44,416.06 L333.52,415.58 L334.59,415.11 L335.66,414.63 L336.73,414.15 L337.81,413.67 L338.88,413.18 L339.95,412.7 L341.02,412.22 L342.1,411.73 L343.17,411.25 L344.24,410.76 L345.31,410.27 L346.38,409.78 L347.46,409.29 L348.53,408.79 L349.6,408.29 L350.68,407.78 L351.75,407.27 L352.82,406.75 L353.89,406.22 L354.97,405.69 L356.04,405.15 L357.11,404.6 L358.18,404.04 L359.25,403.47 L360.33,402.89 L361.4,402.3 L362.47,401.7 L363.55,401.08 L364.62,400.45 L365.69,399.81 L366.76,399.15 L367.84,398.49 L368.91,397.82 L369.98,397.14 L371.05,396.46 L372.12,395.77 L373.2,395.08 L374.27,394.38 L375.34,393.69 L376.42,392.99 L377.49,392.29 L378.56,391.6 L379.63,390.91 L380.71,390.22 L381.78,389.54 L382.85,388.86" fill="none" stroke="#111" stroke-width="1.3" stroke-linejoin="round" />
<text x="319.9" y="378.6" font-size="8.6" text-anchor="start" fill="#1a1a1a" >CD19<tspan font-size="7" font-weight="bold" dy="-3.2">+</tspan><tspan dy="3.2"> HEK (E:T = 4:1)</tspan></text>
<text transform="translate(263.2,417) rotate(-90)" font-size="6.5" text-anchor="middle" fill="#1a1a1a">norm. cell index</text>
<text x="327.4" y="468.5" font-size="6.6" text-anchor="middle" fill="#1a1a1a" >after CAR-T [h]</text>
<path d="M493.8,434.25 L494.88,434.58 L495.95,434.94 L497.03,435.32 L498.11,435.7 L499.19,436.04 L500.26,436.32 L501.34,436.53 L502.42,436.64 L503.5,436.63 L504.57,436.52 L505.65,436.34 L506.73,436.09 L507.81,435.82 L508.88,435.54 L509.96,435.27 L511.04,435.05 L512.12,434.85 L513.2,434.66 L514.27,434.46 L515.35,434.27 L516.43,434.07 L517.5,433.87 L518.58,433.67 L519.66,433.45 L520.74,433.23 L521.82,433 L522.89,432.77 L523.97,432.53 L525.05,432.28 L526.12,432.04 L527.2,431.79 L528.28,431.54 L529.36,431.29 L530.44,431.04 L531.51,430.79 L532.59,430.53 L533.67,430.27 L534.75,430.01 L535.82,429.74 L536.9,429.46 L537.98,429.18 L539.06,428.87 L540.13,428.56 L541.21,428.24 L542.29,427.93 L543.37,427.62 L544.44,427.34 L545.52,427.07 L546.6,426.91 L547.67,426.77 L548.75,426.63 L549.83,426.5 L550.91,426.38 L551.99,426.26 L553.06,426.14 L554.14,426.02 L555.22,425.89 L556.29,425.76 L557.37,425.62 L558.45,425.48 L559.53,425.32 L560.61,425.16 L561.68,424.99 L562.76,424.82 L563.84,424.64 L564.91,424.46 L565.99,424.28 L567.07,424.1 L568.15,423.92 L569.23,423.75 L570.3,423.57 L571.38,423.4 L572.46,423.16 L573.53,422.93 L574.61,422.7 L575.69,422.47 L576.77,422.24 L577.85,422 L578.92,421.75 L580,421.49 L581.08,421.23 L582.15,420.98 L583.23,420.73 L584.31,420.47 L585.39,420.19 L586.47,419.88 L587.54,419.51 L588.62,419.1 L589.7,418.78 L590.77,418.44 L591.85,418.07 L592.93,417.68 L594.01,417.27 L595.09,416.85 L596.16,416.43 L597.24,416 L598.32,415.56 L599.39,415.14 L600.47,414.72 L601.55,414.31" fill="none" stroke="#999" stroke-width="0.8" stroke-linejoin="round" />
<path d="M493.8,434.89 L494.88,435 L495.95,435.15 L497.03,435.31 L498.11,435.46 L499.19,435.59 L500.26,435.68 L501.34,435.7 L502.42,435.65 L503.5,435.51 L504.57,435.28 L505.65,434.98 L506.73,434.65 L507.81,434.3 L508.88,433.95 L509.96,433.63 L511.04,433.36 L512.12,433.14 L513.2,432.96 L514.27,432.79 L515.35,432.64 L516.43,432.48 L517.5,432.3 L518.58,432.09 L519.66,431.83 L520.74,431.52 L521.82,431.17 L522.89,430.8 L523.97,430.41 L525.05,430 L526.12,429.59 L527.2,429.17 L528.28,428.76 L529.36,428.35 L530.44,427.93 L531.51,427.5 L532.59,427.06 L533.67,426.63 L534.75,426.2 L535.82,425.79 L536.9,425.39 L537.98,425.01 L539.06,424.64 L540.13,424.28 L541.21,423.92 L542.29,423.58 L543.37,423.25 L544.44,422.93 L545.52,422.64 L546.6,422.46 L547.67,422.29 L548.75,422.14 L549.83,421.99 L550.91,421.85 L551.99,421.72 L553.06,421.59 L554.14,421.45 L555.22,421.3 L556.29,421.15 L557.37,420.98 L558.45,420.8 L559.53,420.6 L560.61,420.39 L561.68,420.17 L562.76,419.93 L563.84,419.69 L564.91,419.45 L565.99,419.21 L567.07,418.96 L568.15,418.72 L569.23,418.49 L570.3,418.26 L571.38,418.04 L572.46,417.74 L573.53,417.46 L574.61,417.18 L575.69,416.92 L576.77,416.65 L577.85,416.37 L578.92,416.07 L580,415.75 L581.08,415.42 L582.15,415.09 L583.23,414.76 L584.31,414.41 L585.39,414.04 L586.47,413.63 L587.54,413.18 L588.62,412.69 L589.7,412.32 L590.77,411.93 L591.85,411.51 L592.93,411.07 L594.01,410.62 L595.09,410.15 L596.16,409.68 L597.24,409.2 L598.32,408.72 L599.39,408.25 L600.47,407.78 L601.55,407.33" fill="none" stroke="#cfe4f5" stroke-width="1.4" stroke-linejoin="round" />
<path d="M493.8,434.25 L494.88,434.37 L495.95,434.52 L497.03,434.69 L498.11,434.85 L499.19,434.98 L500.26,435.07 L501.34,435.1 L502.42,435.05 L503.5,434.9 L504.57,434.65 L505.65,434.35 L506.73,434 L507.81,433.63 L508.88,433.27 L509.96,432.94 L511.04,432.65 L512.12,432.43 L513.2,432.24 L514.27,432.07 L515.35,431.91 L516.43,431.74 L517.5,431.55 L518.58,431.33 L519.66,431.06 L520.74,430.74 L521.82,430.38 L522.89,429.99 L523.97,429.58 L525.05,429.16 L526.12,428.73 L527.2,428.29 L528.28,427.87 L529.36,427.44 L530.44,427 L531.51,426.55 L532.59,426.1 L533.67,425.64 L534.75,425.2 L535.82,424.77 L536.9,424.36 L537.98,423.97 L539.06,423.58 L540.13,423.2 L541.21,422.83 L542.29,422.47 L543.37,422.13 L544.44,421.8 L545.52,421.49 L546.6,421.3 L547.67,421.13 L548.75,420.97 L549.83,420.82 L550.91,420.67 L551.99,420.53 L553.06,420.39 L554.14,420.25 L555.22,420.1 L556.29,419.94 L557.37,419.77 L558.45,419.58 L559.53,419.37 L560.61,419.15 L561.68,418.91 L562.76,418.67 L563.84,418.42 L564.91,418.17 L565.99,417.92 L567.07,417.66 L568.15,417.41 L569.23,417.17 L570.3,416.93 L571.38,416.7 L572.46,416.39 L573.53,416.09 L574.61,415.81 L575.69,415.53 L576.77,415.25 L577.85,414.96 L578.92,414.65 L580,414.31 L581.08,413.97 L582.15,413.63 L583.23,413.28 L584.31,412.92 L585.39,412.53 L586.47,412.11 L587.54,411.64 L588.62,411.12 L589.7,410.74 L590.77,410.33 L591.85,409.9 L592.93,409.44 L594.01,408.97 L595.09,408.48 L596.16,407.99 L597.24,407.49 L598.32,406.99 L599.39,406.5 L600.47,406.01 L601.55,405.54" fill="none" stroke="#b5d8f1" stroke-width="1.4" stroke-linejoin="round" />
<path d="M493.8,433.77 L494.88,433.9 L495.95,434.05 L497.03,434.22 L498.11,434.39 L499.19,434.53 L500.26,434.62 L501.34,434.65 L502.42,434.59 L503.5,434.44 L504.57,434.19 L505.65,433.87 L506.73,433.51 L507.81,433.14 L508.88,432.76 L509.96,432.42 L511.04,432.13 L512.12,431.9 L513.2,431.7 L514.27,431.52 L515.35,431.36 L516.43,431.19 L517.5,430.99 L518.58,430.76 L519.66,430.49 L520.74,430.16 L521.82,429.79 L522.89,429.39 L523.97,428.97 L525.05,428.53 L526.12,428.08 L527.2,427.64 L528.28,427.2 L529.36,426.76 L530.44,426.3 L531.51,425.84 L532.59,425.37 L533.67,424.91 L534.75,424.45 L535.82,424.01 L536.9,423.59 L537.98,423.18 L539.06,422.78 L540.13,422.39 L541.21,422 L542.29,421.64 L543.37,421.28 L544.44,420.95 L545.52,420.63 L546.6,420.43 L547.67,420.25 L548.75,420.09 L549.83,419.94 L550.91,419.79 L551.99,419.64 L553.06,419.5 L554.14,419.35 L555.22,419.2 L556.29,419.03 L557.37,418.85 L558.45,418.66 L559.53,418.44 L560.61,418.22 L561.68,417.98 L562.76,417.73 L563.84,417.47 L564.91,417.21 L565.99,416.95 L567.07,416.69 L568.15,416.43 L569.23,416.18 L570.3,415.93 L571.38,415.7 L572.46,415.37 L573.53,415.07 L574.61,414.78 L575.69,414.49 L576.77,414.2 L577.85,413.9 L578.92,413.58 L580,413.24 L581.08,412.88 L582.15,412.53 L583.23,412.17 L584.31,411.8 L585.39,411.4 L586.47,410.96 L587.54,410.48 L588.62,409.95 L589.7,409.56 L590.77,409.13 L591.85,408.69 L592.93,408.22 L594.01,407.73 L595.09,407.23 L596.16,406.72 L597.24,406.21 L598.32,405.7 L599.39,405.19 L600.47,404.69 L601.55,404.2" fill="none" stroke="#9ccaec" stroke-width="1.0" stroke-linejoin="round" />
<path d="M493.8,433.77 L494.88,433.68 L495.95,433.6 L497.03,433.54 L498.11,433.46 L499.19,433.38 L500.26,433.27 L501.34,433.13 L502.42,432.95 L503.5,432.72 L504.57,432.44 L505.65,432.12 L506.73,431.79 L507.81,431.45 L508.88,431.11 L509.96,430.78 L511.04,430.49 L512.12,430.22 L513.2,429.99 L514.27,429.77 L515.35,429.55 L516.43,429.33 L517.5,429.09 L518.58,428.82 L519.66,428.51 L520.74,428.17 L521.82,427.81 L522.89,427.42 L523.97,427.02 L525.05,426.59 L526.12,426.15 L527.2,425.7 L528.28,425.23 L529.36,424.73 L530.44,424.2 L531.51,423.65 L532.59,423.08 L533.67,422.52 L534.75,421.97 L535.82,421.44 L536.9,420.96 L537.98,420.51 L539.06,420.08 L540.13,419.67 L541.21,419.28 L542.29,418.91 L543.37,418.54 L544.44,418.19 L545.52,417.84 L546.6,417.61 L547.67,417.4 L548.75,417.19 L549.83,417 L550.91,416.8 L551.99,416.61 L553.06,416.42 L554.14,416.23 L555.22,416.03 L556.29,415.82 L557.37,415.6 L558.45,415.37 L559.53,415.13 L560.61,414.87 L561.68,414.6 L562.76,414.33 L563.84,414.04 L564.91,413.76 L565.99,413.47 L567.07,413.19 L568.15,412.9 L569.23,412.62 L570.3,412.35 L571.38,412.09 L572.46,411.71 L573.53,411.34 L574.61,410.98 L575.69,410.63 L576.77,410.27 L577.85,409.91 L578.92,409.53 L580,409.13 L581.08,408.74 L582.15,408.39 L583.23,408.05 L584.31,407.68 L585.39,407.27 L586.47,406.79 L587.54,406.21 L588.62,405.51 L589.7,404.97 L590.77,404.36 L591.85,403.7 L592.93,402.99 L594.01,402.25 L595.09,401.48 L596.16,400.69 L597.24,399.9 L598.32,399.1 L599.39,398.32 L600.47,397.55 L601.55,396.81" fill="none" stroke="#e6a9a9" stroke-width="1.2" stroke-linejoin="round" />
<path d="M493.8,434.25 L494.88,434.16 L495.95,434.09 L497.03,434.02 L498.11,433.95 L499.19,433.87 L500.26,433.76 L501.34,433.63 L502.42,433.45 L503.5,433.23 L504.57,432.96 L505.65,432.65 L506.73,432.33 L507.81,431.99 L508.88,431.66 L509.96,431.35 L511.04,431.06 L512.12,430.81 L513.2,430.58 L514.27,430.36 L515.35,430.15 L516.43,429.94 L517.5,429.7 L518.58,429.44 L519.66,429.15 L520.74,428.81 L521.82,428.46 L522.89,428.09 L523.97,427.69 L525.05,427.28 L526.12,426.85 L527.2,426.41 L528.28,425.96 L529.36,425.48 L530.44,424.96 L531.51,424.42 L532.59,423.87 L533.67,423.32 L534.75,422.79 L535.82,422.28 L536.9,421.81 L537.98,421.37 L539.06,420.96 L540.13,420.56 L541.21,420.18 L542.29,419.82 L543.37,419.47 L544.44,419.12 L545.52,418.78 L546.6,418.56 L547.67,418.35 L548.75,418.15 L549.83,417.96 L550.91,417.78 L551.99,417.59 L553.06,417.41 L554.14,417.22 L555.22,417.03 L556.29,416.82 L557.37,416.61 L558.45,416.39 L559.53,416.15 L560.61,415.9 L561.68,415.64 L562.76,415.37 L563.84,415.1 L564.91,414.82 L565.99,414.54 L567.07,414.27 L568.15,413.99 L569.23,413.72 L570.3,413.45 L571.38,413.2 L572.46,412.83 L573.53,412.47 L574.61,412.12 L575.69,411.78 L576.77,411.43 L577.85,411.08 L578.92,410.71 L580,410.32 L581.08,409.95 L582.15,409.61 L583.23,409.27 L584.31,408.92 L585.39,408.52 L586.47,408.06 L587.54,407.5 L588.62,406.82 L589.7,406.28 L590.77,405.69 L591.85,405.05 L592.93,404.36 L594.01,403.64 L595.09,402.9 L596.16,402.14 L597.24,401.36 L598.32,400.59 L599.39,399.83 L600.47,399.08 L601.55,398.36" fill="none" stroke="#c0393b" stroke-width="1.1" stroke-linejoin="round" />
<path d="M493.8,434.25 L494.88,434.21 L495.95,434.19 L497.03,434.18 L498.11,434.17 L499.19,434.14 L500.26,434.07 L501.34,433.95 L502.42,433.77 L503.5,433.5 L504.57,433.15 L505.65,432.74 L506.73,432.31 L507.81,431.86 L508.88,431.44 L509.96,431.05 L511.04,430.74 L512.12,430.51 L513.2,430.34 L514.27,430.22 L515.35,430.11 L516.43,430.01 L517.5,429.88 L518.58,429.7 L519.66,429.46 L520.74,429.16 L521.82,428.81 L522.89,428.42 L523.97,428.01 L525.05,427.58 L526.12,427.14 L527.2,426.7 L528.28,426.27 L529.36,425.85 L530.44,425.41 L531.51,424.95 L532.59,424.5 L533.67,424.05 L534.75,423.61 L535.82,423.18 L536.9,422.77 L537.98,422.37 L539.06,421.99 L540.13,421.62 L541.21,421.26 L542.29,420.91 L543.37,420.56 L544.44,420.23 L545.52,419.89 L546.6,419.68 L547.67,419.48 L548.75,419.28 L549.83,419.09 L550.91,418.9 L551.99,418.72 L553.06,418.53 L554.14,418.34 L555.22,418.15 L556.29,417.94 L557.37,417.73 L558.45,417.5 L559.53,417.26 L560.61,417.01 L561.68,416.75 L562.76,416.49 L563.84,416.21 L564.91,415.94 L565.99,415.66 L567.07,415.38 L568.15,415.11 L569.23,414.83 L570.3,414.57 L571.38,414.31 L572.46,413.94 L573.53,413.59 L574.61,413.24 L575.69,412.9 L576.77,412.55 L577.85,412.2 L578.92,411.83 L580,411.44 L581.08,411.06 L582.15,410.7 L583.23,410.33 L584.31,409.96 L585.39,409.55 L586.47,409.08 L587.54,408.55 L588.62,407.93 L589.7,407.46 L590.77,406.95 L591.85,406.4 L592.93,405.81 L594.01,405.2 L595.09,404.57 L596.16,403.93 L597.24,403.28 L598.32,402.64 L599.39,401.99 L600.47,401.36 L601.55,400.75" fill="none" stroke="#2a74b0" stroke-width="1.3" stroke-linejoin="round" />
<path d="M493.8,434.25 L494.88,434.16 L495.95,434.09 L497.03,434.02 L498.11,433.95 L499.19,433.87 L500.26,433.76 L501.34,433.63 L502.42,433.45 L503.5,433.22 L504.57,432.95 L505.65,432.64 L506.73,432.31 L507.81,431.97 L508.88,431.64 L509.96,431.33 L511.04,431.06 L512.12,430.83 L513.2,430.64 L514.27,430.47 L515.35,430.31 L516.43,430.14 L517.5,429.96 L518.58,429.74 L519.66,429.46 L520.74,429.15 L521.82,428.8 L522.89,428.42 L523.97,428.02 L525.05,427.6 L526.12,427.17 L527.2,426.72 L528.28,426.27 L529.36,425.81 L530.44,425.32 L531.51,424.8 L532.59,424.28 L533.67,423.76 L534.75,423.25 L535.82,422.75 L536.9,422.29 L537.98,421.85 L539.06,421.42 L540.13,421.01 L541.21,420.61 L542.29,420.22 L543.37,419.84 L544.44,419.47 L545.52,419.1 L546.6,418.86 L547.67,418.63 L548.75,418.41 L549.83,418.19 L550.91,417.98 L551.99,417.77 L553.06,417.56 L554.14,417.34 L555.22,417.12 L556.29,416.89 L557.37,416.64 L558.45,416.39 L559.53,416.11 L560.61,415.82 L561.68,415.52 L562.76,415.22 L563.84,414.9 L564.91,414.58 L565.99,414.26 L567.07,413.94 L568.15,413.62 L569.23,413.31 L570.3,413.01 L571.38,412.72 L572.46,412.3 L573.53,411.91 L574.61,411.52 L575.69,411.14 L576.77,410.76 L577.85,410.37 L578.92,409.96 L580,409.53 L581.08,409.11 L582.15,408.74 L583.23,408.37 L584.31,407.98 L585.39,407.54 L586.47,407 L587.54,406.35 L588.62,405.54 L589.7,404.9 L590.77,404.18 L591.85,403.4 L592.93,402.56 L594.01,401.67 L595.09,400.75 L596.16,399.82 L597.24,398.86 L598.32,397.91 L599.39,396.97 L600.47,396.06 L601.55,395.17" fill="none" stroke="#111" stroke-width="1.4" stroke-linejoin="round" />
<text x="542.2" y="378.9" font-size="8.6" text-anchor="start" fill="#1a1a1a" >CD19<tspan font-size="6.5" font-weight="bold" dy="-3.2">−</tspan><tspan dy="3.2"> HEK (E:T = 4:1)</tspan></text>
<text transform="translate(482,417) rotate(-90)" font-size="6.5" text-anchor="middle" fill="#1a1a1a">norm. cell index</text>
<text x="552.3" y="468.3" font-size="6.6" text-anchor="middle" fill="#1a1a1a" >after CAR-T [h]</text>
<line x1="424.6" y1="385.9" x2="424.6" y2="451" stroke="#1a1a1a" stroke-width="1.2" />
<line x1="424.1" y1="450.4" x2="465.1" y2="450.4" stroke="#1a1a1a" stroke-width="1.2" />
<line x1="420.8" y1="450.4" x2="424.6" y2="450.4" stroke="#1a1a1a" stroke-width="1" />
<text x="420.6" y="451.3" font-size="7.6" text-anchor="end" fill="#1a1a1a" >0</text>
<line x1="420.8" y1="437.6" x2="424.6" y2="437.6" stroke="#1a1a1a" stroke-width="1" />
<text x="420.6" y="438.5" font-size="7.6" text-anchor="end" fill="#1a1a1a" >10</text>
<line x1="420.8" y1="424.8" x2="424.6" y2="424.8" stroke="#1a1a1a" stroke-width="1" />
<text x="420.6" y="425.7" font-size="7.6" text-anchor="end" fill="#1a1a1a" >20</text>
<line x1="420.8" y1="412" x2="424.6" y2="412" stroke="#1a1a1a" stroke-width="1" />
<text x="420.6" y="412.9" font-size="7.6" text-anchor="end" fill="#1a1a1a" >30</text>
<line x1="420.8" y1="399.2" x2="424.6" y2="399.2" stroke="#1a1a1a" stroke-width="1" />
<text x="420.6" y="400.1" font-size="7.6" text-anchor="end" fill="#1a1a1a" >40</text>
<line x1="420.8" y1="386.4" x2="424.6" y2="386.4" stroke="#1a1a1a" stroke-width="1" />
<text x="420.6" y="387.3" font-size="7.6" text-anchor="end" fill="#1a1a1a" >50</text>
<rect x="427" y="439.65" width="5.6" height="10.75" fill="#1b679e" stroke="#111" stroke-width="0.7" rx="0" />
<line x1="429.8" y1="439.65" x2="429.8" y2="439.14" stroke="#111" stroke-width="0.8" />
<line x1="428.6" y1="439.14" x2="431" y2="439.14" stroke="#111" stroke-width="0.8" />
<circle cx="428.8" cy="439.35" r="0.7" fill="#111" stroke="none" stroke-width="0.6"/>
<circle cx="430.8" cy="439.15" r="0.7" fill="#111" stroke="none" stroke-width="0.6"/>
<rect x="434.1" y="441.57" width="5.4" height="8.83" fill="#aed4ef" stroke="#111" stroke-width="0.7" rx="0" />
<line x1="436.8" y1="441.57" x2="436.8" y2="440.8" stroke="#111" stroke-width="0.8" />
<line x1="435.6" y1="440.8" x2="438" y2="440.8" stroke="#111" stroke-width="0.8" />
<circle cx="435.8" cy="441.27" r="0.7" fill="#111" stroke="none" stroke-width="0.6"/>
<circle cx="437.8" cy="441.07" r="0.7" fill="#111" stroke="none" stroke-width="0.6"/>
<rect x="441" y="439.65" width="6" height="10.75" fill="#b4b4b4" stroke="#111" stroke-width="0.7" rx="0" />
<line x1="444" y1="439.65" x2="444" y2="439.26" stroke="#111" stroke-width="0.8" />
<line x1="442.8" y1="439.26" x2="445.2" y2="439.26" stroke="#111" stroke-width="0.8" />
<circle cx="443" cy="439.35" r="0.7" fill="#111" stroke="none" stroke-width="0.6"/>
<circle cx="445" cy="439.15" r="0.7" fill="#111" stroke="none" stroke-width="0.6"/>
<rect x="448.3" y="403.3" width="5.8" height="47.1" fill="#3a3a3a" stroke="#111" stroke-width="0.7" rx="0" />
<line x1="451.2" y1="403.3" x2="451.2" y2="402.27" stroke="#111" stroke-width="0.8" />
<line x1="450" y1="402.27" x2="452.4" y2="402.27" stroke="#111" stroke-width="0.8" />
<circle cx="450.2" cy="403" r="0.7" fill="#111" stroke="none" stroke-width="0.6"/>
<circle cx="452.2" cy="402.8" r="0.7" fill="#111" stroke="none" stroke-width="0.6"/>
<rect x="455.4" y="399.71" width="5.6" height="50.69" fill="#c0393b" stroke="#111" stroke-width="0.7" rx="0" />
<line x1="458.2" y1="399.71" x2="458.2" y2="399.2" stroke="#111" stroke-width="0.8" />
<line x1="457" y1="399.2" x2="459.4" y2="399.2" stroke="#111" stroke-width="0.8" />
<circle cx="457.2" cy="399.41" r="0.7" fill="#111" stroke="none" stroke-width="0.6"/>
<circle cx="459.2" cy="399.21" r="0.7" fill="#111" stroke="none" stroke-width="0.6"/>
<text transform="translate(408.6,417) rotate(-90)" font-size="6.8" text-anchor="middle" fill="#1a1a1a">area under the curve</text>
<line x1="644.3" y1="385.9" x2="644.3" y2="451" stroke="#1a1a1a" stroke-width="1.2" />
<line x1="643.8" y1="450.4" x2="684.8" y2="450.4" stroke="#1a1a1a" stroke-width="1.2" />
<line x1="640.5" y1="450.4" x2="644.3" y2="450.4" stroke="#1a1a1a" stroke-width="1" />
<text x="640.3" y="451.3" font-size="7.6" text-anchor="end" fill="#1a1a1a" >0</text>
<line x1="640.5" y1="437.6" x2="644.3" y2="437.6" stroke="#1a1a1a" stroke-width="1" />
<text x="640.3" y="438.5" font-size="7.6" text-anchor="end" fill="#1a1a1a" >10</text>
<line x1="640.5" y1="424.8" x2="644.3" y2="424.8" stroke="#1a1a1a" stroke-width="1" />
<text x="640.3" y="425.7" font-size="7.6" text-anchor="end" fill="#1a1a1a" >20</text>
<line x1="640.5" y1="412" x2="644.3" y2="412" stroke="#1a1a1a" stroke-width="1" />
<text x="640.3" y="412.9" font-size="7.6" text-anchor="end" fill="#1a1a1a" >30</text>
<line x1="640.5" y1="399.2" x2="644.3" y2="399.2" stroke="#1a1a1a" stroke-width="1" />
<text x="640.3" y="400.1" font-size="7.6" text-anchor="end" fill="#1a1a1a" >40</text>
<line x1="640.5" y1="386.4" x2="644.3" y2="386.4" stroke="#1a1a1a" stroke-width="1" />
<text x="640.3" y="387.3" font-size="7.6" text-anchor="end" fill="#1a1a1a" >50</text>
<rect x="647.6" y="407.39" width="5.6" height="43.01" fill="#1b679e" stroke="#111" stroke-width="0.7" rx="0" />
<line x1="650.4" y1="407.39" x2="650.4" y2="406.62" stroke="#111" stroke-width="0.8" />
<line x1="649.2" y1="406.62" x2="651.6" y2="406.62" stroke="#111" stroke-width="0.8" />
<circle cx="649.4" cy="407.09" r="0.7" fill="#111" stroke="none" stroke-width="0.6"/>
<circle cx="651.4" cy="406.89" r="0.7" fill="#111" stroke="none" stroke-width="0.6"/>
<rect x="655.1" y="411.49" width="5.4" height="38.91" fill="#aed4ef" stroke="#111" stroke-width="0.7" rx="0" />
<line x1="657.8" y1="411.49" x2="657.8" y2="409.95" stroke="#111" stroke-width="0.8" />
<line x1="656.6" y1="409.95" x2="659" y2="409.95" stroke="#111" stroke-width="0.8" />
<circle cx="656.8" cy="411.19" r="0.7" fill="#111" stroke="none" stroke-width="0.6"/>
<circle cx="658.8" cy="410.99" r="0.7" fill="#111" stroke="none" stroke-width="0.6"/>
<rect x="662" y="417.76" width="5.6" height="32.64" fill="#b4b4b4" stroke="#111" stroke-width="0.7" rx="0" />
<line x1="664.8" y1="417.76" x2="664.8" y2="417.25" stroke="#111" stroke-width="0.8" />
<line x1="663.6" y1="417.25" x2="666" y2="417.25" stroke="#111" stroke-width="0.8" />
<circle cx="663.8" cy="417.46" r="0.7" fill="#111" stroke="none" stroke-width="0.6"/>
<circle cx="665.8" cy="417.26" r="0.7" fill="#111" stroke="none" stroke-width="0.6"/>
<rect x="669.1" y="406.11" width="5.6" height="44.29" fill="#3a3a3a" stroke="#111" stroke-width="0.7" rx="0" />
<line x1="671.9" y1="406.11" x2="671.9" y2="404.58" stroke="#111" stroke-width="0.8" />
<line x1="670.7" y1="404.58" x2="673.1" y2="404.58" stroke="#111" stroke-width="0.8" />
<circle cx="670.9" cy="405.81" r="0.7" fill="#111" stroke="none" stroke-width="0.6"/>
<circle cx="672.9" cy="405.61" r="0.7" fill="#111" stroke="none" stroke-width="0.6"/>
<rect x="676" y="406.37" width="5.6" height="44.03" fill="#c0393b" stroke="#111" stroke-width="0.7" rx="0" />
<line x1="678.8" y1="406.37" x2="678.8" y2="403.81" stroke="#111" stroke-width="0.8" />
<line x1="677.6" y1="403.81" x2="680" y2="403.81" stroke="#111" stroke-width="0.8" />
<circle cx="677.8" cy="406.07" r="0.7" fill="#111" stroke="none" stroke-width="0.6"/>
<circle cx="679.8" cy="405.87" r="0.7" fill="#111" stroke="none" stroke-width="0.6"/>
<text transform="translate(626.4,417) rotate(-90)" font-size="6.8" text-anchor="middle" fill="#1a1a1a">area under the curve</text>
<text x="353.5" y="480.8" font-size="7.5" text-anchor="start" fill="#1b679e" >JCAR017</text>
<text x="391.8" y="480.8" font-size="7.5" text-anchor="start" fill="#a9d1ee" >JCAR021</text>
<text x="428.7" y="480.8" font-size="7.5" text-anchor="start" fill="#b4b4b4" >CAT CAR</text>
<text x="465.7" y="480.8" font-size="7.5" text-anchor="start" fill="#111" >mock</text>
<text x="490.4" y="480.8" font-size="7.5" text-anchor="start" fill="#c0393b" >HEK only</text>
</svg>
</body></html>
